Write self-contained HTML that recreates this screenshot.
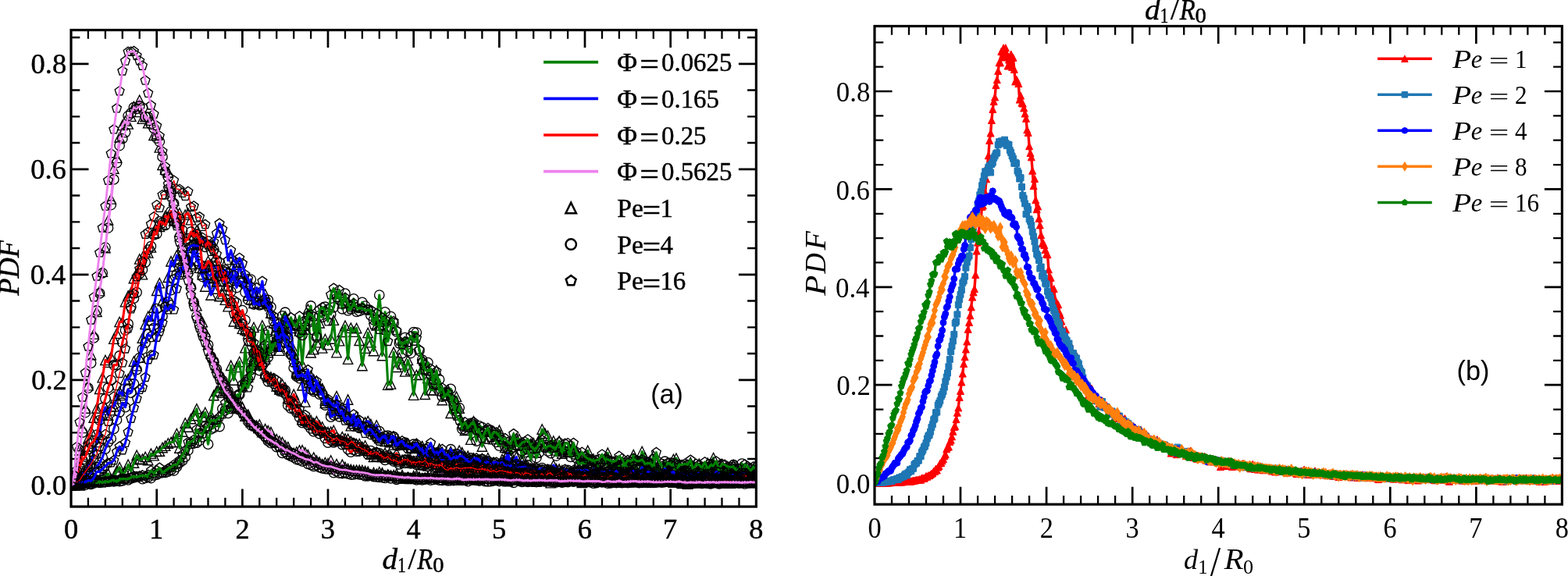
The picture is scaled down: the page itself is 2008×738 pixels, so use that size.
<!DOCTYPE html>
<html lang="en"><head><meta charset="utf-8"><title>PDF of d1/R0</title>
<style>html,body{margin:0;padding:0;background:#fff}body{width:2008px;height:738px;overflow:hidden}svg{display:block}text{fill:#000;font-kerning:none;white-space:pre}</style>
</head><body>
<svg width="2008" height="738" viewBox="0 0 2008 738">
<rect width="2008" height="738" fill="#fff"/>
<defs>
<marker id="lt" markerWidth="24" markerHeight="24" refX="12" refY="12" markerUnits="userSpaceOnUse" orient="0" overflow="visible"><path d="M12.00,5.80 L18.20,18.20 L5.80,18.20 Z" fill="none" stroke="#000" stroke-width="1.35" stroke-linejoin="miter"/></marker>
<marker id="lc" markerWidth="24" markerHeight="24" refX="12" refY="12" markerUnits="userSpaceOnUse" orient="0" overflow="visible"><circle cx="12" cy="12" r="6.2" fill="none" stroke="#000" stroke-width="1.35"/></marker>
<marker id="lp" markerWidth="24" markerHeight="24" refX="12" refY="12" markerUnits="userSpaceOnUse" orient="0" overflow="visible"><path d="M12.00,5.80 L17.90,10.08 L15.64,17.02 L8.36,17.02 L6.10,10.08 Z" fill="none" stroke="#000" stroke-width="1.35" stroke-linejoin="miter"/></marker>
<marker id="rt" markerWidth="24" markerHeight="24" refX="12" refY="12" markerUnits="userSpaceOnUse" orient="0" overflow="visible"><path d="M12.00,7.50 L16.50,16.50 L7.50,16.50 Z" fill="#ff0000" stroke="#ff0000" stroke-width="1" stroke-linejoin="miter"/></marker>
<marker id="rs" markerWidth="24" markerHeight="24" refX="12" refY="12" markerUnits="userSpaceOnUse" orient="0" overflow="visible"><path d="M8.03,8.03 L15.97,8.03 L15.97,15.97 L8.03,15.97 Z" fill="#1f77b4" stroke="#1f77b4" stroke-width="1" stroke-linejoin="miter"/></marker>
<marker id="rc" markerWidth="24" markerHeight="24" refX="12" refY="12" markerUnits="userSpaceOnUse" orient="0" overflow="visible"><circle cx="12" cy="12" r="3.975" fill="#0000ff" stroke="#0000ff" stroke-width="1"/></marker>
<marker id="rd" markerWidth="24" markerHeight="24" refX="12" refY="12" markerUnits="userSpaceOnUse" orient="0" overflow="visible"><path d="M12.00,5.90 L15.66,12.00 L12.00,18.09 L8.34,12.00 Z" fill="#ff7f0e" stroke="#ff7f0e" stroke-width="1" stroke-linejoin="miter"/></marker>
<marker id="rp" markerWidth="24" markerHeight="24" refX="12" refY="12" markerUnits="userSpaceOnUse" orient="0" overflow="visible"><path d="M12.00,7.76 L16.03,10.69 L14.49,15.43 L9.51,15.43 L7.97,10.69 Z" fill="#008000" stroke="#008000" stroke-width="1" stroke-linejoin="miter"/></marker>
<clipPath id="cl"><rect x="91" y="38.5" width="877.4" height="610.6"/></clipPath>
<clipPath id="cr"><rect x="1120" y="33.5" width="880.4" height="612.7"/></clipPath>
</defs>
<path d="M200.7,649.1v-22.5 M200.7,38.5v22.5 M310.4,649.1v-22.5 M310.4,38.5v22.5 M420,649.1v-22.5 M420,38.5v22.5 M529.7,649.1v-22.5 M529.7,38.5v22.5 M639.4,649.1v-22.5 M639.4,38.5v22.5 M749,649.1v-22.5 M749,38.5v22.5 M858.7,649.1v-22.5 M858.7,38.5v22.5 M91,621.8h22.5 M968.4,621.8h-22.5 M91,486.8h22.5 M968.4,486.8h-22.5 M91,351.8h22.5 M968.4,351.8h-22.5 M91,216.8h22.5 M968.4,216.8h-22.5 M91,81.8h22.5 M968.4,81.8h-22.5" stroke="#000" stroke-width="2.7" fill="none"/>
<path d="M112.9,649.1v-11.3 M112.9,38.5v11.3 M134.9,649.1v-11.3 M134.9,38.5v11.3 M156.8,649.1v-11.3 M156.8,38.5v11.3 M178.7,649.1v-11.3 M178.7,38.5v11.3 M222.6,649.1v-11.3 M222.6,38.5v11.3 M244.5,649.1v-11.3 M244.5,38.5v11.3 M266.5,649.1v-11.3 M266.5,38.5v11.3 M288.4,649.1v-11.3 M288.4,38.5v11.3 M332.3,649.1v-11.3 M332.3,38.5v11.3 M354.2,649.1v-11.3 M354.2,38.5v11.3 M376.2,649.1v-11.3 M376.2,38.5v11.3 M398.1,649.1v-11.3 M398.1,38.5v11.3 M442,649.1v-11.3 M442,38.5v11.3 M463.9,649.1v-11.3 M463.9,38.5v11.3 M485.8,649.1v-11.3 M485.8,38.5v11.3 M507.8,649.1v-11.3 M507.8,38.5v11.3 M551.6,649.1v-11.3 M551.6,38.5v11.3 M573.6,649.1v-11.3 M573.6,38.5v11.3 M595.5,649.1v-11.3 M595.5,38.5v11.3 M617.4,649.1v-11.3 M617.4,38.5v11.3 M661.3,649.1v-11.3 M661.3,38.5v11.3 M683.2,649.1v-11.3 M683.2,38.5v11.3 M705.2,649.1v-11.3 M705.2,38.5v11.3 M727.1,649.1v-11.3 M727.1,38.5v11.3 M771,649.1v-11.3 M771,38.5v11.3 M792.9,649.1v-11.3 M792.9,38.5v11.3 M814.9,649.1v-11.3 M814.9,38.5v11.3 M836.8,649.1v-11.3 M836.8,38.5v11.3 M880.7,649.1v-11.3 M880.7,38.5v11.3 M902.6,649.1v-11.3 M902.6,38.5v11.3 M924.5,649.1v-11.3 M924.5,38.5v11.3 M946.5,649.1v-11.3 M946.5,38.5v11.3 M91,588h11.3 M968.4,588h-11.3 M91,554.3h11.3 M968.4,554.3h-11.3 M91,520.5h11.3 M968.4,520.5h-11.3 M91,453h11.3 M968.4,453h-11.3 M91,419.3h11.3 M968.4,419.3h-11.3 M91,385.5h11.3 M968.4,385.5h-11.3 M91,318h11.3 M968.4,318h-11.3 M91,284.3h11.3 M968.4,284.3h-11.3 M91,250.5h11.3 M968.4,250.5h-11.3 M91,183h11.3 M968.4,183h-11.3 M91,149.3h11.3 M968.4,149.3h-11.3 M91,115.5h11.3 M968.4,115.5h-11.3 M91,48h11.3 M968.4,48h-11.3" stroke="#000" stroke-width="2.3" fill="none"/>
<g clip-path="url(#cl)" fill="none" stroke-linejoin="round" stroke-linecap="butt">
<polyline points="91,621.8 94.7,621.5 98.3,621.1 102,621.8 105.6,617.1 109.3,618.3 112.9,618.9 116.6,617.1 120.2,614.8 123.9,616.3 127.6,615.1 131.2,611.4 134.9,610.3 138.5,606.8 142.2,613.9 145.8,611.7 149.5,603.4 153.1,598.7 156.8,607.6 160.5,604.8 164.1,595.2 167.8,603.5 171.4,593.1 175.1,583.3 178.7,588.6 182.4,588.1 186.1,585.4 189.7,589.6 193.4,581.2 197,583.7 200.7,578.4 204.3,578.1 208,573.5 211.6,571.2 215.3,568 219,566.6 222.6,566.2 226.3,555.6 229.9,574 233.6,553.1 237.2,542 240.9,547.1 244.5,536.6 248.2,532.5 251.9,523.8 255.5,544.8 259.2,533.6 262.8,528.5 266.5,540.7 270.1,532 273.8,506.5 277.4,501.3 281.1,496.7 284.8,503.1 288.4,501.1 292.1,498.5 295.7,468.3 299.4,487 303,470.4 306.7,463.5 310.4,494.3 314,445.7 317.7,482.8 321.3,459.7 325,419.4 328.6,466.4 332.3,454.4 335.9,416.9 339.6,459.9 343.3,451.5 346.9,442.9 350.6,439.6 354.2,436.7 357.9,444.1 361.5,423.8 365.2,428.4 368.8,438.9 372.5,449.7 376.2,448.4 379.8,475.9 383.5,423.9 387.1,467 390.8,422 394.4,396.2 398.1,451.8 401.7,447.7 405.4,438.7 409.1,413.8 412.7,445.9 416.4,434.5 420,441.7 423.7,434 427.3,410.2 431,451.6 434.6,436.6 438.3,425.3 442,417.2 445.6,460.2 449.3,420.1 452.9,425.1 456.6,420.5 460.2,436.3 463.9,468.5 467.6,446.1 471.2,426.4 474.9,438.7 478.5,449.5 482.2,416.8 485.8,410.9 489.5,455.5 493.1,422 496.8,493.1 500.5,491.9 504.1,451.3 507.8,470.3 511.4,458.5 515.1,466.7 518.7,475.9 522.4,461.4 526,474.1 529.7,506.1 533.4,480.4 537,479.9 540.7,459.3 544.3,505.3 548,484.4 551.6,499.6 555.3,499.9 558.9,474.5 562.6,493.2 566.3,512.6 569.9,501.9 573.6,499.6 577.2,529.3 580.9,522.4 584.5,508.2 588.2,523.1 591.8,542.3 595.5,551.3 599.2,546.3 602.8,563.2 606.5,539.8 610.1,544.7 613.8,548.6 617.4,572 621.1,562.1 624.8,551.9 628.4,553 632.1,562.5 635.7,558.8 639.4,551.3 643,566.2 646.7,573.3 650.3,574 654,582.6 657.7,560.6 661.3,561.6 665,562.7 668.6,587 672.3,579.2 675.9,569.4 679.6,568.6 683.2,567.8 686.9,579.8 690.6,562.9 694.2,550 697.9,555.3 701.5,558.2 705.2,571.3 708.8,565 712.5,576.9 716.1,565.1 719.8,581 723.5,576.2 727.1,579.4 730.8,570.4 734.4,573.4 738.1,578.6 741.7,592.2 745.4,587.3 749,596.3 752.7,577.3 756.4,589.7 760,587.9 763.7,592.6 767.3,599 771,602.5 774.6,587.7 778.3,580.3 782,599.7 785.6,596.5 789.3,592.5 792.9,602.7 796.6,604.5 800.2,592.6 803.9,592.6 807.5,596.9 811.2,582.6 814.9,590.2 818.5,593.9 822.2,578.5 825.8,586.2 829.5,605.4 833.1,597.2 836.8,583.9 840.4,603.4 844.1,602 847.8,602.1 851.4,605.1 855.1,603 858.7,596.5 862.4,588.5 866,587.2 869.7,594.9 873.3,607.5 877,596.6 880.7,600.6 884.3,592.5 888,597.8 891.6,607.4 895.3,594.3 898.9,609.3 902.6,600.1 906.3,593.2 909.9,595.5 913.6,586.6 917.2,616.8 920.9,595.9 924.5,595.2 928.2,604.5 931.8,598.1 935.5,603.9 939.2,595.5 942.8,597 946.5,606.4 950.1,602.2 953.8,602.9 957.4,604.2 961.1,600.3 964.7,600.4 968.4,594.9" stroke="none" marker-start="url(#lt)" marker-mid="url(#lt)" marker-end="url(#lt)"/>
<polyline points="91,621.8 94.7,621.5 98.3,621.1 102,621.8 105.6,617.1 109.3,618.3 112.9,618.9 116.6,617.1 120.2,614.8 123.9,616.3 127.6,615.1 131.2,611.4 134.9,610.3 138.5,606.8 142.2,613.9 145.8,611.7 149.5,603.4 153.1,598.7 156.8,607.6 160.5,604.8 164.1,595.2 167.8,603.5 171.4,593.1 175.1,583.3 178.7,588.6 182.4,588.1 186.1,585.4 189.7,589.6 193.4,581.2 197,583.7 200.7,578.4 204.3,578.1 208,573.5 211.6,571.2 215.3,568 219,566.6 222.6,566.2 226.3,555.6 229.9,574 233.6,553.1 237.2,542 240.9,547.1 244.5,536.6 248.2,532.5 251.9,523.8 255.5,544.8 259.2,533.6 262.8,528.5 266.5,540.7 270.1,532 273.8,506.5 277.4,501.3 281.1,496.7 284.8,503.1 288.4,501.1 292.1,498.5 295.7,468.3 299.4,487 303,470.4 306.7,463.5 310.4,494.3 314,445.7 317.7,482.8 321.3,459.7 325,419.4 328.6,466.4 332.3,454.4 335.9,416.9 339.6,459.9 343.3,451.5 346.9,442.9 350.6,439.6 354.2,436.7 357.9,444.1 361.5,423.8 365.2,428.4 368.8,438.9 372.5,449.7 376.2,448.4 379.8,475.9 383.5,423.9 387.1,467 390.8,422 394.4,396.2 398.1,451.8 401.7,447.7 405.4,438.7 409.1,413.8 412.7,445.9 416.4,434.5 420,441.7 423.7,434 427.3,410.2 431,451.6 434.6,436.6 438.3,425.3 442,417.2 445.6,460.2 449.3,420.1 452.9,425.1 456.6,420.5 460.2,436.3 463.9,468.5 467.6,446.1 471.2,426.4 474.9,438.7 478.5,449.5 482.2,416.8 485.8,410.9 489.5,455.5 493.1,422 496.8,493.1 500.5,491.9 504.1,451.3 507.8,470.3 511.4,458.5 515.1,466.7 518.7,475.9 522.4,461.4 526,474.1 529.7,506.1 533.4,480.4 537,479.9 540.7,459.3 544.3,505.3 548,484.4 551.6,499.6 555.3,499.9 558.9,474.5 562.6,493.2 566.3,512.6 569.9,501.9 573.6,499.6 577.2,529.3 580.9,522.4 584.5,508.2 588.2,523.1 591.8,542.3 595.5,551.3 599.2,546.3 602.8,563.2 606.5,539.8 610.1,544.7 613.8,548.6 617.4,572 621.1,562.1 624.8,551.9 628.4,553 632.1,562.5 635.7,558.8 639.4,551.3 643,566.2 646.7,573.3 650.3,574 654,582.6 657.7,560.6 661.3,561.6 665,562.7 668.6,587 672.3,579.2 675.9,569.4 679.6,568.6 683.2,567.8 686.9,579.8 690.6,562.9 694.2,550 697.9,555.3 701.5,558.2 705.2,571.3 708.8,565 712.5,576.9 716.1,565.1 719.8,581 723.5,576.2 727.1,579.4 730.8,570.4 734.4,573.4 738.1,578.6 741.7,592.2 745.4,587.3 749,596.3 752.7,577.3 756.4,589.7 760,587.9 763.7,592.6 767.3,599 771,602.5 774.6,587.7 778.3,580.3 782,599.7 785.6,596.5 789.3,592.5 792.9,602.7 796.6,604.5 800.2,592.6 803.9,592.6 807.5,596.9 811.2,582.6 814.9,590.2 818.5,593.9 822.2,578.5 825.8,586.2 829.5,605.4 833.1,597.2 836.8,583.9 840.4,603.4 844.1,602 847.8,602.1 851.4,605.1 855.1,603 858.7,596.5 862.4,588.5 866,587.2 869.7,594.9 873.3,607.5 877,596.6 880.7,600.6 884.3,592.5 888,597.8 891.6,607.4 895.3,594.3 898.9,609.3 902.6,600.1 906.3,593.2 909.9,595.5 913.6,586.6 917.2,616.8 920.9,595.9 924.5,595.2 928.2,604.5 931.8,598.1 935.5,603.9 939.2,595.5 942.8,597 946.5,606.4 950.1,602.2 953.8,602.9 957.4,604.2 961.1,600.3 964.7,600.4 968.4,594.9" stroke="#008000" stroke-width="3.1"/>
<polyline points="91,621.8 94.7,621.6 98.3,621 102,621.4 105.6,620.3 109.3,621.2 112.9,618 116.6,620.4 120.2,619 123.9,617.4 127.6,618.4 131.2,617.7 134.9,617.5 138.5,617.2 142.2,616.3 145.8,616.8 149.5,615.7 153.1,616.7 156.8,615.9 160.5,613.8 164.1,614.9 167.8,612.9 171.4,611.9 175.1,610.6 178.7,610.7 182.4,613.7 186.1,612.4 189.7,611.3 193.4,612.5 197,609 200.7,608.1 204.3,606.1 208,605.5 211.6,605.4 215.3,604.1 219,602.1 222.6,603 226.3,598.2 229.9,592.8 233.6,590.1 237.2,585.3 240.9,577 244.5,568.3 248.2,568 251.9,567.1 255.5,564.5 259.2,559.9 262.8,546.5 266.5,569.2 270.1,549.8 273.8,547.9 277.4,540.3 281.1,546.6 284.8,523.8 288.4,525.7 292.1,529.4 295.7,523.7 299.4,523 303,511.8 306.7,505.7 310.4,493.3 314,490.2 317.7,485.8 321.3,473.9 325,468.4 328.6,465.1 332.3,474.6 335.9,447 339.6,463.1 343.3,457.6 346.9,445.9 350.6,435.3 354.2,419.9 357.9,443.8 361.5,404.8 365.2,400.2 368.8,418.1 372.5,417.2 376.2,416.9 379.8,415.9 383.5,426.5 387.1,429.3 390.8,411.4 394.4,411.1 398.1,391.9 401.7,423.2 405.4,432.2 409.1,404.5 412.7,406.3 416.4,393.2 420,396.4 423.7,402.7 427.3,393.8 431,376.6 434.6,383.1 438.3,395.8 442,376.1 445.6,397.9 449.3,392.9 452.9,382.9 456.6,399.4 460.2,398.4 463.9,387.4 467.6,392 471.2,397.1 474.9,404.2 478.5,409.8 482.2,409.2 485.8,378 489.5,415.8 493.1,399.8 496.8,419.1 500.5,405.5 504.1,413.9 507.8,424.9 511.4,439.8 515.1,452.7 518.7,432.5 522.4,449.9 526,452.5 529.7,425.6 533.4,426 537,449.4 540.7,461 544.3,468.4 548,464.6 551.6,480.1 555.3,492.1 558.9,492.1 562.6,486.2 566.3,508.1 569.9,506.1 573.6,502.8 577.2,498.3 580.9,514.1 584.5,527.1 588.2,522.5 591.8,549.7 595.5,550.4 599.2,544.9 602.8,542.3 606.5,547.5 610.1,565.1 613.8,545.8 617.4,547.5 621.1,552.9 624.8,551.1 628.4,551.3 632.1,557.5 635.7,566.4 639.4,571.2 643,564.4 646.7,572.3 650.3,573.5 654,575.4 657.7,572.8 661.3,570.9 665,570.6 668.6,577.9 672.3,569.7 675.9,575.8 679.6,589.2 683.2,571.2 686.9,586.5 690.6,579.7 694.2,571.4 697.9,573.4 701.5,578 705.2,580.6 708.8,573.3 712.5,584 716.1,575.2 719.8,579.5 723.5,572.9 727.1,578.5 730.8,585.3 734.4,581.8 738.1,586.9 741.7,595.5 745.4,593.1 749,593.8 752.7,590.5 756.4,589.3 760,591.5 763.7,594.5 767.3,593.2 771,591.6 774.6,589 778.3,597.4 782,592.1 785.6,596.8 789.3,600.3 792.9,596.8 796.6,596.7 800.2,595.8 803.9,597 807.5,597.5 811.2,593.2 814.9,600.6 818.5,601.1 822.2,592.6 825.8,594.6 829.5,592.2 833.1,601 836.8,588.3 840.4,601.4 844.1,599.2 847.8,594.6 851.4,591.2 855.1,600 858.7,593.2 862.4,593.5 866,595.6 869.7,600.1 873.3,608 877,602.8 880.7,603.4 884.3,598.7 888,598.4 891.6,601.4 895.3,599.6 898.9,602.1 902.6,598.4 906.3,602.6 909.9,594.5 913.6,598.5 917.2,600.3 920.9,600.6 924.5,602.7 928.2,602.3 931.8,603.4 935.5,602.7 939.2,595.7 942.8,601.9 946.5,601.1 950.1,594 953.8,601.4 957.4,600.2 961.1,605.2 964.7,606.7 968.4,603.8" stroke="none" marker-start="url(#lc)" marker-mid="url(#lc)" marker-end="url(#lc)"/>
<polyline points="91,621.8 94.7,621.6 98.3,621 102,621.4 105.6,620.3 109.3,621.2 112.9,618 116.6,620.4 120.2,619 123.9,617.4 127.6,618.4 131.2,617.7 134.9,617.5 138.5,617.2 142.2,616.3 145.8,616.8 149.5,615.7 153.1,616.7 156.8,615.9 160.5,613.8 164.1,614.9 167.8,612.9 171.4,611.9 175.1,610.6 178.7,610.7 182.4,613.7 186.1,612.4 189.7,611.3 193.4,612.5 197,609 200.7,608.1 204.3,606.1 208,605.5 211.6,605.4 215.3,604.1 219,602.1 222.6,603 226.3,598.2 229.9,592.8 233.6,590.1 237.2,585.3 240.9,577 244.5,568.3 248.2,568 251.9,567.1 255.5,564.5 259.2,559.9 262.8,546.5 266.5,569.2 270.1,549.8 273.8,547.9 277.4,540.3 281.1,546.6 284.8,523.8 288.4,525.7 292.1,529.4 295.7,523.7 299.4,523 303,511.8 306.7,505.7 310.4,493.3 314,490.2 317.7,485.8 321.3,473.9 325,468.4 328.6,465.1 332.3,474.6 335.9,447 339.6,463.1 343.3,457.6 346.9,445.9 350.6,435.3 354.2,419.9 357.9,443.8 361.5,404.8 365.2,400.2 368.8,418.1 372.5,417.2 376.2,416.9 379.8,415.9 383.5,426.5 387.1,429.3 390.8,411.4 394.4,411.1 398.1,391.9 401.7,423.2 405.4,432.2 409.1,404.5 412.7,406.3 416.4,393.2 420,396.4 423.7,402.7 427.3,393.8 431,376.6 434.6,383.1 438.3,395.8 442,376.1 445.6,397.9 449.3,392.9 452.9,382.9 456.6,399.4 460.2,398.4 463.9,387.4 467.6,392 471.2,397.1 474.9,404.2 478.5,409.8 482.2,409.2 485.8,378 489.5,415.8 493.1,399.8 496.8,419.1 500.5,405.5 504.1,413.9 507.8,424.9 511.4,439.8 515.1,452.7 518.7,432.5 522.4,449.9 526,452.5 529.7,425.6 533.4,426 537,449.4 540.7,461 544.3,468.4 548,464.6 551.6,480.1 555.3,492.1 558.9,492.1 562.6,486.2 566.3,508.1 569.9,506.1 573.6,502.8 577.2,498.3 580.9,514.1 584.5,527.1 588.2,522.5 591.8,549.7 595.5,550.4 599.2,544.9 602.8,542.3 606.5,547.5 610.1,565.1 613.8,545.8 617.4,547.5 621.1,552.9 624.8,551.1 628.4,551.3 632.1,557.5 635.7,566.4 639.4,571.2 643,564.4 646.7,572.3 650.3,573.5 654,575.4 657.7,572.8 661.3,570.9 665,570.6 668.6,577.9 672.3,569.7 675.9,575.8 679.6,589.2 683.2,571.2 686.9,586.5 690.6,579.7 694.2,571.4 697.9,573.4 701.5,578 705.2,580.6 708.8,573.3 712.5,584 716.1,575.2 719.8,579.5 723.5,572.9 727.1,578.5 730.8,585.3 734.4,581.8 738.1,586.9 741.7,595.5 745.4,593.1 749,593.8 752.7,590.5 756.4,589.3 760,591.5 763.7,594.5 767.3,593.2 771,591.6 774.6,589 778.3,597.4 782,592.1 785.6,596.8 789.3,600.3 792.9,596.8 796.6,596.7 800.2,595.8 803.9,597 807.5,597.5 811.2,593.2 814.9,600.6 818.5,601.1 822.2,592.6 825.8,594.6 829.5,592.2 833.1,601 836.8,588.3 840.4,601.4 844.1,599.2 847.8,594.6 851.4,591.2 855.1,600 858.7,593.2 862.4,593.5 866,595.6 869.7,600.1 873.3,608 877,602.8 880.7,603.4 884.3,598.7 888,598.4 891.6,601.4 895.3,599.6 898.9,602.1 902.6,598.4 906.3,602.6 909.9,594.5 913.6,598.5 917.2,600.3 920.9,600.6 924.5,602.7 928.2,602.3 931.8,603.4 935.5,602.7 939.2,595.7 942.8,601.9 946.5,601.1 950.1,594 953.8,601.4 957.4,600.2 961.1,605.2 964.7,606.7 968.4,603.8" stroke="#008000" stroke-width="3.1"/>
<polyline points="91,621.8 94.7,621.1 98.3,620.9 102,619.9 105.6,620.8 109.3,618.8 112.9,618.1 116.6,617.3 120.2,616.7 123.9,618.5 127.6,616.7 131.2,618.7 134.9,616.4 138.5,617.8 142.2,615.7 145.8,615 149.5,617.3 153.1,614.3 156.8,613.3 160.5,613.8 164.1,613.6 167.8,611.6 171.4,610 175.1,611.7 178.7,610 182.4,608.9 186.1,610 189.7,608.3 193.4,602.9 197,606.5 200.7,602.8 204.3,599.3 208,605.3 211.6,603.1 215.3,600.4 219,598.7 222.6,595.5 226.3,595.5 229.9,589.9 233.6,582.5 237.2,577.1 240.9,566.6 244.5,566.2 248.2,563.5 251.9,550.2 255.5,555.1 259.2,555.9 262.8,549.2 266.5,546.8 270.1,538.5 273.8,538.9 277.4,537.9 281.1,534.4 284.8,530.8 288.4,516.4 292.1,510.3 295.7,521.9 299.4,512.5 303,506.3 306.7,504.9 310.4,497.2 314,492.4 317.7,496.9 321.3,481.5 325,464.6 328.6,455 332.3,458.8 335.9,456.7 339.6,441.8 343.3,423.7 346.9,450.4 350.6,443.3 354.2,435.6 357.9,419.3 361.5,428 365.2,411.6 368.8,420.8 372.5,406.8 376.2,416.6 379.8,418.2 383.5,405.1 387.1,423.2 390.8,418.3 394.4,404 398.1,403.2 401.7,405.7 405.4,430.6 409.1,396.8 412.7,393.7 416.4,398.7 420,411.8 423.7,377.7 427.3,369.3 431,381.2 434.6,371.6 438.3,389.9 442,381.5 445.6,388.9 449.3,396.5 452.9,388.7 456.6,393.7 460.2,395.5 463.9,394.8 467.6,397.9 471.2,396.9 474.9,397.3 478.5,416.3 482.2,401.6 485.8,422.3 489.5,407.1 493.1,409.8 496.8,437.5 500.5,420.3 504.1,411.5 507.8,423.6 511.4,437.1 515.1,441.6 518.7,437.6 522.4,438.7 526,430.6 529.7,437.2 533.4,433.3 537,448.1 540.7,463.2 544.3,474 548,475.7 551.6,472.5 555.3,487.3 558.9,475.8 562.6,501.8 566.3,497 569.9,508.1 573.6,503.5 577.2,509.7 580.9,520.7 584.5,533 588.2,538.5 591.8,546 595.5,540.9 599.2,548.3 602.8,543.8 606.5,540.6 610.1,551.1 613.8,552.5 617.4,561.8 621.1,553.3 624.8,548.5 628.4,561.2 632.1,553.9 635.7,554.1 639.4,559 643,563.7 646.7,561.6 650.3,566.3 654,569 657.7,555.8 661.3,570.6 665,572 668.6,567 672.3,565.9 675.9,563 679.6,571.1 683.2,575.3 686.9,574.7 690.6,568 694.2,563.8 697.9,573.8 701.5,572 705.2,570.8 708.8,574.1 712.5,573.1 716.1,566.4 719.8,578.8 723.5,568.3 727.1,567.7 730.8,580.1 734.4,567.6 738.1,578.4 741.7,584.5 745.4,579.4 749,584.8 752.7,587.8 756.4,588.8 760,590.9 763.7,589.4 767.3,588.4 771,582.2 774.6,588.7 778.3,588.6 782,590.5 785.6,591.5 789.3,590 792.9,584.4 796.6,587.7 800.2,596.2 803.9,589.6 807.5,591.2 811.2,587.3 814.9,590.6 818.5,590.8 822.2,588.9 825.8,594.4 829.5,593.2 833.1,593.8 836.8,598.6 840.4,579.6 844.1,591.7 847.8,597.4 851.4,599.3 855.1,593 858.7,594.8 862.4,597.6 866,603.5 869.7,595 873.3,595.6 877,594.2 880.7,595.4 884.3,589.3 888,602.5 891.6,594.4 895.3,595.4 898.9,599.2 902.6,592 906.3,600.9 909.9,596.2 913.6,596.5 917.2,591 920.9,601.4 924.5,594.4 928.2,595.4 931.8,597.9 935.5,598.3 939.2,598.2 942.8,603.1 946.5,600.7 950.1,607 953.8,595.1 957.4,597.5 961.1,604 964.7,598 968.4,601.5" stroke="none" marker-start="url(#lp)" marker-mid="url(#lp)" marker-end="url(#lp)"/>
<polyline points="91,621.8 94.7,621.1 98.3,620.9 102,619.9 105.6,620.8 109.3,618.8 112.9,618.1 116.6,617.3 120.2,616.7 123.9,618.5 127.6,616.7 131.2,618.7 134.9,616.4 138.5,617.8 142.2,615.7 145.8,615 149.5,617.3 153.1,614.3 156.8,613.3 160.5,613.8 164.1,613.6 167.8,611.6 171.4,610 175.1,611.7 178.7,610 182.4,608.9 186.1,610 189.7,608.3 193.4,602.9 197,606.5 200.7,602.8 204.3,599.3 208,605.3 211.6,603.1 215.3,600.4 219,598.7 222.6,595.5 226.3,595.5 229.9,589.9 233.6,582.5 237.2,577.1 240.9,566.6 244.5,566.2 248.2,563.5 251.9,550.2 255.5,555.1 259.2,555.9 262.8,549.2 266.5,546.8 270.1,538.5 273.8,538.9 277.4,537.9 281.1,534.4 284.8,530.8 288.4,516.4 292.1,510.3 295.7,521.9 299.4,512.5 303,506.3 306.7,504.9 310.4,497.2 314,492.4 317.7,496.9 321.3,481.5 325,464.6 328.6,455 332.3,458.8 335.9,456.7 339.6,441.8 343.3,423.7 346.9,450.4 350.6,443.3 354.2,435.6 357.9,419.3 361.5,428 365.2,411.6 368.8,420.8 372.5,406.8 376.2,416.6 379.8,418.2 383.5,405.1 387.1,423.2 390.8,418.3 394.4,404 398.1,403.2 401.7,405.7 405.4,430.6 409.1,396.8 412.7,393.7 416.4,398.7 420,411.8 423.7,377.7 427.3,369.3 431,381.2 434.6,371.6 438.3,389.9 442,381.5 445.6,388.9 449.3,396.5 452.9,388.7 456.6,393.7 460.2,395.5 463.9,394.8 467.6,397.9 471.2,396.9 474.9,397.3 478.5,416.3 482.2,401.6 485.8,422.3 489.5,407.1 493.1,409.8 496.8,437.5 500.5,420.3 504.1,411.5 507.8,423.6 511.4,437.1 515.1,441.6 518.7,437.6 522.4,438.7 526,430.6 529.7,437.2 533.4,433.3 537,448.1 540.7,463.2 544.3,474 548,475.7 551.6,472.5 555.3,487.3 558.9,475.8 562.6,501.8 566.3,497 569.9,508.1 573.6,503.5 577.2,509.7 580.9,520.7 584.5,533 588.2,538.5 591.8,546 595.5,540.9 599.2,548.3 602.8,543.8 606.5,540.6 610.1,551.1 613.8,552.5 617.4,561.8 621.1,553.3 624.8,548.5 628.4,561.2 632.1,553.9 635.7,554.1 639.4,559 643,563.7 646.7,561.6 650.3,566.3 654,569 657.7,555.8 661.3,570.6 665,572 668.6,567 672.3,565.9 675.9,563 679.6,571.1 683.2,575.3 686.9,574.7 690.6,568 694.2,563.8 697.9,573.8 701.5,572 705.2,570.8 708.8,574.1 712.5,573.1 716.1,566.4 719.8,578.8 723.5,568.3 727.1,567.7 730.8,580.1 734.4,567.6 738.1,578.4 741.7,584.5 745.4,579.4 749,584.8 752.7,587.8 756.4,588.8 760,590.9 763.7,589.4 767.3,588.4 771,582.2 774.6,588.7 778.3,588.6 782,590.5 785.6,591.5 789.3,590 792.9,584.4 796.6,587.7 800.2,596.2 803.9,589.6 807.5,591.2 811.2,587.3 814.9,590.6 818.5,590.8 822.2,588.9 825.8,594.4 829.5,593.2 833.1,593.8 836.8,598.6 840.4,579.6 844.1,591.7 847.8,597.4 851.4,599.3 855.1,593 858.7,594.8 862.4,597.6 866,603.5 869.7,595 873.3,595.6 877,594.2 880.7,595.4 884.3,589.3 888,602.5 891.6,594.4 895.3,595.4 898.9,599.2 902.6,592 906.3,600.9 909.9,596.2 913.6,596.5 917.2,591 920.9,601.4 924.5,594.4 928.2,595.4 931.8,597.9 935.5,598.3 939.2,598.2 942.8,603.1 946.5,600.7 950.1,607 953.8,595.1 957.4,597.5 961.1,604 964.7,598 968.4,601.5" stroke="#008000" stroke-width="3.1"/>
<polyline points="91,621.8 94.7,617 98.3,614.9 102,614.7 105.6,605.5 109.3,607.4 112.9,597.8 116.6,593.7 120.2,578.2 123.9,566.4 127.6,557 131.2,531.6 134.9,521.9 138.5,532 142.2,520.6 145.8,520.9 149.5,510.9 153.1,501.6 156.8,506.4 160.5,486.6 164.1,485.8 167.8,480 171.4,463 175.1,468.7 178.7,458.1 182.4,433.2 186.1,415.4 189.7,405.4 193.4,410.4 197,394 200.7,372.3 204.3,362.7 208,385.7 211.6,387.2 215.3,355.3 219,334.8 222.6,341.3 226.3,327.1 229.9,331.7 233.6,333.4 237.2,330.7 240.9,330.7 244.5,338.3 248.2,312.4 251.9,318.6 255.5,343.2 259.2,351.5 262.8,367 266.5,355.5 270.1,378 273.8,370 277.4,353.6 281.1,348.8 284.8,347.8 288.4,366.4 292.1,348.4 295.7,355.9 299.4,338.8 303,359.3 306.7,338.4 310.4,355.2 314,360.7 317.7,378.5 321.3,383.7 325,388.3 328.6,374.9 332.3,389.2 335.9,389.6 339.6,377.1 343.3,387 346.9,401 350.6,413.9 354.2,431 357.9,449.1 361.5,425.8 365.2,405.5 368.8,413.6 372.5,420.3 376.2,454.1 379.8,477.8 383.5,469.4 387.1,493.8 390.8,514.9 394.4,490.5 398.1,481.3 401.7,486.2 405.4,488 409.1,495.7 412.7,497.6 416.4,516.3 420,512.9 423.7,525.3 427.3,524.4 431,507.6 434.6,523.3 438.3,522.1 442,530.4 445.6,512 449.3,545.7 452.9,542.6 456.6,533.4 460.2,542.8 463.9,547 467.6,541.1 471.2,539.6 474.9,543.5 478.5,552.4 482.2,544.9 485.8,561.7 489.5,559.7 493.1,565.3 496.8,559.8 500.5,564 504.1,569.9 507.8,560.9 511.4,566.4 515.1,568.4 518.7,568.1 522.4,568.5 526,574.3 529.7,578.7 533.4,568.5 537,584.4 540.7,571.6 544.3,576.8 548,581.1 551.6,583.4 555.3,579.3 558.9,580.1 562.6,574.9 566.3,579.2 569.9,586.9 573.6,584.7 577.2,578.5 580.9,582.4 584.5,586.3 588.2,577.2 591.8,579.8 595.5,584.7 599.2,584.3 602.8,589.3 606.5,586.9 610.1,593.6 613.8,590.8 617.4,587.5 621.1,590 624.8,586.7 628.4,594.4 632.1,593 635.7,595.4 639.4,598.4 643,588.5 646.7,590.9 650.3,580.5 654,593.3 657.7,591 661.3,585.3 665,600 668.6,591.4 672.3,602.8 675.9,602.5 679.6,600.1 683.2,604.8 686.9,599.5 690.6,601.8 694.2,605.2 697.9,605.1 701.5,601.5 705.2,602.3 708.8,595.9 712.5,600.9 716.1,600.9 719.8,602.6 723.5,609.8 727.1,609.8 730.8,605.2 734.4,608.1 738.1,609.3 741.7,604 745.4,606.4 749,604.8 752.7,604.7 756.4,607.8 760,600.9 763.7,608.8 767.3,605.5 771,604.7 774.6,604.6 778.3,607.7 782,605.1 785.6,606.6 789.3,605.3 792.9,612 796.6,611.2 800.2,607 803.9,607.3 807.5,606.6 811.2,606.2 814.9,602.2 818.5,607.4 822.2,598.9 825.8,607.3 829.5,609.5 833.1,608.4 836.8,605.2 840.4,604.8 844.1,610.2 847.8,607.3 851.4,600.7 855.1,604.1 858.7,605.2 862.4,611 866,609.4 869.7,606.2 873.3,605.6 877,608.8 880.7,604.7 884.3,616 888,609.6 891.6,611.7 895.3,606.8 898.9,610.7 902.6,610.3 906.3,609.2 909.9,613.7 913.6,609.3 917.2,612.3 920.9,613.2 924.5,609.9 928.2,616.6 931.8,611.3 935.5,609.8 939.2,613 942.8,616.2 946.5,606.4 950.1,609.3 953.8,611.2 957.4,609.5 961.1,614.1 964.7,610.9 968.4,605.8" stroke="none" marker-start="url(#lt)" marker-mid="url(#lt)" marker-end="url(#lt)"/>
<polyline points="91,621.8 94.7,617 98.3,614.9 102,614.7 105.6,605.5 109.3,607.4 112.9,597.8 116.6,593.7 120.2,578.2 123.9,566.4 127.6,557 131.2,531.6 134.9,521.9 138.5,532 142.2,520.6 145.8,520.9 149.5,510.9 153.1,501.6 156.8,506.4 160.5,486.6 164.1,485.8 167.8,480 171.4,463 175.1,468.7 178.7,458.1 182.4,433.2 186.1,415.4 189.7,405.4 193.4,410.4 197,394 200.7,372.3 204.3,362.7 208,385.7 211.6,387.2 215.3,355.3 219,334.8 222.6,341.3 226.3,327.1 229.9,331.7 233.6,333.4 237.2,330.7 240.9,330.7 244.5,338.3 248.2,312.4 251.9,318.6 255.5,343.2 259.2,351.5 262.8,367 266.5,355.5 270.1,378 273.8,370 277.4,353.6 281.1,348.8 284.8,347.8 288.4,366.4 292.1,348.4 295.7,355.9 299.4,338.8 303,359.3 306.7,338.4 310.4,355.2 314,360.7 317.7,378.5 321.3,383.7 325,388.3 328.6,374.9 332.3,389.2 335.9,389.6 339.6,377.1 343.3,387 346.9,401 350.6,413.9 354.2,431 357.9,449.1 361.5,425.8 365.2,405.5 368.8,413.6 372.5,420.3 376.2,454.1 379.8,477.8 383.5,469.4 387.1,493.8 390.8,514.9 394.4,490.5 398.1,481.3 401.7,486.2 405.4,488 409.1,495.7 412.7,497.6 416.4,516.3 420,512.9 423.7,525.3 427.3,524.4 431,507.6 434.6,523.3 438.3,522.1 442,530.4 445.6,512 449.3,545.7 452.9,542.6 456.6,533.4 460.2,542.8 463.9,547 467.6,541.1 471.2,539.6 474.9,543.5 478.5,552.4 482.2,544.9 485.8,561.7 489.5,559.7 493.1,565.3 496.8,559.8 500.5,564 504.1,569.9 507.8,560.9 511.4,566.4 515.1,568.4 518.7,568.1 522.4,568.5 526,574.3 529.7,578.7 533.4,568.5 537,584.4 540.7,571.6 544.3,576.8 548,581.1 551.6,583.4 555.3,579.3 558.9,580.1 562.6,574.9 566.3,579.2 569.9,586.9 573.6,584.7 577.2,578.5 580.9,582.4 584.5,586.3 588.2,577.2 591.8,579.8 595.5,584.7 599.2,584.3 602.8,589.3 606.5,586.9 610.1,593.6 613.8,590.8 617.4,587.5 621.1,590 624.8,586.7 628.4,594.4 632.1,593 635.7,595.4 639.4,598.4 643,588.5 646.7,590.9 650.3,580.5 654,593.3 657.7,591 661.3,585.3 665,600 668.6,591.4 672.3,602.8 675.9,602.5 679.6,600.1 683.2,604.8 686.9,599.5 690.6,601.8 694.2,605.2 697.9,605.1 701.5,601.5 705.2,602.3 708.8,595.9 712.5,600.9 716.1,600.9 719.8,602.6 723.5,609.8 727.1,609.8 730.8,605.2 734.4,608.1 738.1,609.3 741.7,604 745.4,606.4 749,604.8 752.7,604.7 756.4,607.8 760,600.9 763.7,608.8 767.3,605.5 771,604.7 774.6,604.6 778.3,607.7 782,605.1 785.6,606.6 789.3,605.3 792.9,612 796.6,611.2 800.2,607 803.9,607.3 807.5,606.6 811.2,606.2 814.9,602.2 818.5,607.4 822.2,598.9 825.8,607.3 829.5,609.5 833.1,608.4 836.8,605.2 840.4,604.8 844.1,610.2 847.8,607.3 851.4,600.7 855.1,604.1 858.7,605.2 862.4,611 866,609.4 869.7,606.2 873.3,605.6 877,608.8 880.7,604.7 884.3,616 888,609.6 891.6,611.7 895.3,606.8 898.9,610.7 902.6,610.3 906.3,609.2 909.9,613.7 913.6,609.3 917.2,612.3 920.9,613.2 924.5,609.9 928.2,616.6 931.8,611.3 935.5,609.8 939.2,613 942.8,616.2 946.5,606.4 950.1,609.3 953.8,611.2 957.4,609.5 961.1,614.1 964.7,610.9 968.4,605.8" stroke="#0000ff" stroke-width="3.1"/>
<polyline points="91,621.8 94.7,621.5 98.3,618.4 102,618.8 105.6,615.3 109.3,615.7 112.9,607.6 116.6,606.9 120.2,600.6 123.9,598.3 127.6,592.5 131.2,586.1 134.9,575.1 138.5,566.3 142.2,562 145.8,549.4 149.5,538 153.1,528.1 156.8,516.2 160.5,521.7 164.1,498.9 167.8,503.2 171.4,491.8 175.1,473.6 178.7,458.6 182.4,447.5 186.1,439.2 189.7,428.3 193.4,431.6 197,420.4 200.7,395.6 204.3,420 208,405 211.6,393.4 215.3,386.9 219,371.6 222.6,358.2 226.3,351.4 229.9,343.5 233.6,348.6 237.2,332.1 240.9,337.9 244.5,342 248.2,318.8 251.9,334.1 255.5,338.7 259.2,354.5 262.8,341.2 266.5,352.2 270.1,352.5 273.8,340.8 277.4,341.4 281.1,353.3 284.8,346.8 288.4,345.8 292.1,350.6 295.7,361.2 299.4,353 303,368.5 306.7,359.8 310.4,362.2 314,374.5 317.7,384 321.3,358 325,390 328.6,388.6 332.3,390.9 335.9,386.9 339.6,387.5 343.3,384.3 346.9,393.4 350.6,411.6 354.2,429.6 357.9,432.9 361.5,425.7 365.2,430.1 368.8,433.2 372.5,454.1 376.2,471.2 379.8,482.2 383.5,484.6 387.1,480.5 390.8,481.8 394.4,486.8 398.1,498.8 401.7,501.5 405.4,499.8 409.1,505.2 412.7,504.9 416.4,519.1 420,515.3 423.7,534.2 427.3,531.8 431,530.6 434.6,533.8 438.3,525.9 442,534.1 445.6,537.6 449.3,539 452.9,546 456.6,540.1 460.2,548.3 463.9,546.1 467.6,547.2 471.2,551.4 474.9,556.5 478.5,553.7 482.2,560.8 485.8,552.6 489.5,562.1 493.1,562.2 496.8,558 500.5,559.6 504.1,559.8 507.8,571 511.4,570.5 515.1,569.8 518.7,567.2 522.4,574.4 526,574.6 529.7,569.2 533.4,572.5 537,574.2 540.7,577.6 544.3,575.5 548,584.1 551.6,586.7 555.3,585.3 558.9,581.3 562.6,584.1 566.3,590.3 569.9,586.8 573.6,590 577.2,575.7 580.9,583 584.5,581.7 588.2,590.7 591.8,589.6 595.5,591.5 599.2,588.8 602.8,586.9 606.5,593.3 610.1,589.7 613.8,590.1 617.4,588.4 621.1,593.9 624.8,590.9 628.4,597.2 632.1,594.1 635.7,596.5 639.4,596.6 643,595.1 646.7,595.9 650.3,586.9 654,595.3 657.7,601.3 661.3,595.2 665,596.9 668.6,600.2 672.3,596.6 675.9,595.9 679.6,602.9 683.2,602.9 686.9,600.2 690.6,603.3 694.2,599.5 697.9,602 701.5,601.6 705.2,602.9 708.8,606.2 712.5,605.9 716.1,603.8 719.8,604.8 723.5,605.3 727.1,602.4 730.8,605.8 734.4,605.6 738.1,603.1 741.7,604.6 745.4,607.1 749,603.8 752.7,606.9 756.4,609.8 760,603.2 763.7,606.8 767.3,606.6 771,606.4 774.6,607.2 778.3,603.9 782,602.4 785.6,604.1 789.3,608.2 792.9,605.2 796.6,611.5 800.2,609.3 803.9,606 807.5,607.1 811.2,602.9 814.9,607.2 818.5,608.8 822.2,608.8 825.8,606.8 829.5,610.9 833.1,608.6 836.8,612 840.4,604 844.1,613.3 847.8,613.9 851.4,607.8 855.1,608.1 858.7,609 862.4,609.6 866,613.1 869.7,611.8 873.3,610.9 877,607.7 880.7,608.9 884.3,611.6 888,610.6 891.6,606.7 895.3,606.4 898.9,611 902.6,611 906.3,614 909.9,614 913.6,612.5 917.2,604.5 920.9,605.3 924.5,611.9 928.2,612 931.8,612.4 935.5,612.5 939.2,611.2 942.8,610.1 946.5,612.8 950.1,606.2 953.8,606.5 957.4,610.7 961.1,610.9 964.7,611.6 968.4,610.5" stroke="none" marker-start="url(#lc)" marker-mid="url(#lc)" marker-end="url(#lc)"/>
<polyline points="91,621.8 94.7,621.5 98.3,618.4 102,618.8 105.6,615.3 109.3,615.7 112.9,607.6 116.6,606.9 120.2,600.6 123.9,598.3 127.6,592.5 131.2,586.1 134.9,575.1 138.5,566.3 142.2,562 145.8,549.4 149.5,538 153.1,528.1 156.8,516.2 160.5,521.7 164.1,498.9 167.8,503.2 171.4,491.8 175.1,473.6 178.7,458.6 182.4,447.5 186.1,439.2 189.7,428.3 193.4,431.6 197,420.4 200.7,395.6 204.3,420 208,405 211.6,393.4 215.3,386.9 219,371.6 222.6,358.2 226.3,351.4 229.9,343.5 233.6,348.6 237.2,332.1 240.9,337.9 244.5,342 248.2,318.8 251.9,334.1 255.5,338.7 259.2,354.5 262.8,341.2 266.5,352.2 270.1,352.5 273.8,340.8 277.4,341.4 281.1,353.3 284.8,346.8 288.4,345.8 292.1,350.6 295.7,361.2 299.4,353 303,368.5 306.7,359.8 310.4,362.2 314,374.5 317.7,384 321.3,358 325,390 328.6,388.6 332.3,390.9 335.9,386.9 339.6,387.5 343.3,384.3 346.9,393.4 350.6,411.6 354.2,429.6 357.9,432.9 361.5,425.7 365.2,430.1 368.8,433.2 372.5,454.1 376.2,471.2 379.8,482.2 383.5,484.6 387.1,480.5 390.8,481.8 394.4,486.8 398.1,498.8 401.7,501.5 405.4,499.8 409.1,505.2 412.7,504.9 416.4,519.1 420,515.3 423.7,534.2 427.3,531.8 431,530.6 434.6,533.8 438.3,525.9 442,534.1 445.6,537.6 449.3,539 452.9,546 456.6,540.1 460.2,548.3 463.9,546.1 467.6,547.2 471.2,551.4 474.9,556.5 478.5,553.7 482.2,560.8 485.8,552.6 489.5,562.1 493.1,562.2 496.8,558 500.5,559.6 504.1,559.8 507.8,571 511.4,570.5 515.1,569.8 518.7,567.2 522.4,574.4 526,574.6 529.7,569.2 533.4,572.5 537,574.2 540.7,577.6 544.3,575.5 548,584.1 551.6,586.7 555.3,585.3 558.9,581.3 562.6,584.1 566.3,590.3 569.9,586.8 573.6,590 577.2,575.7 580.9,583 584.5,581.7 588.2,590.7 591.8,589.6 595.5,591.5 599.2,588.8 602.8,586.9 606.5,593.3 610.1,589.7 613.8,590.1 617.4,588.4 621.1,593.9 624.8,590.9 628.4,597.2 632.1,594.1 635.7,596.5 639.4,596.6 643,595.1 646.7,595.9 650.3,586.9 654,595.3 657.7,601.3 661.3,595.2 665,596.9 668.6,600.2 672.3,596.6 675.9,595.9 679.6,602.9 683.2,602.9 686.9,600.2 690.6,603.3 694.2,599.5 697.9,602 701.5,601.6 705.2,602.9 708.8,606.2 712.5,605.9 716.1,603.8 719.8,604.8 723.5,605.3 727.1,602.4 730.8,605.8 734.4,605.6 738.1,603.1 741.7,604.6 745.4,607.1 749,603.8 752.7,606.9 756.4,609.8 760,603.2 763.7,606.8 767.3,606.6 771,606.4 774.6,607.2 778.3,603.9 782,602.4 785.6,604.1 789.3,608.2 792.9,605.2 796.6,611.5 800.2,609.3 803.9,606 807.5,607.1 811.2,602.9 814.9,607.2 818.5,608.8 822.2,608.8 825.8,606.8 829.5,610.9 833.1,608.6 836.8,612 840.4,604 844.1,613.3 847.8,613.9 851.4,607.8 855.1,608.1 858.7,609 862.4,609.6 866,613.1 869.7,611.8 873.3,610.9 877,607.7 880.7,608.9 884.3,611.6 888,610.6 891.6,606.7 895.3,606.4 898.9,611 902.6,611 906.3,614 909.9,614 913.6,612.5 917.2,604.5 920.9,605.3 924.5,611.9 928.2,612 931.8,612.4 935.5,612.5 939.2,611.2 942.8,610.1 946.5,612.8 950.1,606.2 953.8,606.5 957.4,610.7 961.1,610.9 964.7,611.6 968.4,610.5" stroke="#0000ff" stroke-width="3.1"/>
<polyline points="91,621.8 94.7,621.2 98.3,620.4 102,618.7 105.6,617.5 109.3,617.8 112.9,615.6 116.6,616.3 120.2,612.4 123.9,604.4 127.6,604.4 131.2,600.7 134.9,597.5 138.5,593.4 142.2,592.8 145.8,589.9 149.5,579 153.1,572.1 156.8,576.7 160.5,567.4 164.1,553.6 167.8,536.2 171.4,522.6 175.1,510.7 178.7,499.3 182.4,496.5 186.1,483.5 189.7,460.7 193.4,455 197,454.8 200.7,432.2 204.3,424.8 208,413.6 211.6,392.8 215.3,396.8 219,390.5 222.6,396.9 226.3,369.8 229.9,352.5 233.6,343.9 237.2,336.8 240.9,318.6 244.5,315.1 248.2,313.9 251.9,314.9 255.5,314.7 259.2,304.4 262.8,311.3 266.5,313.4 270.1,314.8 273.8,309.9 277.4,299.1 281.1,286.3 284.8,293.7 288.4,307.6 292.1,333.8 295.7,320.7 299.4,333.9 303,337.3 306.7,330.5 310.4,337.5 314,351.9 317.7,357.2 321.3,366.9 325,375.8 328.6,368.6 332.3,374.9 335.9,360.3 339.6,389.2 343.3,393.4 346.9,402.9 350.6,405.3 354.2,419.8 357.9,413.4 361.5,421.2 365.2,439.2 368.8,448.6 372.5,453.9 376.2,464.7 379.8,480.5 383.5,482.2 387.1,479.3 390.8,483.8 394.4,473.8 398.1,491.8 401.7,500.5 405.4,488.4 409.1,497.5 412.7,504.4 416.4,514.6 420,511.4 423.7,516.7 427.3,520.4 431,518.3 434.6,527.6 438.3,528.9 442,539.1 445.6,534 449.3,539.6 452.9,531 456.6,545.7 460.2,538.3 463.9,547 467.6,555.4 471.2,550.6 474.9,550.1 478.5,556 482.2,559.7 485.8,565.2 489.5,559.9 493.1,558.2 496.8,567.7 500.5,562 504.1,558.9 507.8,570.5 511.4,566.8 515.1,564.9 518.7,571.2 522.4,571.2 526,574.5 529.7,572.9 533.4,568.5 537,574.3 540.7,576.6 544.3,584.6 548,572.9 551.6,567.5 555.3,579.2 558.9,579.9 562.6,579.9 566.3,575.6 569.9,582.4 573.6,582.7 577.2,588.9 580.9,585.7 584.5,587.1 588.2,584.3 591.8,584.5 595.5,587.3 599.2,591 602.8,592.8 606.5,587.8 610.1,587.1 613.8,589.4 617.4,593.8 621.1,593.3 624.8,592.3 628.4,595 632.1,592.2 635.7,592.3 639.4,594.2 643,592.4 646.7,597.1 650.3,596.8 654,597.6 657.7,597.6 661.3,599.8 665,600.1 668.6,598.2 672.3,598.8 675.9,599.5 679.6,601.1 683.2,600.8 686.9,605.9 690.6,601.3 694.2,601.5 697.9,604.8 701.5,602.9 705.2,604.4 708.8,604.8 712.5,608.6 716.1,608.6 719.8,604 723.5,601.3 727.1,604 730.8,610.8 734.4,602.5 738.1,604.7 741.7,602.1 745.4,603.7 749,602.1 752.7,603.1 756.4,608.8 760,606.9 763.7,607.3 767.3,606.9 771,604.6 774.6,606.8 778.3,605.2 782,606.3 785.6,607.1 789.3,603.5 792.9,610.9 796.6,609.6 800.2,608.5 803.9,607.8 807.5,604.3 811.2,606.1 814.9,610.1 818.5,608.9 822.2,607.3 825.8,611 829.5,604.5 833.1,605.4 836.8,608.5 840.4,611.3 844.1,611.1 847.8,612.3 851.4,608.4 855.1,611.2 858.7,606.1 862.4,604.4 866,609.4 869.7,612.4 873.3,606.9 877,608.4 880.7,609.9 884.3,608.1 888,609.9 891.6,611.4 895.3,612.9 898.9,610.9 902.6,609.2 906.3,607.3 909.9,610 913.6,613.5 917.2,613.3 920.9,610.1 924.5,611.7 928.2,610.4 931.8,610.8 935.5,607.6 939.2,608.6 942.8,612.4 946.5,611.1 950.1,607.9 953.8,608.8 957.4,614 961.1,611.4 964.7,610.1 968.4,611.9" stroke="none" marker-start="url(#lp)" marker-mid="url(#lp)" marker-end="url(#lp)"/>
<polyline points="91,621.8 94.7,621.2 98.3,620.4 102,618.7 105.6,617.5 109.3,617.8 112.9,615.6 116.6,616.3 120.2,612.4 123.9,604.4 127.6,604.4 131.2,600.7 134.9,597.5 138.5,593.4 142.2,592.8 145.8,589.9 149.5,579 153.1,572.1 156.8,576.7 160.5,567.4 164.1,553.6 167.8,536.2 171.4,522.6 175.1,510.7 178.7,499.3 182.4,496.5 186.1,483.5 189.7,460.7 193.4,455 197,454.8 200.7,432.2 204.3,424.8 208,413.6 211.6,392.8 215.3,396.8 219,390.5 222.6,396.9 226.3,369.8 229.9,352.5 233.6,343.9 237.2,336.8 240.9,318.6 244.5,315.1 248.2,313.9 251.9,314.9 255.5,314.7 259.2,304.4 262.8,311.3 266.5,313.4 270.1,314.8 273.8,309.9 277.4,299.1 281.1,286.3 284.8,293.7 288.4,307.6 292.1,333.8 295.7,320.7 299.4,333.9 303,337.3 306.7,330.5 310.4,337.5 314,351.9 317.7,357.2 321.3,366.9 325,375.8 328.6,368.6 332.3,374.9 335.9,360.3 339.6,389.2 343.3,393.4 346.9,402.9 350.6,405.3 354.2,419.8 357.9,413.4 361.5,421.2 365.2,439.2 368.8,448.6 372.5,453.9 376.2,464.7 379.8,480.5 383.5,482.2 387.1,479.3 390.8,483.8 394.4,473.8 398.1,491.8 401.7,500.5 405.4,488.4 409.1,497.5 412.7,504.4 416.4,514.6 420,511.4 423.7,516.7 427.3,520.4 431,518.3 434.6,527.6 438.3,528.9 442,539.1 445.6,534 449.3,539.6 452.9,531 456.6,545.7 460.2,538.3 463.9,547 467.6,555.4 471.2,550.6 474.9,550.1 478.5,556 482.2,559.7 485.8,565.2 489.5,559.9 493.1,558.2 496.8,567.7 500.5,562 504.1,558.9 507.8,570.5 511.4,566.8 515.1,564.9 518.7,571.2 522.4,571.2 526,574.5 529.7,572.9 533.4,568.5 537,574.3 540.7,576.6 544.3,584.6 548,572.9 551.6,567.5 555.3,579.2 558.9,579.9 562.6,579.9 566.3,575.6 569.9,582.4 573.6,582.7 577.2,588.9 580.9,585.7 584.5,587.1 588.2,584.3 591.8,584.5 595.5,587.3 599.2,591 602.8,592.8 606.5,587.8 610.1,587.1 613.8,589.4 617.4,593.8 621.1,593.3 624.8,592.3 628.4,595 632.1,592.2 635.7,592.3 639.4,594.2 643,592.4 646.7,597.1 650.3,596.8 654,597.6 657.7,597.6 661.3,599.8 665,600.1 668.6,598.2 672.3,598.8 675.9,599.5 679.6,601.1 683.2,600.8 686.9,605.9 690.6,601.3 694.2,601.5 697.9,604.8 701.5,602.9 705.2,604.4 708.8,604.8 712.5,608.6 716.1,608.6 719.8,604 723.5,601.3 727.1,604 730.8,610.8 734.4,602.5 738.1,604.7 741.7,602.1 745.4,603.7 749,602.1 752.7,603.1 756.4,608.8 760,606.9 763.7,607.3 767.3,606.9 771,604.6 774.6,606.8 778.3,605.2 782,606.3 785.6,607.1 789.3,603.5 792.9,610.9 796.6,609.6 800.2,608.5 803.9,607.8 807.5,604.3 811.2,606.1 814.9,610.1 818.5,608.9 822.2,607.3 825.8,611 829.5,604.5 833.1,605.4 836.8,608.5 840.4,611.3 844.1,611.1 847.8,612.3 851.4,608.4 855.1,611.2 858.7,606.1 862.4,604.4 866,609.4 869.7,612.4 873.3,606.9 877,608.4 880.7,609.9 884.3,608.1 888,609.9 891.6,611.4 895.3,612.9 898.9,610.9 902.6,609.2 906.3,607.3 909.9,610 913.6,613.5 917.2,613.3 920.9,610.1 924.5,611.7 928.2,610.4 931.8,610.8 935.5,607.6 939.2,608.6 942.8,612.4 946.5,611.1 950.1,607.9 953.8,608.8 957.4,614 961.1,611.4 964.7,610.1 968.4,611.9" stroke="#0000ff" stroke-width="3.1"/>
<polyline points="91,621.8 94.7,613.5 98.3,606 102,591.7 105.6,582.7 109.3,572 112.9,561.8 116.6,552.2 120.2,535 123.9,523.1 127.6,498.3 131.2,483.6 134.9,461.4 138.5,464.2 142.2,457.3 145.8,434.2 149.5,427.1 153.1,412.4 156.8,412.4 160.5,386.6 164.1,378.9 167.8,374.8 171.4,356.5 175.1,350.3 178.7,331.9 182.4,351.7 186.1,322.6 189.7,323.9 193.4,316.9 197,298.1 200.7,289.7 204.3,290.3 208,287.2 211.6,276.8 215.3,277.8 219,270.7 222.6,282.8 226.3,272.7 229.9,273 233.6,298.7 237.2,275.2 240.9,272.9 244.5,281.6 248.2,301.4 251.9,295.2 255.5,304 259.2,343.7 262.8,342.2 266.5,334.5 270.1,338.4 273.8,356.6 277.4,360.5 281.1,379.5 284.8,376.7 288.4,384.2 292.1,392.6 295.7,387.8 299.4,411.8 303,395.7 306.7,414.3 310.4,421.2 314,422.7 317.7,427.6 321.3,430.5 325,448.4 328.6,449.9 332.3,467.9 335.9,463 339.6,478.4 343.3,483 346.9,483 350.6,485.6 354.2,494.8 357.9,498.8 361.5,492.4 365.2,496.5 368.8,510.1 372.5,514.5 376.2,505.3 379.8,513.6 383.5,527.3 387.1,537.6 390.8,538.8 394.4,538.8 398.1,538.2 401.7,542.1 405.4,539.8 409.1,545 412.7,547 416.4,554.1 420,553.6 423.7,553.2 427.3,551.4 431,564.6 434.6,564.6 438.3,559.7 442,562 445.6,562.4 449.3,565.5 452.9,568.3 456.6,568.8 460.2,568.6 463.9,572.4 467.6,570.9 471.2,577 474.9,582.2 478.5,585.3 482.2,584.6 485.8,581.9 489.5,585.3 493.1,580.4 496.8,584.8 500.5,584.9 504.1,586.7 507.8,580.7 511.4,588.9 515.1,589.3 518.7,593 522.4,588.7 526,589.2 529.7,590.8 533.4,592.7 537,591.9 540.7,595.1 544.3,588.2 548,596.9 551.6,591.5 555.3,591.5 558.9,590.5 562.6,599 566.3,597.7 569.9,597.9 573.6,599.7 577.2,599.3 580.9,596.7 584.5,595.7 588.2,594.5 591.8,600.4 595.5,602.1 599.2,606.1 602.8,602.6 606.5,594.7 610.1,599.4 613.8,600.1 617.4,596.8 621.1,602.2 624.8,600.5 628.4,596.8 632.1,605.8 635.7,599.8 639.4,600.1 643,599.7 646.7,604.6 650.3,603.5 654,605.7 657.7,601.3 661.3,608.6 665,605.5 668.6,606.5 672.3,605.2 675.9,602.7 679.6,605.6 683.2,603.4 686.9,607.6 690.6,612.3 694.2,606.5 697.9,610 701.5,604.3 705.2,606.1 708.8,607.2 712.5,609 716.1,608.6 719.8,604.1 723.5,609.1 727.1,611 730.8,607.3 734.4,606.4 738.1,609.6 741.7,607.7 745.4,610.2 749,612.3 752.7,611.5 756.4,607.8 760,607.7 763.7,611 767.3,608.7 771,611.6 774.6,612.2 778.3,607.7 782,610.5 785.6,617.6 789.3,617.3 792.9,612.8 796.6,611.9 800.2,610.9 803.9,609.2 807.5,606.8 811.2,617.6 814.9,613.9 818.5,613.3 822.2,613.7 825.8,608.4 829.5,615.2 833.1,611.9 836.8,615.1 840.4,609.4 844.1,611.5 847.8,611.3 851.4,609.5 855.1,612 858.7,611.6 862.4,617.8 866,610.9 869.7,611.4 873.3,611.8 877,613.8 880.7,618.5 884.3,616 888,613 891.6,614.5 895.3,612.6 898.9,616.2 902.6,614.5 906.3,611 909.9,613.7 913.6,615.1 917.2,617.9 920.9,615.3 924.5,614.3 928.2,616.8 931.8,611.8 935.5,612.1 939.2,616.7 942.8,611.9 946.5,614.3 950.1,612.2 953.8,609.2 957.4,614 961.1,613.9 964.7,615.1 968.4,612.2" stroke="none" marker-start="url(#lt)" marker-mid="url(#lt)" marker-end="url(#lt)"/>
<polyline points="91,621.8 94.7,613.5 98.3,606 102,591.7 105.6,582.7 109.3,572 112.9,561.8 116.6,552.2 120.2,535 123.9,523.1 127.6,498.3 131.2,483.6 134.9,461.4 138.5,464.2 142.2,457.3 145.8,434.2 149.5,427.1 153.1,412.4 156.8,412.4 160.5,386.6 164.1,378.9 167.8,374.8 171.4,356.5 175.1,350.3 178.7,331.9 182.4,351.7 186.1,322.6 189.7,323.9 193.4,316.9 197,298.1 200.7,289.7 204.3,290.3 208,287.2 211.6,276.8 215.3,277.8 219,270.7 222.6,282.8 226.3,272.7 229.9,273 233.6,298.7 237.2,275.2 240.9,272.9 244.5,281.6 248.2,301.4 251.9,295.2 255.5,304 259.2,343.7 262.8,342.2 266.5,334.5 270.1,338.4 273.8,356.6 277.4,360.5 281.1,379.5 284.8,376.7 288.4,384.2 292.1,392.6 295.7,387.8 299.4,411.8 303,395.7 306.7,414.3 310.4,421.2 314,422.7 317.7,427.6 321.3,430.5 325,448.4 328.6,449.9 332.3,467.9 335.9,463 339.6,478.4 343.3,483 346.9,483 350.6,485.6 354.2,494.8 357.9,498.8 361.5,492.4 365.2,496.5 368.8,510.1 372.5,514.5 376.2,505.3 379.8,513.6 383.5,527.3 387.1,537.6 390.8,538.8 394.4,538.8 398.1,538.2 401.7,542.1 405.4,539.8 409.1,545 412.7,547 416.4,554.1 420,553.6 423.7,553.2 427.3,551.4 431,564.6 434.6,564.6 438.3,559.7 442,562 445.6,562.4 449.3,565.5 452.9,568.3 456.6,568.8 460.2,568.6 463.9,572.4 467.6,570.9 471.2,577 474.9,582.2 478.5,585.3 482.2,584.6 485.8,581.9 489.5,585.3 493.1,580.4 496.8,584.8 500.5,584.9 504.1,586.7 507.8,580.7 511.4,588.9 515.1,589.3 518.7,593 522.4,588.7 526,589.2 529.7,590.8 533.4,592.7 537,591.9 540.7,595.1 544.3,588.2 548,596.9 551.6,591.5 555.3,591.5 558.9,590.5 562.6,599 566.3,597.7 569.9,597.9 573.6,599.7 577.2,599.3 580.9,596.7 584.5,595.7 588.2,594.5 591.8,600.4 595.5,602.1 599.2,606.1 602.8,602.6 606.5,594.7 610.1,599.4 613.8,600.1 617.4,596.8 621.1,602.2 624.8,600.5 628.4,596.8 632.1,605.8 635.7,599.8 639.4,600.1 643,599.7 646.7,604.6 650.3,603.5 654,605.7 657.7,601.3 661.3,608.6 665,605.5 668.6,606.5 672.3,605.2 675.9,602.7 679.6,605.6 683.2,603.4 686.9,607.6 690.6,612.3 694.2,606.5 697.9,610 701.5,604.3 705.2,606.1 708.8,607.2 712.5,609 716.1,608.6 719.8,604.1 723.5,609.1 727.1,611 730.8,607.3 734.4,606.4 738.1,609.6 741.7,607.7 745.4,610.2 749,612.3 752.7,611.5 756.4,607.8 760,607.7 763.7,611 767.3,608.7 771,611.6 774.6,612.2 778.3,607.7 782,610.5 785.6,617.6 789.3,617.3 792.9,612.8 796.6,611.9 800.2,610.9 803.9,609.2 807.5,606.8 811.2,617.6 814.9,613.9 818.5,613.3 822.2,613.7 825.8,608.4 829.5,615.2 833.1,611.9 836.8,615.1 840.4,609.4 844.1,611.5 847.8,611.3 851.4,609.5 855.1,612 858.7,611.6 862.4,617.8 866,610.9 869.7,611.4 873.3,611.8 877,613.8 880.7,618.5 884.3,616 888,613 891.6,614.5 895.3,612.6 898.9,616.2 902.6,614.5 906.3,611 909.9,613.7 913.6,615.1 917.2,617.9 920.9,615.3 924.5,614.3 928.2,616.8 931.8,611.8 935.5,612.1 939.2,616.7 942.8,611.9 946.5,614.3 950.1,612.2 953.8,609.2 957.4,614 961.1,613.9 964.7,615.1 968.4,612.2" stroke="#ff0000" stroke-width="3.1"/>
<polyline points="91,621.8 94.7,617.6 98.3,609.3 102,598.8 105.6,589 109.3,585.1 112.9,575.9 116.6,568.3 120.2,565.1 123.9,557.1 127.6,538.5 131.2,522.4 134.9,510.9 138.5,496.9 142.2,487.1 145.8,467.6 149.5,467.7 153.1,455.9 156.8,438.9 160.5,423 164.1,414.9 167.8,393.1 171.4,382.2 175.1,374.6 178.7,350.6 182.4,345.7 186.1,336.2 189.7,320 193.4,315.6 197,300.9 200.7,299.7 204.3,283.8 208,285.3 211.6,288.6 215.3,278.6 219,270.8 222.6,283.2 226.3,285.1 229.9,280.6 233.6,295.1 237.2,309.7 240.9,305.6 244.5,297 248.2,302.9 251.9,300.1 255.5,307.1 259.2,309.1 262.8,316.3 266.5,309 270.1,314.4 273.8,319.5 277.4,333.9 281.1,352.8 284.8,360.3 288.4,348.5 292.1,371.8 295.7,373.7 299.4,385.6 303,388.1 306.7,405.3 310.4,397.5 314,410.1 317.7,425.2 321.3,428 325,452.2 328.6,453.3 332.3,463.8 335.9,468.5 339.6,481.1 343.3,488.8 346.9,485.6 350.6,491.5 354.2,496.4 357.9,501.2 361.5,501.8 365.2,499.9 368.8,519.4 372.5,523.2 376.2,523.7 379.8,528.5 383.5,534.7 387.1,541.7 390.8,540.7 394.4,544.4 398.1,548.9 401.7,552.9 405.4,551.5 409.1,555.6 412.7,554 416.4,561.3 420,567.1 423.7,564 427.3,566.8 431,565.2 434.6,564.5 438.3,569.6 442,569.1 445.6,575.6 449.3,579.2 452.9,576.3 456.6,578.2 460.2,578 463.9,577.1 467.6,577.7 471.2,582.1 474.9,577.6 478.5,582.6 482.2,580.9 485.8,580.8 489.5,586.4 493.1,589.3 496.8,583.5 500.5,587.4 504.1,591 507.8,588.4 511.4,594.9 515.1,591 518.7,589.1 522.4,592.9 526,593.8 529.7,593.2 533.4,595.4 537,595.8 540.7,596.1 544.3,595.5 548,597.7 551.6,595.5 555.3,599 558.9,598.2 562.6,597.3 566.3,592.9 569.9,596.1 573.6,596.2 577.2,601.4 580.9,602.7 584.5,603 588.2,603.5 591.8,602.4 595.5,603.8 599.2,607 602.8,602.9 606.5,604 610.1,604.2 613.8,605.8 617.4,599.1 621.1,603.7 624.8,600.8 628.4,605.3 632.1,609.4 635.7,611.3 639.4,607.7 643,606.8 646.7,607.5 650.3,604.8 654,607.7 657.7,604.6 661.3,607.8 665,611.2 668.6,605.8 672.3,608.4 675.9,610.4 679.6,609.4 683.2,607.3 686.9,608 690.6,609.5 694.2,609.6 697.9,608.7 701.5,607.1 705.2,610.5 708.8,611.6 712.5,611.8 716.1,606.9 719.8,611.7 723.5,609.4 727.1,606.7 730.8,610.5 734.4,611.2 738.1,611 741.7,609.9 745.4,611 749,613.7 752.7,610.2 756.4,612 760,613.1 763.7,612.9 767.3,614.6 771,611.4 774.6,614.6 778.3,610.5 782,612.4 785.6,612.4 789.3,614.2 792.9,613.7 796.6,614.1 800.2,610.5 803.9,611.5 807.5,610.7 811.2,614.3 814.9,612.7 818.5,610 822.2,611.4 825.8,613.7 829.5,612.6 833.1,612.4 836.8,610.7 840.4,611.4 844.1,614.5 847.8,616.2 851.4,614.3 855.1,611.8 858.7,614.3 862.4,615.3 866,614.9 869.7,616.1 873.3,615.2 877,612.5 880.7,613.7 884.3,616.8 888,616.6 891.6,613.1 895.3,616.5 898.9,613.7 902.6,617.8 906.3,612 909.9,613.4 913.6,613.8 917.2,614.6 920.9,613.4 924.5,616.8 928.2,614.8 931.8,615.8 935.5,615.4 939.2,612.1 942.8,613.6 946.5,612 950.1,618.5 953.8,613.4 957.4,617.3 961.1,615.3 964.7,615.7 968.4,614.1" stroke="none" marker-start="url(#lc)" marker-mid="url(#lc)" marker-end="url(#lc)"/>
<polyline points="91,621.8 94.7,617.6 98.3,609.3 102,598.8 105.6,589 109.3,585.1 112.9,575.9 116.6,568.3 120.2,565.1 123.9,557.1 127.6,538.5 131.2,522.4 134.9,510.9 138.5,496.9 142.2,487.1 145.8,467.6 149.5,467.7 153.1,455.9 156.8,438.9 160.5,423 164.1,414.9 167.8,393.1 171.4,382.2 175.1,374.6 178.7,350.6 182.4,345.7 186.1,336.2 189.7,320 193.4,315.6 197,300.9 200.7,299.7 204.3,283.8 208,285.3 211.6,288.6 215.3,278.6 219,270.8 222.6,283.2 226.3,285.1 229.9,280.6 233.6,295.1 237.2,309.7 240.9,305.6 244.5,297 248.2,302.9 251.9,300.1 255.5,307.1 259.2,309.1 262.8,316.3 266.5,309 270.1,314.4 273.8,319.5 277.4,333.9 281.1,352.8 284.8,360.3 288.4,348.5 292.1,371.8 295.7,373.7 299.4,385.6 303,388.1 306.7,405.3 310.4,397.5 314,410.1 317.7,425.2 321.3,428 325,452.2 328.6,453.3 332.3,463.8 335.9,468.5 339.6,481.1 343.3,488.8 346.9,485.6 350.6,491.5 354.2,496.4 357.9,501.2 361.5,501.8 365.2,499.9 368.8,519.4 372.5,523.2 376.2,523.7 379.8,528.5 383.5,534.7 387.1,541.7 390.8,540.7 394.4,544.4 398.1,548.9 401.7,552.9 405.4,551.5 409.1,555.6 412.7,554 416.4,561.3 420,567.1 423.7,564 427.3,566.8 431,565.2 434.6,564.5 438.3,569.6 442,569.1 445.6,575.6 449.3,579.2 452.9,576.3 456.6,578.2 460.2,578 463.9,577.1 467.6,577.7 471.2,582.1 474.9,577.6 478.5,582.6 482.2,580.9 485.8,580.8 489.5,586.4 493.1,589.3 496.8,583.5 500.5,587.4 504.1,591 507.8,588.4 511.4,594.9 515.1,591 518.7,589.1 522.4,592.9 526,593.8 529.7,593.2 533.4,595.4 537,595.8 540.7,596.1 544.3,595.5 548,597.7 551.6,595.5 555.3,599 558.9,598.2 562.6,597.3 566.3,592.9 569.9,596.1 573.6,596.2 577.2,601.4 580.9,602.7 584.5,603 588.2,603.5 591.8,602.4 595.5,603.8 599.2,607 602.8,602.9 606.5,604 610.1,604.2 613.8,605.8 617.4,599.1 621.1,603.7 624.8,600.8 628.4,605.3 632.1,609.4 635.7,611.3 639.4,607.7 643,606.8 646.7,607.5 650.3,604.8 654,607.7 657.7,604.6 661.3,607.8 665,611.2 668.6,605.8 672.3,608.4 675.9,610.4 679.6,609.4 683.2,607.3 686.9,608 690.6,609.5 694.2,609.6 697.9,608.7 701.5,607.1 705.2,610.5 708.8,611.6 712.5,611.8 716.1,606.9 719.8,611.7 723.5,609.4 727.1,606.7 730.8,610.5 734.4,611.2 738.1,611 741.7,609.9 745.4,611 749,613.7 752.7,610.2 756.4,612 760,613.1 763.7,612.9 767.3,614.6 771,611.4 774.6,614.6 778.3,610.5 782,612.4 785.6,612.4 789.3,614.2 792.9,613.7 796.6,614.1 800.2,610.5 803.9,611.5 807.5,610.7 811.2,614.3 814.9,612.7 818.5,610 822.2,611.4 825.8,613.7 829.5,612.6 833.1,612.4 836.8,610.7 840.4,611.4 844.1,614.5 847.8,616.2 851.4,614.3 855.1,611.8 858.7,614.3 862.4,615.3 866,614.9 869.7,616.1 873.3,615.2 877,612.5 880.7,613.7 884.3,616.8 888,616.6 891.6,613.1 895.3,616.5 898.9,613.7 902.6,617.8 906.3,612 909.9,613.4 913.6,613.8 917.2,614.6 920.9,613.4 924.5,616.8 928.2,614.8 931.8,615.8 935.5,615.4 939.2,612.1 942.8,613.6 946.5,612 950.1,618.5 953.8,613.4 957.4,617.3 961.1,615.3 964.7,615.7 968.4,614.1" stroke="#ff0000" stroke-width="3.1"/>
<polyline points="91,621.8 94.7,619.9 98.3,617.7 102,615.5 105.6,609.6 109.3,604.5 112.9,599.6 116.6,594.6 120.2,588.3 123.9,581.9 127.6,572.2 131.2,562.9 134.9,556.5 138.5,540.2 142.2,526.9 145.8,508.1 149.5,494.6 153.1,478.5 156.8,464.8 160.5,447 164.1,420.8 167.8,395.9 171.4,376.5 175.1,354.7 178.7,344.6 182.4,335.3 186.1,300.2 189.7,297.5 193.4,287.3 197,277.9 200.7,262.7 204.3,266.4 208,249.7 211.6,249.7 215.3,241.2 219,240.4 222.6,231.2 226.3,242.4 229.9,242.5 233.6,247.3 237.2,251.4 240.9,245.4 244.5,265.2 248.2,264 251.9,279.1 255.5,277.8 259.2,290.3 262.8,287.6 266.5,314 270.1,322.4 273.8,321.8 277.4,325.7 281.1,335.3 284.8,350.3 288.4,358.6 292.1,367.8 295.7,386.4 299.4,402.2 303,408.6 306.7,415.9 310.4,414.5 314,425 317.7,437.5 321.3,438.3 325,439.3 328.6,448.1 332.3,451 335.9,468.3 339.6,482.4 343.3,483.5 346.9,489.4 350.6,484.6 354.2,487 357.9,499.7 361.5,498.5 365.2,504.6 368.8,512.9 372.5,513.4 376.2,517.6 379.8,526.6 383.5,524.2 387.1,533.2 390.8,531.8 394.4,539 398.1,544.2 401.7,545.8 405.4,551.9 409.1,552.1 412.7,553 416.4,553 420,558.5 423.7,560.8 427.3,563.7 431,560.7 434.6,564.7 438.3,565.2 442,566.3 445.6,570 449.3,566.3 452.9,567.5 456.6,572.7 460.2,572.9 463.9,575.2 467.6,576.1 471.2,579.1 474.9,582 478.5,580.4 482.2,579.1 485.8,583.2 489.5,584.2 493.1,587.1 496.8,584.9 500.5,589.4 504.1,589.7 507.8,590.8 511.4,592.9 515.1,589.9 518.7,589.1 522.4,588.6 526,592.4 529.7,592 533.4,592.9 537,590.9 540.7,592.6 544.3,589.9 548,594.3 551.6,593.3 555.3,595.3 558.9,596.4 562.6,595.4 566.3,597.1 569.9,601.1 573.6,602.5 577.2,599.3 580.9,600.9 584.5,598.7 588.2,600.4 591.8,599.9 595.5,599.3 599.2,599.5 602.8,599 606.5,599.8 610.1,601.4 613.8,601.2 617.4,600.6 621.1,602.1 624.8,602.1 628.4,604.4 632.1,602.5 635.7,605 639.4,603.1 643,603.2 646.7,603.8 650.3,605 654,605.7 657.7,606.5 661.3,605.4 665,606.5 668.6,610.4 672.3,606 675.9,606.4 679.6,607.5 683.2,610.3 686.9,610.6 690.6,608.9 694.2,607.2 697.9,610.8 701.5,606.8 705.2,606 708.8,610.2 712.5,607.7 716.1,610 719.8,611.2 723.5,610.7 727.1,609.7 730.8,606.6 734.4,611.6 738.1,608.6 741.7,610.4 745.4,611.3 749,608.2 752.7,611.2 756.4,610.4 760,612.2 763.7,612.8 767.3,611.1 771,610.8 774.6,612.7 778.3,611.7 782,609.7 785.6,610.7 789.3,611.9 792.9,611.7 796.6,611.9 800.2,610.1 803.9,612.5 807.5,614.8 811.2,612.2 814.9,613.8 818.5,613.8 822.2,615.5 825.8,612.1 829.5,612.9 833.1,614.4 836.8,613.7 840.4,614.3 844.1,611.1 847.8,614.2 851.4,614 855.1,612.7 858.7,616.8 862.4,615 866,613.5 869.7,612.9 873.3,614.4 877,614.6 880.7,613.3 884.3,613.9 888,613.5 891.6,615.7 895.3,613.4 898.9,614.4 902.6,614.4 906.3,611 909.9,613.5 913.6,616.4 917.2,612.4 920.9,614.4 924.5,614 928.2,614.4 931.8,614.5 935.5,617.4 939.2,616 942.8,617.1 946.5,615.7 950.1,616.3 953.8,612.7 957.4,612.9 961.1,616.9 964.7,617.5 968.4,616.5" stroke="none" marker-start="url(#lp)" marker-mid="url(#lp)" marker-end="url(#lp)"/>
<polyline points="91,621.8 94.7,619.9 98.3,617.7 102,615.5 105.6,609.6 109.3,604.5 112.9,599.6 116.6,594.6 120.2,588.3 123.9,581.9 127.6,572.2 131.2,562.9 134.9,556.5 138.5,540.2 142.2,526.9 145.8,508.1 149.5,494.6 153.1,478.5 156.8,464.8 160.5,447 164.1,420.8 167.8,395.9 171.4,376.5 175.1,354.7 178.7,344.6 182.4,335.3 186.1,300.2 189.7,297.5 193.4,287.3 197,277.9 200.7,262.7 204.3,266.4 208,249.7 211.6,249.7 215.3,241.2 219,240.4 222.6,231.2 226.3,242.4 229.9,242.5 233.6,247.3 237.2,251.4 240.9,245.4 244.5,265.2 248.2,264 251.9,279.1 255.5,277.8 259.2,290.3 262.8,287.6 266.5,314 270.1,322.4 273.8,321.8 277.4,325.7 281.1,335.3 284.8,350.3 288.4,358.6 292.1,367.8 295.7,386.4 299.4,402.2 303,408.6 306.7,415.9 310.4,414.5 314,425 317.7,437.5 321.3,438.3 325,439.3 328.6,448.1 332.3,451 335.9,468.3 339.6,482.4 343.3,483.5 346.9,489.4 350.6,484.6 354.2,487 357.9,499.7 361.5,498.5 365.2,504.6 368.8,512.9 372.5,513.4 376.2,517.6 379.8,526.6 383.5,524.2 387.1,533.2 390.8,531.8 394.4,539 398.1,544.2 401.7,545.8 405.4,551.9 409.1,552.1 412.7,553 416.4,553 420,558.5 423.7,560.8 427.3,563.7 431,560.7 434.6,564.7 438.3,565.2 442,566.3 445.6,570 449.3,566.3 452.9,567.5 456.6,572.7 460.2,572.9 463.9,575.2 467.6,576.1 471.2,579.1 474.9,582 478.5,580.4 482.2,579.1 485.8,583.2 489.5,584.2 493.1,587.1 496.8,584.9 500.5,589.4 504.1,589.7 507.8,590.8 511.4,592.9 515.1,589.9 518.7,589.1 522.4,588.6 526,592.4 529.7,592 533.4,592.9 537,590.9 540.7,592.6 544.3,589.9 548,594.3 551.6,593.3 555.3,595.3 558.9,596.4 562.6,595.4 566.3,597.1 569.9,601.1 573.6,602.5 577.2,599.3 580.9,600.9 584.5,598.7 588.2,600.4 591.8,599.9 595.5,599.3 599.2,599.5 602.8,599 606.5,599.8 610.1,601.4 613.8,601.2 617.4,600.6 621.1,602.1 624.8,602.1 628.4,604.4 632.1,602.5 635.7,605 639.4,603.1 643,603.2 646.7,603.8 650.3,605 654,605.7 657.7,606.5 661.3,605.4 665,606.5 668.6,610.4 672.3,606 675.9,606.4 679.6,607.5 683.2,610.3 686.9,610.6 690.6,608.9 694.2,607.2 697.9,610.8 701.5,606.8 705.2,606 708.8,610.2 712.5,607.7 716.1,610 719.8,611.2 723.5,610.7 727.1,609.7 730.8,606.6 734.4,611.6 738.1,608.6 741.7,610.4 745.4,611.3 749,608.2 752.7,611.2 756.4,610.4 760,612.2 763.7,612.8 767.3,611.1 771,610.8 774.6,612.7 778.3,611.7 782,609.7 785.6,610.7 789.3,611.9 792.9,611.7 796.6,611.9 800.2,610.1 803.9,612.5 807.5,614.8 811.2,612.2 814.9,613.8 818.5,613.8 822.2,615.5 825.8,612.1 829.5,612.9 833.1,614.4 836.8,613.7 840.4,614.3 844.1,611.1 847.8,614.2 851.4,614 855.1,612.7 858.7,616.8 862.4,615 866,613.5 869.7,612.9 873.3,614.4 877,614.6 880.7,613.3 884.3,613.9 888,613.5 891.6,615.7 895.3,613.4 898.9,614.4 902.6,614.4 906.3,611 909.9,613.5 913.6,616.4 917.2,612.4 920.9,614.4 924.5,614 928.2,614.4 931.8,614.5 935.5,617.4 939.2,616 942.8,617.1 946.5,615.7 950.1,616.3 953.8,612.7 957.4,612.9 961.1,616.9 964.7,617.5 968.4,616.5" stroke="#ff0000" stroke-width="1.3"/>
<polyline points="91,621.8 94.7,619.2 98.3,602.5 102,576.8 105.6,548.4 109.3,523 112.9,493.7 116.6,454.5 120.2,427.9 123.9,399.3 127.6,372.6 131.2,348.2 134.9,317.5 138.5,281.9 142.2,254.9 145.8,216 149.5,202.1 153.1,175.9 156.8,160.3 160.5,154.9 164.1,158.9 167.8,149.2 171.4,136.4 175.1,143.4 178.7,128.2 182.4,152.2 186.1,149.7 189.7,157.7 193.4,154.1 197,173.3 200.7,171.4 204.3,188.9 208,211.3 211.6,217.2 215.3,220.8 219,241.6 222.6,256.9 226.3,282 229.9,296.8 233.6,315.1 237.2,328.2 240.9,344.3 244.5,363.6 248.2,382.5 251.9,391.7 255.5,407.5 259.2,412.6 262.8,425.1 266.5,441.4 270.1,452.8 273.8,458.3 277.4,470.6 281.1,477.3 284.8,484.9 288.4,490.8 292.1,498 295.7,507.6 299.4,516.3 303,523 306.7,523.3 310.4,521.5 314,533.2 317.7,531.1 321.3,540.6 325,544.4 328.6,545.2 332.3,544 335.9,553.7 339.6,549.6 343.3,551.8 346.9,553.6 350.6,562.1 354.2,562.7 357.9,565 361.5,566.6 365.2,570.7 368.8,572.6 372.5,581.5 376.2,580.4 379.8,579 383.5,577 387.1,576.8 390.8,579.7 394.4,582.8 398.1,589.6 401.7,586.1 405.4,589.9 409.1,592 412.7,594.6 416.4,592.7 420,593.8 423.7,590 427.3,598.1 431,594.6 434.6,599.7 438.3,595.3 442,598.5 445.6,600.4 449.3,601.4 452.9,602.3 456.6,602.3 460.2,602.3 463.9,602.5 467.6,603.4 471.2,604.2 474.9,608.3 478.5,605.5 482.2,607.3 485.8,604.7 489.5,605.8 493.1,609.1 496.8,607.9 500.5,609.1 504.1,608.6 507.8,607.2 511.4,612.5 515.1,608.7 518.7,612.9 522.4,611.8 526,613.4 529.7,609.7 533.4,608.6 537,610.9 540.7,613.3 544.3,613.2 548,610.5 551.6,611.4 555.3,611.5 558.9,610.5 562.6,608.7 566.3,607 569.9,610.4 573.6,613.5 577.2,608.7 580.9,610.9 584.5,610.5 588.2,610.7 591.8,615 595.5,610.8 599.2,610.7 602.8,613.3 606.5,612.5 610.1,614.6 613.8,613.5 617.4,611.6 621.1,610.5 624.8,612.1 628.4,612.7 632.1,611.6 635.7,613.5 639.4,613.6 643,613.9 646.7,611.8 650.3,616.5 654,615 657.7,610.5 661.3,613.4 665,614.2 668.6,615 672.3,615.6 675.9,614.3 679.6,616.4 683.2,612 686.9,617 690.6,613.1 694.2,615.5 697.9,613.8 701.5,616.4 705.2,618.7 708.8,616.3 712.5,611.8 716.1,612.5 719.8,617.1 723.5,613.8 727.1,615.4 730.8,615.9 734.4,614.8 738.1,613.6 741.7,615.6 745.4,618.3 749,617.3 752.7,613.2 756.4,615.5 760,613.9 763.7,613.6 767.3,617 771,612.9 774.6,613.2 778.3,615 782,617.1 785.6,617.4 789.3,616.5 792.9,618 796.6,618.2 800.2,617.6 803.9,613.7 807.5,614.1 811.2,616.6 814.9,615.9 818.5,616.2 822.2,615.9 825.8,617.1 829.5,615.9 833.1,617.7 836.8,615.4 840.4,615.5 844.1,615.8 847.8,614.2 851.4,616.8 855.1,616.8 858.7,613.8 862.4,617.8 866,617.2 869.7,617 873.3,619.3 877,615.9 880.7,620 884.3,618.8 888,618.6 891.6,615.7 895.3,618.3 898.9,618.6 902.6,617.3 906.3,614.8 909.9,618.5 913.6,616.8 917.2,617.5 920.9,617 924.5,618.8 928.2,617.2 931.8,618.3 935.5,619 939.2,616.8 942.8,615.1 946.5,616.9 950.1,617.5 953.8,616.7 957.4,617.6 961.1,618.1 964.7,618.5 968.4,615.3" stroke="none" marker-start="url(#lt)" marker-mid="url(#lt)" marker-end="url(#lt)"/>
<polyline points="91,621.8 94.7,619.2 98.3,602.5 102,576.8 105.6,548.4 109.3,523 112.9,493.7 116.6,454.5 120.2,427.9 123.9,399.3 127.6,372.6 131.2,348.2 134.9,317.5 138.5,281.9 142.2,254.9 145.8,216 149.5,202.1 153.1,175.9 156.8,160.3 160.5,154.9 164.1,158.9 167.8,149.2 171.4,136.4 175.1,143.4 178.7,128.2 182.4,152.2 186.1,149.7 189.7,157.7 193.4,154.1 197,173.3 200.7,171.4 204.3,188.9 208,211.3 211.6,217.2 215.3,220.8 219,241.6 222.6,256.9 226.3,282 229.9,296.8 233.6,315.1 237.2,328.2 240.9,344.3 244.5,363.6 248.2,382.5 251.9,391.7 255.5,407.5 259.2,412.6 262.8,425.1 266.5,441.4 270.1,452.8 273.8,458.3 277.4,470.6 281.1,477.3 284.8,484.9 288.4,490.8 292.1,498 295.7,507.6 299.4,516.3 303,523 306.7,523.3 310.4,521.5 314,533.2 317.7,531.1 321.3,540.6 325,544.4 328.6,545.2 332.3,544 335.9,553.7 339.6,549.6 343.3,551.8 346.9,553.6 350.6,562.1 354.2,562.7 357.9,565 361.5,566.6 365.2,570.7 368.8,572.6 372.5,581.5 376.2,580.4 379.8,579 383.5,577 387.1,576.8 390.8,579.7 394.4,582.8 398.1,589.6 401.7,586.1 405.4,589.9 409.1,592 412.7,594.6 416.4,592.7 420,593.8 423.7,590 427.3,598.1 431,594.6 434.6,599.7 438.3,595.3 442,598.5 445.6,600.4 449.3,601.4 452.9,602.3 456.6,602.3 460.2,602.3 463.9,602.5 467.6,603.4 471.2,604.2 474.9,608.3 478.5,605.5 482.2,607.3 485.8,604.7 489.5,605.8 493.1,609.1 496.8,607.9 500.5,609.1 504.1,608.6 507.8,607.2 511.4,612.5 515.1,608.7 518.7,612.9 522.4,611.8 526,613.4 529.7,609.7 533.4,608.6 537,610.9 540.7,613.3 544.3,613.2 548,610.5 551.6,611.4 555.3,611.5 558.9,610.5 562.6,608.7 566.3,607 569.9,610.4 573.6,613.5 577.2,608.7 580.9,610.9 584.5,610.5 588.2,610.7 591.8,615 595.5,610.8 599.2,610.7 602.8,613.3 606.5,612.5 610.1,614.6 613.8,613.5 617.4,611.6 621.1,610.5 624.8,612.1 628.4,612.7 632.1,611.6 635.7,613.5 639.4,613.6 643,613.9 646.7,611.8 650.3,616.5 654,615 657.7,610.5 661.3,613.4 665,614.2 668.6,615 672.3,615.6 675.9,614.3 679.6,616.4 683.2,612 686.9,617 690.6,613.1 694.2,615.5 697.9,613.8 701.5,616.4 705.2,618.7 708.8,616.3 712.5,611.8 716.1,612.5 719.8,617.1 723.5,613.8 727.1,615.4 730.8,615.9 734.4,614.8 738.1,613.6 741.7,615.6 745.4,618.3 749,617.3 752.7,613.2 756.4,615.5 760,613.9 763.7,613.6 767.3,617 771,612.9 774.6,613.2 778.3,615 782,617.1 785.6,617.4 789.3,616.5 792.9,618 796.6,618.2 800.2,617.6 803.9,613.7 807.5,614.1 811.2,616.6 814.9,615.9 818.5,616.2 822.2,615.9 825.8,617.1 829.5,615.9 833.1,617.7 836.8,615.4 840.4,615.5 844.1,615.8 847.8,614.2 851.4,616.8 855.1,616.8 858.7,613.8 862.4,617.8 866,617.2 869.7,617 873.3,619.3 877,615.9 880.7,620 884.3,618.8 888,618.6 891.6,615.7 895.3,618.3 898.9,618.6 902.6,617.3 906.3,614.8 909.9,618.5 913.6,616.8 917.2,617.5 920.9,617 924.5,618.8 928.2,617.2 931.8,618.3 935.5,619 939.2,616.8 942.8,615.1 946.5,616.9 950.1,617.5 953.8,616.7 957.4,617.6 961.1,618.1 964.7,618.5 968.4,615.3" stroke="#ee82ee" stroke-width="2.9"/>
<polyline points="91,621.8 94.7,619.5 98.3,603.6 102,577.1 105.6,554.1 109.3,528.5 112.9,497.2 116.6,465.1 120.2,432.9 123.9,397.9 127.6,375.8 131.2,349.8 134.9,317 138.5,292 142.2,262.5 145.8,229.9 149.5,208.6 153.1,186.5 156.8,177.7 160.5,169.6 164.1,148.5 167.8,144.9 171.4,137.7 175.1,139.4 178.7,135.9 182.4,138 186.1,149.7 189.7,150.2 193.4,159.1 197,164.3 200.7,177 204.3,181.5 208,200.9 211.6,220 215.3,226.6 219,246.7 222.6,260.6 226.3,286.2 229.9,304.1 233.6,317.7 237.2,333.1 240.9,350.1 244.5,368.2 248.2,387 251.9,405 255.5,416.1 259.2,426.1 262.8,431.7 266.5,441.9 270.1,456.9 273.8,463.1 277.4,472.9 281.1,482.1 284.8,487.4 288.4,493.8 292.1,500.9 295.7,509.6 299.4,514.7 303,518.3 306.7,521.8 310.4,528.3 314,532.8 317.7,540.2 321.3,544.5 325,545.4 328.6,547.8 332.3,552.1 335.9,555.6 339.6,559.7 343.3,564.9 346.9,567.7 350.6,567.2 354.2,572.6 357.9,572.5 361.5,580.3 365.2,578.9 368.8,582.4 372.5,584.3 376.2,586 379.8,588.5 383.5,589.3 387.1,591 390.8,589.4 394.4,594.3 398.1,595.7 401.7,597.3 405.4,596 409.1,598.7 412.7,599.9 416.4,600.7 420,600.9 423.7,601.1 427.3,605.7 431,603.9 434.6,606.2 438.3,606.5 442,605.9 445.6,606.9 449.3,608 452.9,607.9 456.6,607.1 460.2,607.9 463.9,608.2 467.6,609.9 471.2,609.9 474.9,609.2 478.5,610.6 482.2,610.9 485.8,611.3 489.5,611.6 493.1,612.3 496.8,611 500.5,612.8 504.1,610.6 507.8,614.3 511.4,612.6 515.1,613.1 518.7,613.3 522.4,613.3 526,613.3 529.7,613.4 533.4,614.9 537,614.2 540.7,614.9 544.3,614.2 548,613.4 551.6,615.2 555.3,614.4 558.9,613.8 562.6,615.2 566.3,615.3 569.9,614.4 573.6,615.8 577.2,615.5 580.9,615.5 584.5,615.2 588.2,614.9 591.8,615.4 595.5,615.2 599.2,616.7 602.8,615 606.5,614.7 610.1,615.4 613.8,616 617.4,614.9 621.1,616.6 624.8,616.9 628.4,616.6 632.1,615.8 635.7,615.4 639.4,616.5 643,615.6 646.7,616.3 650.3,616 654,615.9 657.7,618.3 661.3,614 665,616.4 668.6,617.4 672.3,616.3 675.9,617.4 679.6,616.7 683.2,616.1 686.9,617.5 690.6,616.7 694.2,616.1 697.9,616.9 701.5,616.2 705.2,616.8 708.8,617.7 712.5,617.8 716.1,616.8 719.8,618.1 723.5,617.4 727.1,617.6 730.8,616.4 734.4,617.2 738.1,616 741.7,617.6 745.4,617.1 749,617.8 752.7,617 756.4,617.6 760,619.2 763.7,618.6 767.3,617 771,617.9 774.6,617.6 778.3,619.2 782,618.9 785.6,616.6 789.3,618.5 792.9,617.5 796.6,618.6 800.2,618.2 803.9,618.5 807.5,618.2 811.2,617.8 814.9,617.5 818.5,618.6 822.2,618.3 825.8,618 829.5,618.3 833.1,618.3 836.8,618.3 840.4,618.2 844.1,617.7 847.8,618.2 851.4,617.5 855.1,616.7 858.7,617.7 862.4,617.1 866,618.2 869.7,618 873.3,618 877,620.1 880.7,618.7 884.3,618.5 888,619 891.6,618.4 895.3,618.4 898.9,619.4 902.6,617.2 906.3,619.1 909.9,619.8 913.6,617.8 917.2,618.2 920.9,619.9 924.5,618.8 928.2,619.2 931.8,619 935.5,618.8 939.2,619 942.8,618.6 946.5,619.2 950.1,618.4 953.8,619.9 957.4,619 961.1,618.6 964.7,618.7 968.4,618.3" stroke="none" marker-start="url(#lc)" marker-mid="url(#lc)" marker-end="url(#lc)"/>
<polyline points="91,621.8 94.7,619.5 98.3,603.6 102,577.1 105.6,554.1 109.3,528.5 112.9,497.2 116.6,465.1 120.2,432.9 123.9,397.9 127.6,375.8 131.2,349.8 134.9,317 138.5,292 142.2,262.5 145.8,229.9 149.5,208.6 153.1,186.5 156.8,177.7 160.5,169.6 164.1,148.5 167.8,144.9 171.4,137.7 175.1,139.4 178.7,135.9 182.4,138 186.1,149.7 189.7,150.2 193.4,159.1 197,164.3 200.7,177 204.3,181.5 208,200.9 211.6,220 215.3,226.6 219,246.7 222.6,260.6 226.3,286.2 229.9,304.1 233.6,317.7 237.2,333.1 240.9,350.1 244.5,368.2 248.2,387 251.9,405 255.5,416.1 259.2,426.1 262.8,431.7 266.5,441.9 270.1,456.9 273.8,463.1 277.4,472.9 281.1,482.1 284.8,487.4 288.4,493.8 292.1,500.9 295.7,509.6 299.4,514.7 303,518.3 306.7,521.8 310.4,528.3 314,532.8 317.7,540.2 321.3,544.5 325,545.4 328.6,547.8 332.3,552.1 335.9,555.6 339.6,559.7 343.3,564.9 346.9,567.7 350.6,567.2 354.2,572.6 357.9,572.5 361.5,580.3 365.2,578.9 368.8,582.4 372.5,584.3 376.2,586 379.8,588.5 383.5,589.3 387.1,591 390.8,589.4 394.4,594.3 398.1,595.7 401.7,597.3 405.4,596 409.1,598.7 412.7,599.9 416.4,600.7 420,600.9 423.7,601.1 427.3,605.7 431,603.9 434.6,606.2 438.3,606.5 442,605.9 445.6,606.9 449.3,608 452.9,607.9 456.6,607.1 460.2,607.9 463.9,608.2 467.6,609.9 471.2,609.9 474.9,609.2 478.5,610.6 482.2,610.9 485.8,611.3 489.5,611.6 493.1,612.3 496.8,611 500.5,612.8 504.1,610.6 507.8,614.3 511.4,612.6 515.1,613.1 518.7,613.3 522.4,613.3 526,613.3 529.7,613.4 533.4,614.9 537,614.2 540.7,614.9 544.3,614.2 548,613.4 551.6,615.2 555.3,614.4 558.9,613.8 562.6,615.2 566.3,615.3 569.9,614.4 573.6,615.8 577.2,615.5 580.9,615.5 584.5,615.2 588.2,614.9 591.8,615.4 595.5,615.2 599.2,616.7 602.8,615 606.5,614.7 610.1,615.4 613.8,616 617.4,614.9 621.1,616.6 624.8,616.9 628.4,616.6 632.1,615.8 635.7,615.4 639.4,616.5 643,615.6 646.7,616.3 650.3,616 654,615.9 657.7,618.3 661.3,614 665,616.4 668.6,617.4 672.3,616.3 675.9,617.4 679.6,616.7 683.2,616.1 686.9,617.5 690.6,616.7 694.2,616.1 697.9,616.9 701.5,616.2 705.2,616.8 708.8,617.7 712.5,617.8 716.1,616.8 719.8,618.1 723.5,617.4 727.1,617.6 730.8,616.4 734.4,617.2 738.1,616 741.7,617.6 745.4,617.1 749,617.8 752.7,617 756.4,617.6 760,619.2 763.7,618.6 767.3,617 771,617.9 774.6,617.6 778.3,619.2 782,618.9 785.6,616.6 789.3,618.5 792.9,617.5 796.6,618.6 800.2,618.2 803.9,618.5 807.5,618.2 811.2,617.8 814.9,617.5 818.5,618.6 822.2,618.3 825.8,618 829.5,618.3 833.1,618.3 836.8,618.3 840.4,618.2 844.1,617.7 847.8,618.2 851.4,617.5 855.1,616.7 858.7,617.7 862.4,617.1 866,618.2 869.7,618 873.3,618 877,620.1 880.7,618.7 884.3,618.5 888,619 891.6,618.4 895.3,618.4 898.9,619.4 902.6,617.2 906.3,619.1 909.9,619.8 913.6,617.8 917.2,618.2 920.9,619.9 924.5,618.8 928.2,619.2 931.8,619 935.5,618.8 939.2,619 942.8,618.6 946.5,619.2 950.1,618.4 953.8,619.9 957.4,619 961.1,618.6 964.7,618.7 968.4,618.3" stroke="#ee82ee" stroke-width="2.2"/>
<polyline points="91,621.8 94.7,608.8 98.3,572.6 102,540.9 105.6,509 109.3,477.5 112.9,444 116.6,410 120.2,380.7 123.9,354 127.6,323.9 131.2,292 134.9,264.1 138.5,231.2 142.2,196.7 145.8,165.8 149.5,138.8 153.1,116.7 156.8,91 160.5,78.1 164.1,66.4 167.8,66.2 171.4,65.6 175.1,71.2 178.7,77.9 182.4,84.2 186.1,103.1 189.7,119.3 193.4,135 197,146.2 200.7,161.3 204.3,174.2 208,193.9 211.6,213.5 215.3,235.9 219,252.4 222.6,275.6 226.3,289.5 229.9,310.2 233.6,326.3 237.2,343 240.9,359.5 244.5,377.9 248.2,393.1 251.9,408.4 255.5,420.1 259.2,430.7 262.8,439 266.5,450.4 270.1,458.7 273.8,468.7 277.4,478.6 281.1,486.8 284.8,494.1 288.4,501.8 292.1,505.8 295.7,511.3 299.4,515.8 303,521.9 306.7,525.6 310.4,530 314,533.4 317.7,537.8 321.3,541.8 325,546.7 328.6,549.8 332.3,552.9 335.9,556 339.6,559.6 343.3,562.7 346.9,564.2 350.6,567 354.2,568.2 357.9,572.2 361.5,573.4 365.2,576.8 368.8,577.1 372.5,579.5 376.2,580.9 379.8,582.7 383.5,585.2 387.1,586.1 390.8,588.2 394.4,588.9 398.1,589.9 401.7,592.6 405.4,591.9 409.1,594.3 412.7,596 416.4,597 420,597.8 423.7,597.6 427.3,599.2 431,600.1 434.6,601.4 438.3,602.1 442,601.9 445.6,602.8 449.3,603.7 452.9,604.5 456.6,604.1 460.2,605 463.9,605.4 467.6,605.9 471.2,606.6 474.9,607.9 478.5,608.4 482.2,608.7 485.8,608.8 489.5,608.4 493.1,609.5 496.8,608.9 500.5,609.9 504.1,610.1 507.8,610.8 511.4,611.3 515.1,611.3 518.7,612.1 522.4,611.2 526,612.3 529.7,612.2 533.4,612.1 537,612.5 540.7,612.6 544.3,612.1 548,612.9 551.6,612.2 555.3,612.9 558.9,613.1 562.6,613.3 566.3,612.9 569.9,613.4 573.6,613.3 577.2,613.9 580.9,613.8 584.5,613.2 588.2,613.2 591.8,614.7 595.5,614.7 599.2,614.2 602.8,614.2 606.5,614.7 610.1,614.1 613.8,614.1 617.4,614.5 621.1,614 624.8,614 628.4,614.6 632.1,614.3 635.7,614.5 639.4,614.3 643,614.4 646.7,614.9 650.3,615 654,615.6 657.7,614.9 661.3,615.1 665,614.7 668.6,615.7 672.3,615.7 675.9,615.3 679.6,616.2 683.2,615.3 686.9,615.5 690.6,615.3 694.2,615.4 697.9,615.8 701.5,615.9 705.2,615.3 708.8,615.8 712.5,615.1 716.1,616.8 719.8,616.5 723.5,616.4 727.1,616.1 730.8,615.6 734.4,616.3 738.1,616.3 741.7,616 745.4,616.5 749,616.9 752.7,616.2 756.4,616.5 760,616.5 763.7,616.5 767.3,616.5 771,617.6 774.6,617.4 778.3,616.2 782,617.1 785.6,617.2 789.3,617.2 792.9,615.8 796.6,617.1 800.2,617.6 803.9,617.2 807.5,616.8 811.2,616.6 814.9,616.5 818.5,617.6 822.2,616.9 825.8,617.1 829.5,616.7 833.1,617.1 836.8,617.9 840.4,617.7 844.1,617.9 847.8,617.9 851.4,617.4 855.1,617.4 858.7,617.3 862.4,617.4 866,617.7 869.7,616.7 873.3,617.6 877,618 880.7,618.4 884.3,617.8 888,618.1 891.6,618.5 895.3,617.5 898.9,618.1 902.6,618.5 906.3,617.5 909.9,618.1 913.6,617.5 917.2,618.6 920.9,618 924.5,617.6 928.2,617.9 931.8,617.8 935.5,618 939.2,618 942.8,618.1 946.5,618 950.1,618.8 953.8,617.6 957.4,618.3 961.1,617.4 964.7,618.1 968.4,617.9" stroke="none" marker-start="url(#lp)" marker-mid="url(#lp)" marker-end="url(#lp)"/>
<polyline points="91,621.8 94.7,608.8 98.3,572.6 102,540.9 105.6,509 109.3,477.5 112.9,444 116.6,410 120.2,380.7 123.9,354 127.6,323.9 131.2,292 134.9,264.1 138.5,231.2 142.2,196.7 145.8,165.8 149.5,138.8 153.1,116.7 156.8,91 160.5,78.1 164.1,66.4 167.8,66.2 171.4,65.6 175.1,71.2 178.7,77.9 182.4,84.2 186.1,103.1 189.7,119.3 193.4,135 197,146.2 200.7,161.3 204.3,174.2 208,193.9 211.6,213.5 215.3,235.9 219,252.4 222.6,275.6 226.3,289.5 229.9,310.2 233.6,326.3 237.2,343 240.9,359.5 244.5,377.9 248.2,393.1 251.9,408.4 255.5,420.1 259.2,430.7 262.8,439 266.5,450.4 270.1,458.7 273.8,468.7 277.4,478.6 281.1,486.8 284.8,494.1 288.4,501.8 292.1,505.8 295.7,511.3 299.4,515.8 303,521.9 306.7,525.6 310.4,530 314,533.4 317.7,537.8 321.3,541.8 325,546.7 328.6,549.8 332.3,552.9 335.9,556 339.6,559.6 343.3,562.7 346.9,564.2 350.6,567 354.2,568.2 357.9,572.2 361.5,573.4 365.2,576.8 368.8,577.1 372.5,579.5 376.2,580.9 379.8,582.7 383.5,585.2 387.1,586.1 390.8,588.2 394.4,588.9 398.1,589.9 401.7,592.6 405.4,591.9 409.1,594.3 412.7,596 416.4,597 420,597.8 423.7,597.6 427.3,599.2 431,600.1 434.6,601.4 438.3,602.1 442,601.9 445.6,602.8 449.3,603.7 452.9,604.5 456.6,604.1 460.2,605 463.9,605.4 467.6,605.9 471.2,606.6 474.9,607.9 478.5,608.4 482.2,608.7 485.8,608.8 489.5,608.4 493.1,609.5 496.8,608.9 500.5,609.9 504.1,610.1 507.8,610.8 511.4,611.3 515.1,611.3 518.7,612.1 522.4,611.2 526,612.3 529.7,612.2 533.4,612.1 537,612.5 540.7,612.6 544.3,612.1 548,612.9 551.6,612.2 555.3,612.9 558.9,613.1 562.6,613.3 566.3,612.9 569.9,613.4 573.6,613.3 577.2,613.9 580.9,613.8 584.5,613.2 588.2,613.2 591.8,614.7 595.5,614.7 599.2,614.2 602.8,614.2 606.5,614.7 610.1,614.1 613.8,614.1 617.4,614.5 621.1,614 624.8,614 628.4,614.6 632.1,614.3 635.7,614.5 639.4,614.3 643,614.4 646.7,614.9 650.3,615 654,615.6 657.7,614.9 661.3,615.1 665,614.7 668.6,615.7 672.3,615.7 675.9,615.3 679.6,616.2 683.2,615.3 686.9,615.5 690.6,615.3 694.2,615.4 697.9,615.8 701.5,615.9 705.2,615.3 708.8,615.8 712.5,615.1 716.1,616.8 719.8,616.5 723.5,616.4 727.1,616.1 730.8,615.6 734.4,616.3 738.1,616.3 741.7,616 745.4,616.5 749,616.9 752.7,616.2 756.4,616.5 760,616.5 763.7,616.5 767.3,616.5 771,617.6 774.6,617.4 778.3,616.2 782,617.1 785.6,617.2 789.3,617.2 792.9,615.8 796.6,617.1 800.2,617.6 803.9,617.2 807.5,616.8 811.2,616.6 814.9,616.5 818.5,617.6 822.2,616.9 825.8,617.1 829.5,616.7 833.1,617.1 836.8,617.9 840.4,617.7 844.1,617.9 847.8,617.9 851.4,617.4 855.1,617.4 858.7,617.3 862.4,617.4 866,617.7 869.7,616.7 873.3,617.6 877,618 880.7,618.4 884.3,617.8 888,618.1 891.6,618.5 895.3,617.5 898.9,618.1 902.6,618.5 906.3,617.5 909.9,618.1 913.6,617.5 917.2,618.6 920.9,618 924.5,617.6 928.2,617.9 931.8,617.8 935.5,618 939.2,618 942.8,618.1 946.5,618 950.1,618.8 953.8,617.6 957.4,618.3 961.1,617.4 964.7,618.1 968.4,617.9" stroke="#ee82ee" stroke-width="2.9"/>
</g>
<rect x="91" y="38.5" width="877.4" height="610.6" fill="none" stroke="#000" stroke-width="3.2"/>
<text transform="translate(81.90,690.30) scale(1.0000,1.0000)" font-family='"Liberation Serif", serif' font-size="36.4" stroke="#000" stroke-width="0.45" stroke-linejoin="round">0</text>
<text transform="translate(191.07,690.30) scale(1.0000,1.0000)" font-family='"Liberation Serif", serif' font-size="36.4" stroke="#000" stroke-width="0.45" stroke-linejoin="round">1</text>
<text transform="translate(301.45,690.30) scale(1.0000,1.0000)" font-family='"Liberation Serif", serif' font-size="36.4" stroke="#000" stroke-width="0.45" stroke-linejoin="round">2</text>
<text transform="translate(410.77,690.30) scale(1.0000,1.0000)" font-family='"Liberation Serif", serif' font-size="36.4" stroke="#000" stroke-width="0.45" stroke-linejoin="round">3</text>
<text transform="translate(520.53,690.30) scale(1.0000,1.0000)" font-family='"Liberation Serif", serif' font-size="36.4" stroke="#000" stroke-width="0.45" stroke-linejoin="round">4</text>
<text transform="translate(629.93,690.30) scale(1.0000,1.0000)" font-family='"Liberation Serif", serif' font-size="36.4" stroke="#000" stroke-width="0.45" stroke-linejoin="round">5</text>
<text transform="translate(739.71,690.30) scale(1.0000,1.0000)" font-family='"Liberation Serif", serif' font-size="36.4" stroke="#000" stroke-width="0.45" stroke-linejoin="round">6</text>
<text transform="translate(848.95,690.30) scale(1.0000,1.0000)" font-family='"Liberation Serif", serif' font-size="36.4" stroke="#000" stroke-width="0.45" stroke-linejoin="round">7</text>
<text transform="translate(959.30,690.30) scale(1.0000,1.0000)" font-family='"Liberation Serif", serif' font-size="36.4" stroke="#000" stroke-width="0.45" stroke-linejoin="round">8</text>
<text transform="translate(39.59,634.30) scale(1.0000,1.0000)" font-family='"Liberation Serif", serif' font-size="36.4" stroke="#000" stroke-width="0.45" stroke-linejoin="round">0.0</text>
<text transform="translate(40.21,499.30) scale(1.0000,1.0000)" font-family='"Liberation Serif", serif' font-size="36.4" stroke="#000" stroke-width="0.45" stroke-linejoin="round">0.2</text>
<text transform="translate(38.77,364.30) scale(1.0000,1.0000)" font-family='"Liberation Serif", serif' font-size="36.4" stroke="#000" stroke-width="0.45" stroke-linejoin="round">0.4</text>
<text transform="translate(39.28,229.30) scale(1.0000,1.0000)" font-family='"Liberation Serif", serif' font-size="36.4" stroke="#000" stroke-width="0.45" stroke-linejoin="round">0.6</text>
<text transform="translate(39.59,94.30) scale(1.0000,1.0000)" font-family='"Liberation Serif", serif' font-size="36.4" stroke="#000" stroke-width="0.45" stroke-linejoin="round">0.8</text>
<text transform="translate(489.61,728.70) scale(1.0764,1.0300)" font-family='"Liberation Serif", serif' font-size="36.4" font-style="italic" stroke="#000" stroke-width="0.45" stroke-linejoin="round">d</text>
<text transform="translate(509.35,732.70) scale(0.8243,1.0300)" font-family='"Liberation Serif", serif' font-size="25.5" stroke="#000" stroke-width="0.45" stroke-linejoin="round">1</text>
<text transform="translate(522.50,728.70) scale(1.0481,1.0300)" font-family='"Liberation Serif", serif' font-size="36.4" stroke="#000" stroke-width="0.45" stroke-linejoin="round">/</text>
<text transform="translate(534.28,728.70) scale(0.8980,1.0300)" font-family='"Liberation Serif", serif' font-size="36.4" font-style="italic" stroke="#000" stroke-width="0.45" stroke-linejoin="round">R</text>
<text transform="translate(554.21,732.70) scale(1.1196,1.0300)" font-family='"Liberation Serif", serif' font-size="25.5" stroke="#000" stroke-width="0.45" stroke-linejoin="round">0</text>
<text transform="translate(23.90,378.80) rotate(-90) scale(1.0035,1.0300)" font-family='"Liberation Serif", serif' font-size="36.4" font-style="italic" stroke="#000" stroke-width="0.45" stroke-linejoin="round">PDF</text>
<text transform="translate(833.29,516.70) scale(0.9759,1.0000)" font-family='"Liberation Sans", sans-serif' font-size="34.9">(a)</text>
<path d="M696.1,79.6H766.1" stroke="#008000" stroke-width="3.7"/>
<text transform="translate(790.33,91.10) scale(1.0553,1.0000)" font-family='"Liberation Serif", serif' font-size="33.5" stroke="#000" stroke-width="0.45" stroke-linejoin="round">Φ</text>
<text transform="translate(819.31,95.40) scale(1.3151,1.1400)" font-family='"Liberation Serif", serif' font-size="33.5" stroke="#000" stroke-width="0.45" stroke-linejoin="round">=</text>
<text transform="translate(846.95,91.10) scale(0.9828,1.0000)" font-family='"Liberation Serif", serif' font-size="33.5" stroke="#000" stroke-width="0.45" stroke-linejoin="round">0.0625</text>
<path d="M696.1,126.3H766.1" stroke="#0000ff" stroke-width="3.7"/>
<text transform="translate(790.33,137.80) scale(1.0553,1.0000)" font-family='"Liberation Serif", serif' font-size="33.5" stroke="#000" stroke-width="0.45" stroke-linejoin="round">Φ</text>
<text transform="translate(819.31,142.10) scale(1.3151,1.1400)" font-family='"Liberation Serif", serif' font-size="33.5" stroke="#000" stroke-width="0.45" stroke-linejoin="round">=</text>
<text transform="translate(846.95,137.80) scale(0.9828,1.0000)" font-family='"Liberation Serif", serif' font-size="33.5" stroke="#000" stroke-width="0.45" stroke-linejoin="round">0.165</text>
<path d="M696.1,173H766.1" stroke="#ff0000" stroke-width="3.7"/>
<text transform="translate(790.33,184.50) scale(1.0553,1.0000)" font-family='"Liberation Serif", serif' font-size="33.5" stroke="#000" stroke-width="0.45" stroke-linejoin="round">Φ</text>
<text transform="translate(819.31,188.80) scale(1.3151,1.1400)" font-family='"Liberation Serif", serif' font-size="33.5" stroke="#000" stroke-width="0.45" stroke-linejoin="round">=</text>
<text transform="translate(846.95,184.50) scale(0.9828,1.0000)" font-family='"Liberation Serif", serif' font-size="33.5" stroke="#000" stroke-width="0.45" stroke-linejoin="round">0.25</text>
<path d="M696.1,219.7H766.1" stroke="#ee82ee" stroke-width="3.7"/>
<text transform="translate(790.33,231.20) scale(1.0553,1.0000)" font-family='"Liberation Serif", serif' font-size="33.5" stroke="#000" stroke-width="0.45" stroke-linejoin="round">Φ</text>
<text transform="translate(819.31,235.50) scale(1.3151,1.1400)" font-family='"Liberation Serif", serif' font-size="33.5" stroke="#000" stroke-width="0.45" stroke-linejoin="round">=</text>
<text transform="translate(846.95,231.20) scale(0.9828,1.0000)" font-family='"Liberation Serif", serif' font-size="33.5" stroke="#000" stroke-width="0.45" stroke-linejoin="round">0.5625</text>
<path d="M731.20,259.65 L737.95,273.15 L724.45,273.15 Z" fill="none" stroke="#000" stroke-width="2.5" stroke-linejoin="miter"/>
<text transform="translate(790.33,277.90) scale(1.0008,0.9800)" font-family='"Liberation Serif", serif' font-size="33.5" stroke="#000" stroke-width="0.45" stroke-linejoin="round">Pe</text>
<text transform="translate(822.83,282.20) scale(1.2381,1.1400)" font-family='"Liberation Serif", serif' font-size="33.5" stroke="#000" stroke-width="0.45" stroke-linejoin="round">=</text>
<text transform="translate(845.40,277.90) scale(0.9828,1.0000)" font-family='"Liberation Serif", serif' font-size="33.5" stroke="#000" stroke-width="0.45" stroke-linejoin="round">1</text>
<circle cx="731.2" cy="313.1" r="6.75" fill="none" stroke="#000" stroke-width="2.5"/>
<text transform="translate(790.33,324.60) scale(1.0008,0.9800)" font-family='"Liberation Serif", serif' font-size="33.5" stroke="#000" stroke-width="0.45" stroke-linejoin="round">Pe</text>
<text transform="translate(822.83,328.90) scale(1.2381,1.1400)" font-family='"Liberation Serif", serif' font-size="33.5" stroke="#000" stroke-width="0.45" stroke-linejoin="round">=</text>
<text transform="translate(845.40,324.60) scale(0.9828,1.0000)" font-family='"Liberation Serif", serif' font-size="33.5" stroke="#000" stroke-width="0.45" stroke-linejoin="round">4</text>
<path d="M731.20,353.05 L737.62,357.71 L735.17,365.26 L727.23,365.26 L724.78,357.71 Z" fill="none" stroke="#000" stroke-width="2.5" stroke-linejoin="miter"/>
<text transform="translate(790.33,371.30) scale(1.0008,0.9800)" font-family='"Liberation Serif", serif' font-size="33.5" stroke="#000" stroke-width="0.45" stroke-linejoin="round">Pe</text>
<text transform="translate(822.83,375.60) scale(1.2381,1.1400)" font-family='"Liberation Serif", serif' font-size="33.5" stroke="#000" stroke-width="0.45" stroke-linejoin="round">=</text>
<text transform="translate(845.40,371.30) scale(0.9828,1.0000)" font-family='"Liberation Serif", serif' font-size="33.5" stroke="#000" stroke-width="0.45" stroke-linejoin="round">16</text>
<path d="M1230,646.2v-22.5 M1230,33.5v22.5 M1340.1,646.2v-22.5 M1340.1,33.5v22.5 M1450.2,646.2v-22.5 M1450.2,33.5v22.5 M1560.2,646.2v-22.5 M1560.2,33.5v22.5 M1670.2,646.2v-22.5 M1670.2,33.5v22.5 M1780.3,646.2v-22.5 M1780.3,33.5v22.5 M1890.4,646.2v-22.5 M1890.4,33.5v22.5 M1120,618.6h22.5 M2000.4,618.6h-22.5 M1120,493.2h22.5 M2000.4,493.2h-22.5 M1120,367.8h22.5 M2000.4,367.8h-22.5 M1120,242.4h22.5 M2000.4,242.4h-22.5 M1120,117h22.5 M2000.4,117h-22.5" stroke="#000" stroke-width="2.7" fill="none"/>
<path d="M1142,646.2v-11.3 M1142,33.5v11.3 M1164,646.2v-11.3 M1164,33.5v11.3 M1186,646.2v-11.3 M1186,33.5v11.3 M1208,646.2v-11.3 M1208,33.5v11.3 M1252.1,646.2v-11.3 M1252.1,33.5v11.3 M1274.1,646.2v-11.3 M1274.1,33.5v11.3 M1296.1,646.2v-11.3 M1296.1,33.5v11.3 M1318.1,646.2v-11.3 M1318.1,33.5v11.3 M1362.1,646.2v-11.3 M1362.1,33.5v11.3 M1384.1,646.2v-11.3 M1384.1,33.5v11.3 M1406.1,646.2v-11.3 M1406.1,33.5v11.3 M1428.1,646.2v-11.3 M1428.1,33.5v11.3 M1472.2,646.2v-11.3 M1472.2,33.5v11.3 M1494.2,646.2v-11.3 M1494.2,33.5v11.3 M1516.2,646.2v-11.3 M1516.2,33.5v11.3 M1538.2,646.2v-11.3 M1538.2,33.5v11.3 M1582.2,646.2v-11.3 M1582.2,33.5v11.3 M1604.2,646.2v-11.3 M1604.2,33.5v11.3 M1626.2,646.2v-11.3 M1626.2,33.5v11.3 M1648.2,646.2v-11.3 M1648.2,33.5v11.3 M1692.3,646.2v-11.3 M1692.3,33.5v11.3 M1714.3,646.2v-11.3 M1714.3,33.5v11.3 M1736.3,646.2v-11.3 M1736.3,33.5v11.3 M1758.3,646.2v-11.3 M1758.3,33.5v11.3 M1802.3,646.2v-11.3 M1802.3,33.5v11.3 M1824.3,646.2v-11.3 M1824.3,33.5v11.3 M1846.3,646.2v-11.3 M1846.3,33.5v11.3 M1868.3,646.2v-11.3 M1868.3,33.5v11.3 M1912.4,646.2v-11.3 M1912.4,33.5v11.3 M1934.4,646.2v-11.3 M1934.4,33.5v11.3 M1956.4,646.2v-11.3 M1956.4,33.5v11.3 M1978.4,646.2v-11.3 M1978.4,33.5v11.3 M1120,587.2h11.3 M2000.4,587.2h-11.3 M1120,555.9h11.3 M2000.4,555.9h-11.3 M1120,524.6h11.3 M2000.4,524.6h-11.3 M1120,461.9h11.3 M2000.4,461.9h-11.3 M1120,430.5h11.3 M2000.4,430.5h-11.3 M1120,399.2h11.3 M2000.4,399.2h-11.3 M1120,336.4h11.3 M2000.4,336.4h-11.3 M1120,305.1h11.3 M2000.4,305.1h-11.3 M1120,273.8h11.3 M2000.4,273.8h-11.3 M1120,211.1h11.3 M2000.4,211.1h-11.3 M1120,179.7h11.3 M2000.4,179.7h-11.3 M1120,148.4h11.3 M2000.4,148.4h-11.3 M1120,85.7h11.3 M2000.4,85.7h-11.3 M1120,54.3h11.3 M2000.4,54.3h-11.3" stroke="#000" stroke-width="2.3" fill="none"/>
<g clip-path="url(#cr)" fill="none" stroke-linejoin="round" stroke-linecap="butt">
<polyline points="1120,618.6 1121.4,618.6 1122.8,618.6 1124.1,618.6 1125.5,618.6 1126.9,618.6 1128.3,618.6 1129.6,618.5 1131,618.6 1132.4,618.4 1133.8,618.4 1135.1,618.4 1136.5,618.3 1137.9,618.3 1139.3,618.3 1140.6,618.1 1142,618.1 1143.4,617.9 1144.8,617.7 1146.1,617.8 1147.5,617.8 1148.9,617.6 1150.3,617.9 1151.6,617.7 1153,617.5 1154.4,617.4 1155.8,617.3 1157.1,617.2 1158.5,617 1159.9,617 1161.3,616.8 1162.6,616.8 1164,616.8 1165.4,616.7 1166.8,616.6 1168.1,616.1 1169.5,615.8 1170.9,615.7 1172.3,615.3 1173.6,614.9 1175,614.8 1176.4,614.9 1177.8,613.9 1179.2,614.7 1180.5,612.4 1181.9,612.4 1183.3,612.9 1184.7,611.6 1186,610 1187.4,610.7 1188.8,609.1 1190.2,609.2 1191.5,608.1 1192.9,606.9 1194.3,606.1 1195.7,603.8 1197,604.1 1198.4,600.6 1199.8,602.5 1201.2,598.6 1202.5,597.2 1203.9,593.4 1205.3,593 1206.7,590.3 1208,588 1209.4,584.3 1210.8,582.3 1212.2,575.3 1213.5,572.9 1214.9,572.4 1216.3,566.1 1217.7,563.8 1219,559.3 1220.4,552.8 1221.8,547.1 1223.2,546.2 1224.5,537.2 1225.9,528.7 1227.3,522.4 1228.7,508.9 1230,500.9 1231.4,489.5 1232.8,478.6 1234.2,466 1235.6,457.2 1236.9,447.5 1238.3,437.5 1239.7,421.8 1241.1,412.9 1242.4,404.2 1243.8,393.4 1245.2,380.6 1246.6,374.4 1247.9,370.1 1249.3,352 1250.7,321.5 1252.1,310.6 1253.4,297.7 1254.8,283.7 1256.2,279.8 1257.6,264.9 1258.9,263.4 1260.3,255.5 1261.7,246.9 1263.1,229.3 1264.4,212.5 1265.8,199.3 1267.2,179.9 1268.6,170.5 1269.9,154 1271.3,139.9 1272.7,129.9 1274.1,124.4 1275.4,109.1 1276.8,102.2 1278.2,90.9 1279.6,80.2 1280.9,80.3 1282.3,65.9 1283.7,71.5 1285.1,61.2 1286.5,73.5 1287.8,61.2 1289.2,68.5 1290.6,84.5 1292,76.4 1293.3,83.8 1294.7,69.4 1296.1,85.9 1297.5,73.8 1298.8,88.8 1300.2,104.4 1301.6,101.5 1303,104.1 1304.3,107.1 1305.7,127.6 1307.1,122.6 1308.5,131.7 1309.8,132.6 1311.2,138.4 1312.6,145.5 1314,151.8 1315.3,166.3 1316.7,169.9 1318.1,187.2 1319.5,196 1320.8,201.3 1322.2,218.7 1323.6,238.2 1325,228.9 1326.3,256.2 1327.7,268.2 1329.1,264.4 1330.5,279.8 1331.8,288.4 1333.2,301.2 1334.6,312.2 1336,311.4 1337.3,314.1 1338.7,319.9 1340.1,325.5 1341.5,326.2 1342.9,345.3 1344.2,356 1345.6,355.7 1347,370.1 1348.4,381.2 1349.7,370 1351.1,383.2 1352.5,392.6 1353.9,395.7 1355.2,390.2 1356.6,400.1 1358,403.7 1359.4,411.5 1360.7,421.9 1362.1,423.8 1363.5,431.6 1364.9,422.4 1366.2,438.8 1367.6,443.8 1369,448 1370.4,440.7 1371.7,455.4 1373.1,449.8 1374.5,455.3 1375.9,460.3 1377.2,452.9 1378.6,468.3 1380,467.8 1381.4,477.9 1382.7,477.5 1384.1,478.1 1385.5,486.8 1386.9,486.2 1388.2,486.1 1389.6,491.4 1391,496.1 1392.4,496.7 1393.7,506.6 1395.1,501.6 1396.5,499.4 1397.9,497.6 1399.3,505.1 1400.6,506.5 1402,508.3 1403.4,512.9 1404.8,508.7 1406.1,511.3 1407.5,517.1 1408.9,520.6 1410.3,517 1411.6,513.3 1413,520.5 1414.4,519.9 1415.8,520.2 1417.1,519.2 1418.5,521.7 1419.9,528.5 1421.3,524 1422.6,528.3 1424,529.5 1425.4,527.3 1426.8,536 1428.1,529.3 1429.5,534.9 1430.9,534.7 1432.3,530.8 1433.6,532.9 1435,538.7 1436.4,539.7 1437.8,544.2 1439.1,542 1440.5,536.1 1441.9,540.9 1443.3,545.1 1444.6,544.4 1446,548.6 1447.4,545.9 1448.8,546.6 1450.2,551.9 1451.5,546 1452.9,548.1 1454.3,550.1 1455.7,554.5 1457,552.4 1458.4,557 1459.8,558.6 1461.2,550.7 1462.5,560.5 1463.9,560.7 1465.3,559.2 1466.7,559.5 1468,556.2 1469.4,560.3 1470.8,559.1 1472.2,561.9 1473.5,563 1474.9,567 1476.3,566.3 1477.7,566.5 1479,569.1 1480.4,567.1 1481.8,563.1 1483.2,566.2 1484.5,567.4 1485.9,571.1 1487.3,570.4 1488.7,569.8 1490,569.9 1491.4,570.4 1492.8,571.6 1494.2,572.7 1495.5,571.4 1496.9,572.8 1498.3,572.8 1499.7,580.6 1501,577 1502.4,576.6 1503.8,579 1505.2,578.8 1506.6,582.2 1507.9,576.1 1509.3,578.5 1510.7,580.1 1512.1,575.3 1513.4,579.7 1514.8,577.2 1516.2,580.6 1517.6,580.2 1518.9,584.2 1520.3,581.9 1521.7,582.2 1523.1,582.2 1524.4,577.6 1525.8,581.1 1527.2,580.5 1528.6,586 1529.9,584.1 1531.3,585.9 1532.7,587.7 1534.1,583.9 1535.4,584.2 1536.8,585.1 1538.2,586.3 1539.6,584.7 1540.9,586.9 1542.3,584.7 1543.7,589.3 1545.1,589.7 1546.4,589.7 1547.8,590 1549.2,591.4 1550.6,588.3 1551.9,587.6 1553.3,589 1554.7,591.3 1556.1,590.8 1557.4,589.3 1558.8,590.3 1560.2,593 1561.6,592.9 1563,598 1564.3,592 1565.7,591.4 1567.1,593.5 1568.5,595.4 1569.8,594.4 1571.2,596.7 1572.6,597.1 1574,590.8 1575.3,595.2 1576.7,594.2 1578.1,597.9 1579.5,593.8 1580.8,595.3 1582.2,594.2 1583.6,597.2 1585,596.6 1586.3,594.5 1587.7,594.9 1589.1,597.7 1590.5,595.2 1591.8,593.8 1593.2,596.6 1594.6,595.3 1596,596.9 1597.3,595.7 1598.7,597.6 1600.1,598.9 1601.5,600.3 1602.8,599.7 1604.2,594.8 1605.6,599 1607,601 1608.3,597.8 1609.7,596.9 1611.1,601.6 1612.5,599.7 1613.8,601.1 1615.2,600.4 1616.6,601.4 1618,602.3 1619.4,600.1 1620.7,600 1622.1,601.2 1623.5,601.9 1624.9,599.2 1626.2,600.8 1627.6,601.7 1629,603.6 1630.4,602.9 1631.7,601.5 1633.1,604.5 1634.5,603.5 1635.9,600.4 1637.2,603 1638.6,601.2 1640,604.1 1641.4,600.6 1642.7,601 1644.1,603 1645.5,602.8 1646.9,604.6 1648.2,605.6 1649.6,604 1651,603 1652.4,603.3 1653.7,602.2 1655.1,603.4 1656.5,604.4 1657.9,604.5 1659.2,604.7 1660.6,607.1 1662,605.6 1663.4,604.6 1664.7,605.6 1666.1,603.4 1667.5,603.7 1668.9,603.3 1670.2,601.5 1671.6,607.5 1673,605.7 1674.4,605.3 1675.8,608.1 1677.1,606.7 1678.5,606.6 1679.9,607.6 1681.3,606.3 1682.6,607.1 1684,603.3 1685.4,605.5 1686.8,605.6 1688.1,606.4 1689.5,607.2 1690.9,607.1 1692.3,607.5 1693.6,608.4 1695,605.5 1696.4,606.9 1697.8,606.7 1699.1,607.7 1700.5,609.2 1701.9,607.7 1703.3,607 1704.6,608.2 1706,608 1707.4,610 1708.8,608.3 1710.1,608.1 1711.5,609.2 1712.9,607.8 1714.3,611 1715.6,608.4 1717,607.3 1718.4,609.2 1719.8,609.2 1721.1,607.2 1722.5,608.8 1723.9,609.4 1725.3,607.8 1726.7,609.8 1728,608.4 1729.4,609.8 1730.8,611.5 1732.2,609.5 1733.5,608.5 1734.9,609.4 1736.3,609.6 1737.7,609 1739,612 1740.4,610.8 1741.8,610.7 1743.2,609.8 1744.5,608.2 1745.9,610.4 1747.3,610.5 1748.7,609.8 1750,608.7 1751.4,612.1 1752.8,610.2 1754.2,611.9 1755.5,611.7 1756.9,611 1758.3,610.4 1759.7,610.5 1761,611.7 1762.4,612.4 1763.8,612.3 1765.2,614.1 1766.5,611.5 1767.9,611 1769.3,610.6 1770.7,611.8 1772,612.4 1773.4,611 1774.8,612.9 1776.2,609.8 1777.5,611.2 1778.9,611.9 1780.3,611.8 1781.7,612.1 1783.1,611.5 1784.4,613.6 1785.8,613.4 1787.2,612.2 1788.6,611.5 1789.9,611.7 1791.3,612.2 1792.7,610.7 1794.1,611.4 1795.4,614.3 1796.8,613.3 1798.2,612 1799.6,612.2 1800.9,612.3 1802.3,611.5 1803.7,615.1 1805.1,611 1806.4,612.2 1807.8,613 1809.2,613 1810.6,613.5 1811.9,612.7 1813.3,612 1814.7,613.2 1816.1,615.5 1817.4,615 1818.8,611.6 1820.2,612.2 1821.6,613.3 1822.9,612.4 1824.3,613.3 1825.7,613.1 1827.1,613.6 1828.4,614.2 1829.8,612.6 1831.2,613.4 1832.6,611.9 1833.9,612 1835.3,611.7 1836.7,615 1838.1,615.3 1839.5,612.6 1840.8,613.3 1842.2,613.9 1843.6,612.5 1845,613.5 1846.3,614.5 1847.7,614.5 1849.1,613.1 1850.5,613.3 1851.8,610.7 1853.2,613.6 1854.6,612.6 1856,616.8 1857.3,613.6 1858.7,612.2 1860.1,614.4 1861.5,615 1862.8,614.5 1864.2,613.3 1865.6,613.2 1867,613.9 1868.3,615.2 1869.7,613.5 1871.1,614.5 1872.5,615.6 1873.8,614.2 1875.2,613.4 1876.6,615.8 1878,614.8 1879.3,614.5 1880.7,615 1882.1,614.4 1883.5,613.6 1884.8,613.6 1886.2,614.4 1887.6,614.3 1889,615.6 1890.4,615.5 1891.7,614.9 1893.1,614 1894.5,614.2 1895.9,615.1 1897.2,613.5 1898.6,615.2 1900,615 1901.4,614.5 1902.7,612.6 1904.1,613.2 1905.5,613.8 1906.9,614.1 1908.2,615.6 1909.6,613.5 1911,615.3 1912.4,615.2 1913.7,614.9 1915.1,615.3 1916.5,615 1917.9,612.2 1919.2,616 1920.6,614.7 1922,616.5 1923.4,613.4 1924.7,616.8 1926.1,612.9 1927.5,614.2 1928.9,613.8 1930.2,615.8 1931.6,614.8 1933,613.9 1934.4,614 1935.7,614.3 1937.1,614 1938.5,614.7 1939.9,615.1 1941.2,613.9 1942.6,614.6 1944,615.2 1945.4,615.3 1946.8,614.9 1948.1,614.3 1949.5,613.2 1950.9,614.6 1952.3,614.3 1953.6,615.2 1955,612.3 1956.4,613.6 1957.8,614 1959.1,614.3 1960.5,615.7 1961.9,614.2 1963.3,614.8 1964.6,615.5 1966,615.2 1967.4,615.8 1968.8,613.5 1970.1,614.7 1971.5,616.8 1972.9,614.6 1974.3,616.4 1975.6,614.9 1977,616.9 1978.4,613.7 1979.8,616.4 1981.1,614.4 1982.5,614.3 1983.9,613.5 1985.3,614.1 1986.6,613.7 1988,613.6 1989.4,613.5 1990.8,616.1 1992.1,615.3 1993.5,614 1994.9,615.8 1996.3,615.2 1997.6,615.2 1999,614 2000.4,615.4" stroke="#ff0000" stroke-width="3.4" marker-start="url(#rt)" marker-mid="url(#rt)" marker-end="url(#rt)"/>
<polyline points="1120,618.6 1121.4,618.6 1122.8,618.5 1124.1,618.5 1125.5,618.3 1126.9,618.3 1128.3,618.2 1129.6,618.1 1131,617.9 1132.4,618 1133.8,617.3 1135.1,617.3 1136.5,617.1 1137.9,617 1139.3,616.7 1140.6,616.1 1142,616.5 1143.4,615 1144.8,614.8 1146.1,614.7 1147.5,614 1148.9,613.5 1150.3,614.5 1151.6,612 1153,612.2 1154.4,611.6 1155.8,610.5 1157.1,610.7 1158.5,608.7 1159.9,607.1 1161.3,609 1162.6,606 1164,604.7 1165.4,601.7 1166.8,603.8 1168.1,600.6 1169.5,600.3 1170.9,595.2 1172.3,594 1173.6,593.5 1175,590.5 1176.4,590.1 1177.8,584.7 1179.2,584.7 1180.5,579.1 1181.9,576.9 1183.3,573 1184.7,571.4 1186,567.6 1187.4,562 1188.8,558.6 1190.2,557.3 1191.5,553.3 1192.9,547.5 1194.3,543.7 1195.7,537.8 1197,536.3 1198.4,528.8 1199.8,528 1201.2,519 1202.5,516.5 1203.9,513.3 1205.3,507.9 1206.7,505.3 1208,501.7 1209.4,496 1210.8,488.8 1212.2,483.1 1213.5,478 1214.9,469.7 1216.3,460.5 1217.7,450.6 1219,443.5 1220.4,437 1221.8,428.4 1223.2,414 1224.5,412.1 1225.9,402.9 1227.3,390.5 1228.7,383.6 1230,377.4 1231.4,371.5 1232.8,362.4 1234.2,359.9 1235.6,354.2 1236.9,343.1 1238.3,335.9 1239.7,330.1 1241.1,327.9 1242.4,317.3 1243.8,306.6 1245.2,301.7 1246.6,291.6 1247.9,278.8 1249.3,278.4 1250.7,272.1 1252.1,261.9 1253.4,257.7 1254.8,249.8 1256.2,245.8 1257.6,237.7 1258.9,232.3 1260.3,225.5 1261.7,219.7 1263.1,221.2 1264.4,218.8 1265.8,214.4 1267.2,212.2 1268.6,221 1269.9,210.4 1271.3,208.3 1272.7,202.4 1274.1,199.9 1275.4,196.9 1276.8,195.8 1278.2,185.7 1279.6,181.7 1280.9,184.1 1282.3,180.8 1283.7,182.2 1285.1,183.6 1286.5,179.1 1287.8,183.3 1289.2,186.7 1290.6,184.9 1292,185.5 1293.3,192.7 1294.7,195.6 1296.1,200 1297.5,203.2 1298.8,209.3 1300.2,208.1 1301.6,209.4 1303,219 1304.3,221.8 1305.7,229.1 1307.1,227.7 1308.5,239.4 1309.8,250.4 1311.2,254.4 1312.6,260.9 1314,274.3 1315.3,264.6 1316.7,268.7 1318.1,280.8 1319.5,283.5 1320.8,288.7 1322.2,297 1323.6,303 1325,309.8 1326.3,318.6 1327.7,325.5 1329.1,327.4 1330.5,333.5 1331.8,344.1 1333.2,342 1334.6,353.8 1336,350.5 1337.3,356.4 1338.7,363.1 1340.1,364.1 1341.5,373.3 1342.9,378.3 1344.2,378.8 1345.6,382 1347,387.8 1348.4,394.5 1349.7,398 1351.1,401.5 1352.5,405 1353.9,412.4 1355.2,412.9 1356.6,416.3 1358,424.3 1359.4,426.9 1360.7,424.9 1362.1,430.7 1363.5,430.8 1364.9,434.9 1366.2,436.4 1367.6,440.8 1369,440 1370.4,446.4 1371.7,452 1373.1,453.1 1374.5,452.6 1375.9,456.7 1377.2,460.9 1378.6,458.9 1380,464.3 1381.4,466.1 1382.7,472.3 1384.1,475.5 1385.5,477.3 1386.9,483.8 1388.2,489.1 1389.6,491.6 1391,493.8 1392.4,494.2 1393.7,498.7 1395.1,499.5 1396.5,504.8 1397.9,505.6 1399.3,505.3 1400.6,507.6 1402,509.6 1403.4,510.4 1404.8,514 1406.1,513.2 1407.5,513.9 1408.9,521 1410.3,514.6 1411.6,514.5 1413,520.2 1414.4,522.2 1415.8,522 1417.1,521.3 1418.5,523.7 1419.9,528.1 1421.3,526.2 1422.6,528.9 1424,526.9 1425.4,531 1426.8,530.5 1428.1,533.2 1429.5,533.8 1430.9,532.3 1432.3,533.3 1433.6,533.1 1435,538.3 1436.4,539.4 1437.8,539.7 1439.1,538.8 1440.5,541 1441.9,540.5 1443.3,546.9 1444.6,542.4 1446,544.3 1447.4,547 1448.8,546.9 1450.2,547.5 1451.5,549.8 1452.9,550.6 1454.3,554.4 1455.7,553.9 1457,550.4 1458.4,552.8 1459.8,556.8 1461.2,557.2 1462.5,555.7 1463.9,559.5 1465.3,558.8 1466.7,558.8 1468,562 1469.4,563.3 1470.8,564.3 1472.2,564.8 1473.5,564.6 1474.9,564.1 1476.3,566.8 1477.7,564.2 1479,565.6 1480.4,568.2 1481.8,566.2 1483.2,568.2 1484.5,568.1 1485.9,571.3 1487.3,572.2 1488.7,569.4 1490,572.4 1491.4,570 1492.8,572.6 1494.2,572.2 1495.5,573.1 1496.9,573.9 1498.3,574.8 1499.7,575 1501,576.9 1502.4,575.7 1503.8,576.2 1505.2,575.9 1506.6,575.7 1507.9,573.1 1509.3,579.2 1510.7,578.1 1512.1,579.4 1513.4,579.7 1514.8,579.9 1516.2,581.8 1517.6,580 1518.9,578.3 1520.3,582.2 1521.7,583.2 1523.1,581.5 1524.4,583.1 1525.8,582.4 1527.2,582.3 1528.6,584 1529.9,583.5 1531.3,586.2 1532.7,585.5 1534.1,584.9 1535.4,585.9 1536.8,586.4 1538.2,586.4 1539.6,586 1540.9,587.4 1542.3,587 1543.7,589.8 1545.1,588.3 1546.4,587.5 1547.8,589.2 1549.2,589.7 1550.6,590.9 1551.9,589.7 1553.3,591 1554.7,590.1 1556.1,591.5 1557.4,591.6 1558.8,592.4 1560.2,592.1 1561.6,591.1 1563,591.5 1564.3,590.2 1565.7,593.3 1567.1,593.2 1568.5,594.1 1569.8,593.5 1571.2,594.5 1572.6,593.2 1574,595.1 1575.3,593.7 1576.7,593.2 1578.1,594.1 1579.5,595.8 1580.8,596.1 1582.2,596.1 1583.6,595.9 1585,595.8 1586.3,596.1 1587.7,595.4 1589.1,597.9 1590.5,597.4 1591.8,597.8 1593.2,598.7 1594.6,598.3 1596,598.7 1597.3,597.9 1598.7,597.5 1600.1,597.8 1601.5,599.3 1602.8,597.7 1604.2,597.7 1605.6,600.2 1607,597.5 1608.3,598.8 1609.7,599.6 1611.1,599.3 1612.5,598.4 1613.8,599.2 1615.2,600.3 1616.6,600.3 1618,600.8 1619.4,599.8 1620.7,600.7 1622.1,600.1 1623.5,601.1 1624.9,601.9 1626.2,601.6 1627.6,602.1 1629,602.7 1630.4,601.5 1631.7,602.1 1633.1,600.1 1634.5,602 1635.9,601.8 1637.2,603.4 1638.6,601.8 1640,601 1641.4,602.3 1642.7,604.1 1644.1,602.2 1645.5,603.2 1646.9,604.6 1648.2,603.5 1649.6,602.8 1651,602.8 1652.4,604.4 1653.7,603.4 1655.1,604.4 1656.5,604.5 1657.9,605 1659.2,604.2 1660.6,605.5 1662,605.5 1663.4,604 1664.7,605 1666.1,604.7 1667.5,605.6 1668.9,607.5 1670.2,606.8 1671.6,605.9 1673,605.1 1674.4,605.5 1675.8,605.9 1677.1,605 1678.5,606.7 1679.9,607.1 1681.3,607.3 1682.6,607.7 1684,606.8 1685.4,606.1 1686.8,606 1688.1,607.8 1689.5,606.7 1690.9,606.5 1692.3,607.3 1693.6,607.9 1695,607.2 1696.4,608.2 1697.8,607.3 1699.1,608.3 1700.5,608 1701.9,608.7 1703.3,607.4 1704.6,606.6 1706,608.3 1707.4,609.8 1708.8,608.8 1710.1,606.9 1711.5,608.9 1712.9,607.7 1714.3,608.7 1715.6,608.9 1717,609.3 1718.4,607.8 1719.8,607.4 1721.1,609.3 1722.5,609.3 1723.9,609.6 1725.3,608.3 1726.7,608.4 1728,610.5 1729.4,609.3 1730.8,611 1732.2,609.2 1733.5,609.5 1734.9,608.1 1736.3,609.1 1737.7,611.2 1739,610.4 1740.4,609.5 1741.8,610.1 1743.2,609.7 1744.5,611 1745.9,612.5 1747.3,611.1 1748.7,609.9 1750,611.1 1751.4,611 1752.8,609.9 1754.2,610.5 1755.5,610.8 1756.9,611.4 1758.3,609.5 1759.7,610.3 1761,610.9 1762.4,610.9 1763.8,612.6 1765.2,610.9 1766.5,611.4 1767.9,611.5 1769.3,611.2 1770.7,611.7 1772,611.8 1773.4,612.9 1774.8,611.6 1776.2,613.1 1777.5,612.9 1778.9,612.8 1780.3,612.2 1781.7,611.9 1783.1,612.3 1784.4,612.8 1785.8,611.3 1787.2,610.4 1788.6,611.2 1789.9,612.3 1791.3,610.9 1792.7,612.5 1794.1,611.7 1795.4,613.6 1796.8,613.8 1798.2,612.3 1799.6,611.7 1800.9,612 1802.3,612.4 1803.7,613.1 1805.1,612.6 1806.4,613.9 1807.8,613 1809.2,611.7 1810.6,613.6 1811.9,612.5 1813.3,612.8 1814.7,613.6 1816.1,613.4 1817.4,614.5 1818.8,612.8 1820.2,612.3 1821.6,612.3 1822.9,612.6 1824.3,612.7 1825.7,613.1 1827.1,612.9 1828.4,614.2 1829.8,613.2 1831.2,613.4 1832.6,613.1 1833.9,612.1 1835.3,613.8 1836.7,613.4 1838.1,613.3 1839.5,614.1 1840.8,614.8 1842.2,614.1 1843.6,614.3 1845,613.9 1846.3,613.4 1847.7,614.2 1849.1,613.8 1850.5,613 1851.8,613.3 1853.2,614 1854.6,613.9 1856,612.6 1857.3,613.1 1858.7,613.5 1860.1,614.6 1861.5,613.2 1862.8,614.3 1864.2,613.9 1865.6,615.3 1867,613.3 1868.3,613.3 1869.7,614.3 1871.1,614.1 1872.5,615 1873.8,613.7 1875.2,614.8 1876.6,615.3 1878,615.4 1879.3,614.7 1880.7,615 1882.1,615.7 1883.5,613 1884.8,615.3 1886.2,613.9 1887.6,613.7 1889,613.4 1890.4,615.2 1891.7,614 1893.1,615.3 1894.5,613.9 1895.9,614.6 1897.2,615.5 1898.6,614.5 1900,614.7 1901.4,613.2 1902.7,614.3 1904.1,615 1905.5,613.5 1906.9,614.5 1908.2,616.3 1909.6,613.2 1911,615.1 1912.4,615.4 1913.7,613.3 1915.1,614.8 1916.5,614.5 1917.9,615.4 1919.2,615.1 1920.6,614 1922,615.6 1923.4,614.6 1924.7,615.9 1926.1,614.2 1927.5,616.6 1928.9,615.2 1930.2,614.4 1931.6,614.4 1933,615.4 1934.4,614.7 1935.7,613.3 1937.1,614.6 1938.5,615.3 1939.9,614.2 1941.2,614.6 1942.6,614.1 1944,612.7 1945.4,613.7 1946.8,615 1948.1,614.3 1949.5,615.6 1950.9,615.7 1952.3,615.1 1953.6,613.6 1955,613.8 1956.4,615.8 1957.8,615.2 1959.1,616 1960.5,614.1 1961.9,615.4 1963.3,615.3 1964.6,615.1 1966,616.2 1967.4,614 1968.8,614.3 1970.1,615.2 1971.5,613.7 1972.9,613.9 1974.3,614.9 1975.6,615.8 1977,614.5 1978.4,616.1 1979.8,614.8 1981.1,615 1982.5,615.6 1983.9,616.4 1985.3,616.2 1986.6,615.4 1988,614.9 1989.4,615.3 1990.8,613.3 1992.1,613.8 1993.5,614.3 1994.9,615.3 1996.3,614.3 1997.6,615.6 1999,615.2 2000.4,614.6" stroke="#1f77b4" stroke-width="3.4" marker-start="url(#rs)" marker-mid="url(#rs)" marker-end="url(#rs)"/>
<polyline points="1120,618.6 1121.4,617.8 1122.8,616.7 1124.1,617 1125.5,613.6 1126.9,613.2 1128.3,612.5 1129.6,611.7 1131,611 1132.4,610.2 1133.8,607.1 1135.1,606.5 1136.5,604.9 1137.9,603.4 1139.3,603.8 1140.6,603.2 1142,599.6 1143.4,597.4 1144.8,595.6 1146.1,593.2 1147.5,593 1148.9,593.2 1150.3,587.8 1151.6,585.9 1153,584.5 1154.4,582.3 1155.8,581.6 1157.1,578.4 1158.5,575.5 1159.9,573.6 1161.3,572.6 1162.6,566.9 1164,566.4 1165.4,564.5 1166.8,558.1 1168.1,556.6 1169.5,551.8 1170.9,549.3 1172.3,545.3 1173.6,540.1 1175,536.6 1176.4,530.1 1177.8,527.5 1179.2,522.8 1180.5,521.6 1181.9,514.4 1183.3,508.7 1184.7,502.7 1186,501.1 1187.4,500.6 1188.8,494.3 1190.2,488.8 1191.5,487.7 1192.9,480.9 1194.3,475.1 1195.7,469.1 1197,463.9 1198.4,456.6 1199.8,453.8 1201.2,443.4 1202.5,436.5 1203.9,434.9 1205.3,429.8 1206.7,423.3 1208,413.3 1209.4,406.2 1210.8,402 1212.2,394.2 1213.5,392.4 1214.9,385.8 1216.3,380.3 1217.7,372 1219,367.6 1220.4,364.2 1221.8,357.2 1223.2,345.2 1224.5,344.4 1225.9,344.8 1227.3,338 1228.7,333.3 1230,332.8 1231.4,328.2 1232.8,328 1234.2,319.3 1235.6,314.3 1236.9,302.8 1238.3,301.4 1239.7,288.8 1241.1,290.1 1242.4,278.5 1243.8,277.6 1245.2,277.9 1246.6,273.7 1247.9,279.6 1249.3,269.2 1250.7,269.1 1252.1,259.4 1253.4,262.5 1254.8,253.5 1256.2,253.1 1257.6,261.6 1258.9,260.2 1260.3,260 1261.7,254.1 1263.1,252.7 1264.4,256.3 1265.8,256.7 1267.2,258.3 1268.6,250.5 1269.9,251.5 1271.3,244.8 1272.7,255.2 1274.1,254 1275.4,255.7 1276.8,255.8 1278.2,258.1 1279.6,257.4 1280.9,260.3 1282.3,264.3 1283.7,268 1285.1,269.5 1286.5,273.9 1287.8,273.8 1289.2,276 1290.6,272.9 1292,272.2 1293.3,278.4 1294.7,277.9 1296.1,279.4 1297.5,287.7 1298.8,288.2 1300.2,286.7 1301.6,290.9 1303,302.8 1304.3,304.9 1305.7,306.5 1307.1,311.6 1308.5,319.3 1309.8,319.2 1311.2,326.8 1312.6,326.2 1314,331.2 1315.3,342.1 1316.7,342.3 1318.1,349.5 1319.5,355.4 1320.8,356.7 1322.2,356.6 1323.6,362.9 1325,363.3 1326.3,367.1 1327.7,371 1329.1,370.6 1330.5,379.7 1331.8,381.2 1333.2,382.5 1334.6,387.6 1336,390.1 1337.3,395.7 1338.7,396.3 1340.1,396.9 1341.5,405.9 1342.9,407.1 1344.2,409.4 1345.6,412.5 1347,417.9 1348.4,419.9 1349.7,422.1 1351.1,426.6 1352.5,427.7 1353.9,434.4 1355.2,435.2 1356.6,439.9 1358,441.9 1359.4,444.2 1360.7,444.3 1362.1,447.3 1363.5,447.6 1364.9,451.7 1366.2,454.8 1367.6,461.4 1369,460.3 1370.4,464.7 1371.7,458.7 1373.1,464.6 1374.5,465.8 1375.9,474.2 1377.2,475 1378.6,474.9 1380,476.9 1381.4,483.5 1382.7,480.8 1384.1,484.6 1385.5,486.3 1386.9,485 1388.2,487.8 1389.6,490.6 1391,491.9 1392.4,495.2 1393.7,496 1395.1,499.1 1396.5,498.8 1397.9,505.3 1399.3,502.9 1400.6,505.2 1402,508.3 1403.4,507.1 1404.8,510.3 1406.1,511.6 1407.5,513.2 1408.9,512.6 1410.3,518.2 1411.6,519 1413,519.1 1414.4,521.1 1415.8,520.8 1417.1,521.6 1418.5,522.4 1419.9,524.9 1421.3,527.9 1422.6,527 1424,526.9 1425.4,529.9 1426.8,529.8 1428.1,530.3 1429.5,532.6 1430.9,532 1432.3,533.6 1433.6,537 1435,535.4 1436.4,538.7 1437.8,538.6 1439.1,539.6 1440.5,540.9 1441.9,543.2 1443.3,541.7 1444.6,545 1446,546.5 1447.4,547.2 1448.8,547.4 1450.2,550.2 1451.5,547.3 1452.9,550.4 1454.3,549.8 1455.7,554.2 1457,554.9 1458.4,556.3 1459.8,555.7 1461.2,554.5 1462.5,561.3 1463.9,557.7 1465.3,558 1466.7,562.8 1468,560.2 1469.4,561.5 1470.8,562.3 1472.2,564 1473.5,562.5 1474.9,565.4 1476.3,566.5 1477.7,564.5 1479,565.9 1480.4,567.2 1481.8,568.1 1483.2,568.6 1484.5,569 1485.9,570.3 1487.3,571 1488.7,572.6 1490,569.8 1491.4,570.9 1492.8,571.7 1494.2,572.4 1495.5,574.5 1496.9,574.1 1498.3,574.1 1499.7,574.7 1501,574.8 1502.4,577.7 1503.8,575.4 1505.2,580.7 1506.6,577.8 1507.9,575.4 1509.3,578 1510.7,577.8 1512.1,578.9 1513.4,577.9 1514.8,580.4 1516.2,580.8 1517.6,581 1518.9,580.1 1520.3,580.9 1521.7,583.2 1523.1,580.9 1524.4,583.7 1525.8,583 1527.2,584.2 1528.6,584.6 1529.9,585.7 1531.3,584.1 1532.7,586.5 1534.1,585.1 1535.4,585.5 1536.8,585.9 1538.2,586.1 1539.6,586.5 1540.9,586.4 1542.3,587.8 1543.7,588.9 1545.1,591.4 1546.4,588.2 1547.8,588.6 1549.2,589.5 1550.6,588.7 1551.9,589.6 1553.3,589.5 1554.7,588.3 1556.1,591.9 1557.4,591.5 1558.8,589.2 1560.2,591.5 1561.6,593.7 1563,592.7 1564.3,592.3 1565.7,593.4 1567.1,592.1 1568.5,593.3 1569.8,594.6 1571.2,592.2 1572.6,593.8 1574,594.2 1575.3,594.6 1576.7,595.7 1578.1,595 1579.5,594.8 1580.8,593 1582.2,594.5 1583.6,594.2 1585,596 1586.3,595.6 1587.7,595.2 1589.1,597.2 1590.5,597.6 1591.8,596.7 1593.2,597.1 1594.6,598.4 1596,597.7 1597.3,596.6 1598.7,599.1 1600.1,597.5 1601.5,599.5 1602.8,598 1604.2,599.8 1605.6,598.7 1607,599.6 1608.3,599.4 1609.7,599.4 1611.1,599 1612.5,599.7 1613.8,597.5 1615.2,601.2 1616.6,600.7 1618,599.8 1619.4,600.6 1620.7,599.8 1622.1,600.9 1623.5,601.1 1624.9,600.4 1626.2,600.5 1627.6,601.3 1629,602.2 1630.4,601.6 1631.7,601.3 1633.1,602.6 1634.5,602 1635.9,600.7 1637.2,602.4 1638.6,603.8 1640,603 1641.4,602.6 1642.7,601.7 1644.1,601.5 1645.5,602.3 1646.9,602.8 1648.2,601.6 1649.6,602.2 1651,603.2 1652.4,603.8 1653.7,603.1 1655.1,604.8 1656.5,604.7 1657.9,603.6 1659.2,604.7 1660.6,604.7 1662,604.5 1663.4,605.4 1664.7,606.2 1666.1,604 1667.5,604.6 1668.9,604.7 1670.2,606 1671.6,604.3 1673,605.7 1674.4,606.6 1675.8,604.9 1677.1,606.2 1678.5,606.4 1679.9,605.1 1681.3,607.4 1682.6,605.3 1684,604.8 1685.4,606.1 1686.8,605.2 1688.1,606.3 1689.5,607.4 1690.9,605.9 1692.3,605.4 1693.6,607.4 1695,607.4 1696.4,606.3 1697.8,606.3 1699.1,608.5 1700.5,607.8 1701.9,607.2 1703.3,608.9 1704.6,609.1 1706,606.7 1707.4,608.7 1708.8,608.3 1710.1,607.5 1711.5,608.5 1712.9,609.7 1714.3,608.3 1715.6,608.5 1717,609.8 1718.4,609.3 1719.8,610.4 1721.1,608.1 1722.5,608.2 1723.9,610.5 1725.3,610 1726.7,609.6 1728,610.6 1729.4,607.9 1730.8,608.9 1732.2,608.3 1733.5,610.9 1734.9,611.7 1736.3,608.3 1737.7,611.1 1739,611.1 1740.4,610 1741.8,608.4 1743.2,610.7 1744.5,608.9 1745.9,609.3 1747.3,608.5 1748.7,610.6 1750,610 1751.4,610.9 1752.8,611.2 1754.2,610.8 1755.5,610 1756.9,610.9 1758.3,610 1759.7,611.1 1761,610.2 1762.4,612.6 1763.8,611 1765.2,610.4 1766.5,611.7 1767.9,611.7 1769.3,610.4 1770.7,612 1772,611.6 1773.4,612.3 1774.8,611.1 1776.2,612.6 1777.5,611.2 1778.9,612.4 1780.3,613.1 1781.7,611 1783.1,612.7 1784.4,611.3 1785.8,611.3 1787.2,611.6 1788.6,612.2 1789.9,612.4 1791.3,612.2 1792.7,612.6 1794.1,612.1 1795.4,612.3 1796.8,611.6 1798.2,611.7 1799.6,611.4 1800.9,612.9 1802.3,613.2 1803.7,612.2 1805.1,611.7 1806.4,612.8 1807.8,612.3 1809.2,612.8 1810.6,614 1811.9,613 1813.3,612.3 1814.7,612.9 1816.1,612.9 1817.4,612.2 1818.8,610.9 1820.2,613 1821.6,613.2 1822.9,613 1824.3,612.3 1825.7,611.7 1827.1,612 1828.4,612.5 1829.8,614.3 1831.2,613.4 1832.6,614.5 1833.9,612.5 1835.3,611.9 1836.7,613.6 1838.1,612.3 1839.5,612.2 1840.8,614.5 1842.2,612.9 1843.6,613.9 1845,612.9 1846.3,613.9 1847.7,612.1 1849.1,613.4 1850.5,612.4 1851.8,613.1 1853.2,612.2 1854.6,614.3 1856,614.1 1857.3,615.3 1858.7,613.6 1860.1,612.3 1861.5,613.6 1862.8,613.4 1864.2,614.8 1865.6,614.4 1867,614.5 1868.3,613.7 1869.7,613.9 1871.1,613.9 1872.5,613.6 1873.8,614.7 1875.2,614.7 1876.6,615 1878,613.6 1879.3,614.1 1880.7,614.8 1882.1,615.2 1883.5,614.8 1884.8,613.9 1886.2,613.6 1887.6,613.8 1889,615.3 1890.4,613.4 1891.7,615 1893.1,614.6 1894.5,614.4 1895.9,613.6 1897.2,615.1 1898.6,615.5 1900,614.1 1901.4,614.7 1902.7,613.7 1904.1,615.1 1905.5,614.4 1906.9,613.5 1908.2,614.2 1909.6,613.2 1911,614.4 1912.4,615 1913.7,615.8 1915.1,614.7 1916.5,615.2 1917.9,614.4 1919.2,613.9 1920.6,613.2 1922,614.4 1923.4,614.2 1924.7,615.4 1926.1,614.6 1927.5,614.7 1928.9,615.3 1930.2,615.9 1931.6,614.8 1933,612.9 1934.4,614.5 1935.7,613.7 1937.1,612.8 1938.5,613.1 1939.9,616.5 1941.2,612.5 1942.6,615.1 1944,614.3 1945.4,614.2 1946.8,614.6 1948.1,614.5 1949.5,614.7 1950.9,614.2 1952.3,615.7 1953.6,614.5 1955,615.5 1956.4,614.2 1957.8,614.5 1959.1,613.6 1960.5,614.5 1961.9,615.3 1963.3,614.2 1964.6,612.5 1966,613 1967.4,614 1968.8,615 1970.1,614.7 1971.5,615.1 1972.9,615.6 1974.3,614.9 1975.6,616.3 1977,614.6 1978.4,615.1 1979.8,614.3 1981.1,615.5 1982.5,615.8 1983.9,614.2 1985.3,614.2 1986.6,615.2 1988,614.7 1989.4,615.6 1990.8,614.1 1992.1,616.2 1993.5,614.5 1994.9,615.4 1996.3,615.5 1997.6,614.5 1999,614 2000.4,614.4" stroke="#0000ff" stroke-width="3.4" marker-start="url(#rc)" marker-mid="url(#rc)" marker-end="url(#rc)"/>
<polyline points="1120,618.6 1121.4,615.5 1122.8,612.4 1124.1,606.9 1125.5,603.9 1126.9,602.2 1128.3,595.6 1129.6,595.3 1131,591.7 1132.4,588.4 1133.8,586.2 1135.1,585 1136.5,583.5 1137.9,578.3 1139.3,576 1140.6,573.5 1142,569.2 1143.4,567.6 1144.8,562.7 1146.1,559.3 1147.5,555.4 1148.9,549.2 1150.3,550.6 1151.6,545.7 1153,540.7 1154.4,537.5 1155.8,534.1 1157.1,528.5 1158.5,522.5 1159.9,517.8 1161.3,515.6 1162.6,512 1164,504.7 1165.4,499.5 1166.8,498.8 1168.1,496 1169.5,488.3 1170.9,484.2 1172.3,483.6 1173.6,476.7 1175,470.2 1176.4,471.8 1177.8,465.9 1179.2,459.7 1180.5,455.9 1181.9,451.8 1183.3,446.5 1184.7,442.2 1186,437.7 1187.4,430.8 1188.8,431.8 1190.2,421.5 1191.5,415.3 1192.9,412 1194.3,413.8 1195.7,405.5 1197,397.6 1198.4,390.5 1199.8,387.9 1201.2,384.9 1202.5,380.7 1203.9,374.8 1205.3,369.1 1206.7,371.3 1208,363.1 1209.4,354.1 1210.8,355.4 1212.2,347 1213.5,341.5 1214.9,339.3 1216.3,338.2 1217.7,331.8 1219,328.7 1220.4,326.2 1221.8,321.3 1223.2,317 1224.5,309.4 1225.9,305.3 1227.3,300.5 1228.7,301.1 1230,294.6 1231.4,296.4 1232.8,288.9 1234.2,293.5 1235.6,288.7 1236.9,288.9 1238.3,289.4 1239.7,287.1 1241.1,284 1242.4,286.1 1243.8,286.4 1245.2,277.6 1246.6,281.5 1247.9,281.4 1249.3,287.5 1250.7,285.2 1252.1,281.7 1253.4,284.6 1254.8,279.1 1256.2,282.9 1257.6,289 1258.9,282.1 1260.3,284.7 1261.7,293.4 1263.1,283.5 1264.4,284.3 1265.8,285.5 1267.2,286.9 1268.6,293 1269.9,290.2 1271.3,290.3 1272.7,288.5 1274.1,293.1 1275.4,294.4 1276.8,296.8 1278.2,302.7 1279.6,301 1280.9,291.1 1282.3,304.5 1283.7,316.5 1285.1,316.3 1286.5,310.3 1287.8,316.7 1289.2,321 1290.6,325.6 1292,330.9 1293.3,334.3 1294.7,327.3 1296.1,332.2 1297.5,337.6 1298.8,335.1 1300.2,333.7 1301.6,347.8 1303,351.9 1304.3,349.5 1305.7,350.9 1307.1,348.8 1308.5,354.8 1309.8,359.6 1311.2,361.9 1312.6,364.2 1314,373.3 1315.3,378 1316.7,377.6 1318.1,385 1319.5,389.2 1320.8,388.9 1322.2,389.2 1323.6,396.4 1325,403.1 1326.3,401.1 1327.7,405.8 1329.1,414.2 1330.5,414.9 1331.8,410.7 1333.2,422.4 1334.6,424.7 1336,432.1 1337.3,431.1 1338.7,425.8 1340.1,435.3 1341.5,440.3 1342.9,441 1344.2,446.9 1345.6,442.5 1347,446.2 1348.4,450.4 1349.7,454 1351.1,452.8 1352.5,453.3 1353.9,451.4 1355.2,455 1356.6,456.6 1358,458.1 1359.4,459.7 1360.7,463.3 1362.1,464.4 1363.5,468.6 1364.9,465.5 1366.2,468.3 1367.6,470.6 1369,478.6 1370.4,477.6 1371.7,476.6 1373.1,481.8 1374.5,481.1 1375.9,480.9 1377.2,484.7 1378.6,488.6 1380,483.8 1381.4,489.5 1382.7,490.7 1384.1,494.5 1385.5,491.4 1386.9,494.3 1388.2,498.8 1389.6,495.7 1391,502.4 1392.4,500.5 1393.7,503.7 1395.1,509.8 1396.5,506.5 1397.9,507.6 1399.3,511.2 1400.6,510.3 1402,509.8 1403.4,512.4 1404.8,514.3 1406.1,515.7 1407.5,513.1 1408.9,517.7 1410.3,517.7 1411.6,515.8 1413,518.3 1414.4,521 1415.8,520.6 1417.1,524.8 1418.5,527.3 1419.9,523.8 1421.3,524.2 1422.6,526.2 1424,529.5 1425.4,528.2 1426.8,532.6 1428.1,534 1429.5,530.5 1430.9,528.2 1432.3,536.2 1433.6,535.9 1435,537.3 1436.4,537.5 1437.8,541 1439.1,541.2 1440.5,541.7 1441.9,546.1 1443.3,545.8 1444.6,542.9 1446,546.9 1447.4,545 1448.8,546.7 1450.2,549.8 1451.5,551.2 1452.9,553 1454.3,551 1455.7,552.7 1457,554.7 1458.4,551.5 1459.8,558.1 1461.2,558.8 1462.5,557.2 1463.9,557.9 1465.3,554.3 1466.7,559.5 1468,559.8 1469.4,561.8 1470.8,562 1472.2,563.6 1473.5,565.3 1474.9,564.4 1476.3,565.4 1477.7,563.1 1479,564.8 1480.4,566.6 1481.8,568 1483.2,567.5 1484.5,566.3 1485.9,571.3 1487.3,569.9 1488.7,571.9 1490,570.4 1491.4,571.3 1492.8,571.2 1494.2,573.3 1495.5,572.9 1496.9,574.8 1498.3,574 1499.7,575.3 1501,574.1 1502.4,578.6 1503.8,577.2 1505.2,576.5 1506.6,577.2 1507.9,578.7 1509.3,578.6 1510.7,580.9 1512.1,578.6 1513.4,575.6 1514.8,579.8 1516.2,582.9 1517.6,581.1 1518.9,581.3 1520.3,582.1 1521.7,579.7 1523.1,582.8 1524.4,583.7 1525.8,579.3 1527.2,583.6 1528.6,582.7 1529.9,583.3 1531.3,584 1532.7,587.3 1534.1,588.3 1535.4,585.4 1536.8,587.1 1538.2,585.6 1539.6,587.9 1540.9,588.1 1542.3,589 1543.7,587.7 1545.1,587.6 1546.4,588.5 1547.8,589.7 1549.2,590.1 1550.6,589.3 1551.9,590.3 1553.3,590.4 1554.7,590.1 1556.1,591.9 1557.4,592.8 1558.8,592.1 1560.2,591.6 1561.6,593.5 1563,591.9 1564.3,590.6 1565.7,593.3 1567.1,591.9 1568.5,593.2 1569.8,592.8 1571.2,593.5 1572.6,593.3 1574,594.3 1575.3,592.4 1576.7,593.6 1578.1,593.1 1579.5,594.2 1580.8,593.8 1582.2,595.2 1583.6,595 1585,595.9 1586.3,594.6 1587.7,599.2 1589.1,596.3 1590.5,596.1 1591.8,597.7 1593.2,595.4 1594.6,596.9 1596,597.7 1597.3,597.3 1598.7,598 1600.1,596.3 1601.5,596.9 1602.8,598 1604.2,598.6 1605.6,599.1 1607,597.4 1608.3,599.5 1609.7,598.5 1611.1,597.8 1612.5,600.4 1613.8,598.6 1615.2,600.4 1616.6,599.1 1618,600.7 1619.4,600.4 1620.7,600.2 1622.1,600.2 1623.5,601.5 1624.9,600.1 1626.2,601.7 1627.6,600.6 1629,601.4 1630.4,601.8 1631.7,602.9 1633.1,600.9 1634.5,604.1 1635.9,601.9 1637.2,602.5 1638.6,600.4 1640,602.2 1641.4,602.3 1642.7,601.2 1644.1,605.3 1645.5,601.8 1646.9,604.2 1648.2,605.3 1649.6,602.3 1651,604.5 1652.4,603 1653.7,600.7 1655.1,604.9 1656.5,603.7 1657.9,603.9 1659.2,604.8 1660.6,605.5 1662,605.1 1663.4,606.6 1664.7,605.7 1666.1,606.3 1667.5,607.8 1668.9,604.6 1670.2,604.6 1671.6,605.2 1673,604.1 1674.4,606.1 1675.8,604.1 1677.1,605.7 1678.5,605.4 1679.9,605.6 1681.3,608.2 1682.6,607.4 1684,606.8 1685.4,607.2 1686.8,606.8 1688.1,606 1689.5,606.4 1690.9,608 1692.3,606.6 1693.6,606.3 1695,605.2 1696.4,608.3 1697.8,606 1699.1,608.1 1700.5,608.4 1701.9,607.8 1703.3,607.6 1704.6,607.9 1706,606.5 1707.4,606.5 1708.8,609 1710.1,608.7 1711.5,608 1712.9,608.8 1714.3,611 1715.6,608.2 1717,608.9 1718.4,609.4 1719.8,609.4 1721.1,608.1 1722.5,610.2 1723.9,608.2 1725.3,609.9 1726.7,609.1 1728,610.5 1729.4,608.9 1730.8,608.9 1732.2,608.1 1733.5,609.7 1734.9,609.2 1736.3,610.3 1737.7,608.7 1739,609.7 1740.4,611.4 1741.8,609.5 1743.2,610.3 1744.5,610.8 1745.9,610.9 1747.3,610.4 1748.7,611.3 1750,610.1 1751.4,610.3 1752.8,610.8 1754.2,609.5 1755.5,611.5 1756.9,609.7 1758.3,610.7 1759.7,610.9 1761,611 1762.4,610.7 1763.8,611.9 1765.2,610.6 1766.5,612 1767.9,610.3 1769.3,611.9 1770.7,611.3 1772,611.5 1773.4,612.4 1774.8,611 1776.2,609.9 1777.5,612 1778.9,610.8 1780.3,611.3 1781.7,612 1783.1,611.9 1784.4,611.4 1785.8,612.5 1787.2,610.7 1788.6,611.9 1789.9,611.2 1791.3,611.9 1792.7,613 1794.1,611.5 1795.4,612.4 1796.8,613 1798.2,612.6 1799.6,610.6 1800.9,612.4 1802.3,612.8 1803.7,613.6 1805.1,611.5 1806.4,613.3 1807.8,613.1 1809.2,615.9 1810.6,611.9 1811.9,612.8 1813.3,612.3 1814.7,612.8 1816.1,612.7 1817.4,613.4 1818.8,611.5 1820.2,613.9 1821.6,613.6 1822.9,612.5 1824.3,613.4 1825.7,614.3 1827.1,613 1828.4,612.8 1829.8,613.1 1831.2,611.6 1832.6,611.7 1833.9,613.2 1835.3,613.6 1836.7,611.9 1838.1,613.8 1839.5,614.2 1840.8,615.3 1842.2,613.4 1843.6,613.9 1845,612.5 1846.3,612.4 1847.7,613.2 1849.1,612.4 1850.5,614.3 1851.8,613.9 1853.2,611.4 1854.6,613 1856,613.5 1857.3,612.5 1858.7,613.7 1860.1,614.2 1861.5,613.7 1862.8,613.5 1864.2,615.3 1865.6,613.5 1867,613.9 1868.3,612.4 1869.7,613.7 1871.1,612.9 1872.5,614.5 1873.8,613.9 1875.2,615.6 1876.6,615.2 1878,613.4 1879.3,615.1 1880.7,615.8 1882.1,613 1883.5,614.7 1884.8,615.6 1886.2,613.5 1887.6,614.6 1889,614.1 1890.4,613.6 1891.7,614.5 1893.1,614.7 1894.5,613.7 1895.9,613 1897.2,614.5 1898.6,614.2 1900,613.6 1901.4,615.1 1902.7,612.2 1904.1,616.4 1905.5,613.3 1906.9,615 1908.2,614.5 1909.6,614.7 1911,614.2 1912.4,614.8 1913.7,615.1 1915.1,614.7 1916.5,615.1 1917.9,614.9 1919.2,614.6 1920.6,614 1922,614.6 1923.4,615.3 1924.7,614.6 1926.1,613.9 1927.5,614.5 1928.9,614.2 1930.2,613.3 1931.6,616.1 1933,614.4 1934.4,615.4 1935.7,614.3 1937.1,613.5 1938.5,614 1939.9,614.1 1941.2,616.1 1942.6,616 1944,614.5 1945.4,613.3 1946.8,614 1948.1,614.2 1949.5,615.2 1950.9,613.9 1952.3,614.3 1953.6,614.3 1955,615.2 1956.4,615.1 1957.8,613.9 1959.1,616 1960.5,613.5 1961.9,614.8 1963.3,615.2 1964.6,614.5 1966,614.3 1967.4,614.7 1968.8,615.6 1970.1,614.4 1971.5,614.3 1972.9,616 1974.3,614.9 1975.6,613 1977,614.8 1978.4,615.5 1979.8,614.4 1981.1,615.4 1982.5,615.4 1983.9,615 1985.3,614.1 1986.6,615.1 1988,613 1989.4,613.9 1990.8,614.8 1992.1,614.2 1993.5,613.7 1994.9,614.3 1996.3,613.9 1997.6,613.3 1999,614.7 2000.4,615.3" stroke="#ff7f0e" stroke-width="3.4" marker-start="url(#rd)" marker-mid="url(#rd)" marker-end="url(#rd)"/>
<polyline points="1120,618.6 1121.4,616.6 1122.8,609.7 1124.1,606.5 1125.5,599.4 1126.9,595.6 1128.3,593.4 1129.6,586.3 1131,583.6 1132.4,578.4 1133.8,571.7 1135.1,565 1136.5,561.5 1137.9,555.8 1139.3,552.9 1140.6,546 1142,544.5 1143.4,535.5 1144.8,530.4 1146.1,527.4 1147.5,525.5 1148.9,517.3 1150.3,510.6 1151.6,511.7 1153,503.5 1154.4,494.7 1155.8,490.1 1157.1,485.6 1158.5,483.2 1159.9,478.9 1161.3,474.4 1162.6,465.3 1164,467.3 1165.4,460.7 1166.8,454 1168.1,449.9 1169.5,446.2 1170.9,441.5 1172.3,435.8 1173.6,433 1175,427.4 1176.4,421 1177.8,419.6 1179.2,411.9 1180.5,405.2 1181.9,406.4 1183.3,399.9 1184.7,390.5 1186,392.9 1187.4,387.5 1188.8,378.2 1190.2,374 1191.5,364.3 1192.9,359.6 1194.3,351.5 1195.7,352.3 1197,350.7 1198.4,336.2 1199.8,336.5 1201.2,336 1202.5,329.3 1203.9,329.9 1205.3,332.6 1206.7,328.8 1208,323.5 1209.4,326.2 1210.8,323.1 1212.2,309.1 1213.5,316.3 1214.9,312.7 1216.3,309.9 1217.7,316.3 1219,316.8 1220.4,309.5 1221.8,313.8 1223.2,300.2 1224.5,299.1 1225.9,306.7 1227.3,308.1 1228.7,304.5 1230,298.2 1231.4,297.5 1232.8,298.2 1234.2,297.9 1235.6,302.1 1236.9,300.3 1238.3,302.7 1239.7,298.9 1241.1,303.8 1242.4,301.3 1243.8,301.8 1245.2,295.5 1246.6,299.4 1247.9,299.5 1249.3,305.1 1250.7,305 1252.1,307.1 1253.4,309.8 1254.8,310.2 1256.2,303.4 1257.6,309.7 1258.9,309.1 1260.3,318.3 1261.7,313.6 1263.1,318.4 1264.4,320.7 1265.8,319.1 1267.2,322.2 1268.6,323.3 1269.9,321.8 1271.3,328.7 1272.7,325.3 1274.1,330 1275.4,334.3 1276.8,329.7 1278.2,335.4 1279.6,335.6 1280.9,341.4 1282.3,341 1283.7,338.2 1285.1,346 1286.5,347.2 1287.8,353.6 1289.2,347.8 1290.6,346.1 1292,353.2 1293.3,358.6 1294.7,359.9 1296.1,361.8 1297.5,357.6 1298.8,365.9 1300.2,368.8 1301.6,379.6 1303,376.7 1304.3,380.8 1305.7,383.6 1307.1,388.3 1308.5,388.2 1309.8,395.7 1311.2,400.7 1312.6,398.4 1314,405.9 1315.3,405.4 1316.7,408.4 1318.1,415 1319.5,414.6 1320.8,422.6 1322.2,421.3 1323.6,425.4 1325,423.1 1326.3,425.7 1327.7,432.3 1329.1,438.1 1330.5,440.2 1331.8,438.8 1333.2,437.8 1334.6,439.5 1336,442.7 1337.3,445.3 1338.7,450.3 1340.1,448.2 1341.5,452.9 1342.9,452.1 1344.2,457.9 1345.6,461.5 1347,462.5 1348.4,461.7 1349.7,463 1351.1,465.7 1352.5,467.3 1353.9,469.7 1355.2,476.5 1356.6,477 1358,478.1 1359.4,479.4 1360.7,484.8 1362.1,483.7 1363.5,483 1364.9,486.6 1366.2,485.9 1367.6,486.7 1369,496.1 1370.4,493.4 1371.7,492.2 1373.1,496.4 1374.5,496.5 1375.9,498.8 1377.2,500.2 1378.6,504.2 1380,503.8 1381.4,505.2 1382.7,507.9 1384.1,510.6 1385.5,511.3 1386.9,516.8 1388.2,517.9 1389.6,515 1391,516.9 1392.4,521.1 1393.7,524.8 1395.1,518.8 1396.5,521.6 1397.9,523.5 1399.3,525.1 1400.6,529.9 1402,527.7 1403.4,528.9 1404.8,532.3 1406.1,534.9 1407.5,531.7 1408.9,536.6 1410.3,535.3 1411.6,534.3 1413,537.5 1414.4,536.7 1415.8,539.6 1417.1,534.7 1418.5,542.2 1419.9,542.2 1421.3,543.4 1422.6,542.6 1424,542.1 1425.4,543.7 1426.8,545 1428.1,546.2 1429.5,546.5 1430.9,546.5 1432.3,549.7 1433.6,550.2 1435,549.7 1436.4,551.7 1437.8,552 1439.1,553 1440.5,553.6 1441.9,555.2 1443.3,556.2 1444.6,552.6 1446,555.4 1447.4,559.3 1448.8,559.5 1450.2,557.6 1451.5,559 1452.9,560.7 1454.3,560.7 1455.7,559.4 1457,561.9 1458.4,561.1 1459.8,560.6 1461.2,562.2 1462.5,562.3 1463.9,563 1465.3,567.4 1466.7,565.5 1468,564.8 1469.4,565.6 1470.8,566.3 1472.2,568.3 1473.5,565.3 1474.9,570.3 1476.3,570.9 1477.7,569.1 1479,568 1480.4,568.4 1481.8,573.9 1483.2,571.3 1484.5,572.6 1485.9,573.6 1487.3,572.8 1488.7,569.8 1490,576 1491.4,575.3 1492.8,575.5 1494.2,575.9 1495.5,576 1496.9,575.9 1498.3,578.8 1499.7,576.6 1501,580.1 1502.4,577.8 1503.8,576.5 1505.2,578.4 1506.6,580.6 1507.9,579 1509.3,581.3 1510.7,582.5 1512.1,580.3 1513.4,579.4 1514.8,580.6 1516.2,579.9 1517.6,583.6 1518.9,581.4 1520.3,582.3 1521.7,586.7 1523.1,583.6 1524.4,585.3 1525.8,582.7 1527.2,584.3 1528.6,584.6 1529.9,588.1 1531.3,583.9 1532.7,583.8 1534.1,586.9 1535.4,586.2 1536.8,585.5 1538.2,586.6 1539.6,584.6 1540.9,585.9 1542.3,585.8 1543.7,585.4 1545.1,589.6 1546.4,586.9 1547.8,587.5 1549.2,586.9 1550.6,587.3 1551.9,588.5 1553.3,587.6 1554.7,589.8 1556.1,588.4 1557.4,592.5 1558.8,589.5 1560.2,590.6 1561.6,591.3 1563,590.2 1564.3,592.5 1565.7,592.8 1567.1,591.9 1568.5,592.8 1569.8,591 1571.2,592.1 1572.6,590.7 1574,592.7 1575.3,594 1576.7,590.8 1578.1,592.5 1579.5,596.8 1580.8,595.7 1582.2,597 1583.6,594.9 1585,595.2 1586.3,595.6 1587.7,596.4 1589.1,595.9 1590.5,596.5 1591.8,596.3 1593.2,596.3 1594.6,596 1596,597.3 1597.3,598.3 1598.7,599.9 1600.1,598 1601.5,597 1602.8,599.9 1604.2,600.3 1605.6,599.8 1607,600.4 1608.3,599.5 1609.7,599.5 1611.1,598.5 1612.5,600.5 1613.8,598.7 1615.2,599.6 1616.6,599.3 1618,599.8 1619.4,600.2 1620.7,600.9 1622.1,600.4 1623.5,601.5 1624.9,600.9 1626.2,600.8 1627.6,602.9 1629,601.2 1630.4,601.2 1631.7,601.1 1633.1,601.9 1634.5,601.5 1635.9,603.7 1637.2,602.6 1638.6,600.8 1640,602.7 1641.4,604.7 1642.7,602.4 1644.1,602.9 1645.5,603.9 1646.9,602.2 1648.2,603.2 1649.6,603.6 1651,602 1652.4,605 1653.7,604.9 1655.1,603.5 1656.5,603.9 1657.9,603.9 1659.2,602.1 1660.6,604.7 1662,604.3 1663.4,604.3 1664.7,605.9 1666.1,604.8 1667.5,605.3 1668.9,605.2 1670.2,605.1 1671.6,604.6 1673,605.7 1674.4,606.1 1675.8,605.6 1677.1,605 1678.5,605.7 1679.9,607.3 1681.3,605.2 1682.6,604.9 1684,606.7 1685.4,605.6 1686.8,607.1 1688.1,607.3 1689.5,605.5 1690.9,606.2 1692.3,606.8 1693.6,605.9 1695,607.6 1696.4,607.4 1697.8,608.1 1699.1,608.4 1700.5,607.1 1701.9,608.3 1703.3,609.4 1704.6,608.9 1706,607.5 1707.4,606.8 1708.8,607.8 1710.1,606.9 1711.5,608.4 1712.9,608.3 1714.3,609.1 1715.6,608.9 1717,608.6 1718.4,610.1 1719.8,608.7 1721.1,607.9 1722.5,611 1723.9,609.1 1725.3,608.7 1726.7,609 1728,609 1729.4,609.1 1730.8,608.9 1732.2,609.3 1733.5,609.4 1734.9,610.2 1736.3,608.9 1737.7,609.6 1739,609 1740.4,610.3 1741.8,609.8 1743.2,609 1744.5,611 1745.9,610.1 1747.3,610.8 1748.7,610.2 1750,609.6 1751.4,610.8 1752.8,610.3 1754.2,609.7 1755.5,609.2 1756.9,610.8 1758.3,611.4 1759.7,611.3 1761,611.1 1762.4,610.2 1763.8,611.5 1765.2,611.7 1766.5,612.1 1767.9,610.2 1769.3,609.9 1770.7,610.1 1772,612 1773.4,611.7 1774.8,611.3 1776.2,611.7 1777.5,611.4 1778.9,613.2 1780.3,610.8 1781.7,611.6 1783.1,612.4 1784.4,613.6 1785.8,611.1 1787.2,611 1788.6,612.3 1789.9,612.6 1791.3,610.8 1792.7,613.6 1794.1,611.3 1795.4,612.5 1796.8,612.1 1798.2,613.3 1799.6,612.3 1800.9,612.3 1802.3,611.5 1803.7,611.4 1805.1,612.3 1806.4,611.6 1807.8,614.3 1809.2,611.9 1810.6,611.2 1811.9,612.2 1813.3,612.9 1814.7,612.6 1816.1,613.5 1817.4,612.4 1818.8,611.8 1820.2,614 1821.6,612.4 1822.9,613.8 1824.3,614.1 1825.7,614.3 1827.1,612.9 1828.4,613.9 1829.8,611 1831.2,612.9 1832.6,614.6 1833.9,612.8 1835.3,614.2 1836.7,615.3 1838.1,613.7 1839.5,615.1 1840.8,612.7 1842.2,614.5 1843.6,613.9 1845,613 1846.3,615.1 1847.7,615 1849.1,614.4 1850.5,613.5 1851.8,614.5 1853.2,614.1 1854.6,612.9 1856,614 1857.3,612.7 1858.7,613 1860.1,612.9 1861.5,612.9 1862.8,612.4 1864.2,613.3 1865.6,614 1867,614.5 1868.3,613.3 1869.7,614.2 1871.1,615.5 1872.5,614 1873.8,614.2 1875.2,612.7 1876.6,613.2 1878,615.2 1879.3,614.2 1880.7,613.6 1882.1,615.1 1883.5,614.1 1884.8,614.3 1886.2,613.1 1887.6,614.3 1889,614.1 1890.4,613.9 1891.7,614.1 1893.1,613.7 1894.5,614 1895.9,615.4 1897.2,613.5 1898.6,614 1900,613.5 1901.4,614.4 1902.7,614 1904.1,614.9 1905.5,616.9 1906.9,615.5 1908.2,614.4 1909.6,614.8 1911,615.8 1912.4,614.9 1913.7,614.7 1915.1,614.2 1916.5,614.7 1917.9,614.9 1919.2,613.8 1920.6,613.2 1922,614.7 1923.4,614.8 1924.7,614.8 1926.1,614.6 1927.5,615.1 1928.9,615.5 1930.2,614.9 1931.6,615.2 1933,613.7 1934.4,614.3 1935.7,615 1937.1,615 1938.5,614.8 1939.9,616.6 1941.2,615 1942.6,615.8 1944,615.1 1945.4,615.2 1946.8,613.5 1948.1,614.4 1949.5,615.5 1950.9,613.5 1952.3,615.5 1953.6,613.5 1955,615.6 1956.4,615.2 1957.8,614.9 1959.1,614.9 1960.5,614.7 1961.9,614.8 1963.3,613.4 1964.6,615 1966,615.8 1967.4,614.4 1968.8,614.4 1970.1,615.9 1971.5,614 1972.9,614.5 1974.3,614.8 1975.6,614.7 1977,614.5 1978.4,615.9 1979.8,614.6 1981.1,614.3 1982.5,615.6 1983.9,613.8 1985.3,614.4 1986.6,615.3 1988,615.3 1989.4,615.1 1990.8,614.4 1992.1,614.1 1993.5,615.2 1994.9,616 1996.3,614.7 1997.6,615.6 1999,614.4 2000.4,613.8" stroke="#008000" stroke-width="3.4" marker-start="url(#rp)" marker-mid="url(#rp)" marker-end="url(#rp)"/>
</g>
<rect x="1120" y="33.5" width="880.4" height="612.7" fill="none" stroke="#000" stroke-width="3.2"/>
<text transform="translate(1111.42,688.60) scale(0.9400,1.0100)" font-family='"Liberation Serif", serif' font-size="36.5">0</text>
<text transform="translate(1221.00,688.60) scale(0.9400,1.0100)" font-family='"Liberation Serif", serif' font-size="36.5">1</text>
<text transform="translate(1331.72,688.60) scale(0.9400,1.0100)" font-family='"Liberation Serif", serif' font-size="36.5">2</text>
<text transform="translate(1441.42,688.60) scale(0.9400,1.0100)" font-family='"Liberation Serif", serif' font-size="36.5">3</text>
<text transform="translate(1551.56,688.60) scale(0.9400,1.0100)" font-family='"Liberation Serif", serif' font-size="36.5">4</text>
<text transform="translate(1661.35,688.60) scale(0.9400,1.0100)" font-family='"Liberation Serif", serif' font-size="36.5">5</text>
<text transform="translate(1771.50,688.60) scale(0.9400,1.0100)" font-family='"Liberation Serif", serif' font-size="36.5">6</text>
<text transform="translate(1881.14,688.60) scale(0.9400,1.0100)" font-family='"Liberation Serif", serif' font-size="36.5">7</text>
<text transform="translate(1991.82,688.60) scale(0.9400,1.0100)" font-family='"Liberation Serif", serif' font-size="36.5">8</text>
<text transform="translate(1070.76,631.70) scale(0.9550,1.0100)" font-family='"Liberation Serif", serif' font-size="36.5">0.0</text>
<text transform="translate(1071.35,506.30) scale(0.9550,1.0100)" font-family='"Liberation Serif", serif' font-size="36.5">0.2</text>
<text transform="translate(1069.97,380.90) scale(0.9550,1.0100)" font-family='"Liberation Serif", serif' font-size="36.5">0.4</text>
<text transform="translate(1070.47,255.50) scale(0.9550,1.0100)" font-family='"Liberation Serif", serif' font-size="36.5">0.6</text>
<text transform="translate(1070.76,130.10) scale(0.9550,1.0100)" font-family='"Liberation Serif", serif' font-size="36.5">0.8</text>
<text transform="translate(1515.90,729.10) scale(0.9895,1.0000)" font-family='"Liberation Serif", serif' font-size="36.6" font-style="italic">d</text>
<text transform="translate(1534.33,734.70) scale(0.9768,1.0000)" font-family='"Liberation Serif", serif' font-size="25.3">1</text>
<text transform="translate(1549.60,737.80) scale(1.3473,1.4900)" font-family='"Liberation Serif", serif' font-size="36.6">/</text>
<text transform="translate(1567.72,729.10) scale(1.1118,1.0350)" font-family='"Liberation Serif", serif' font-size="36.6" font-style="italic">R</text>
<text transform="translate(1592.10,734.70) scale(1.0352,1.0000)" font-family='"Liberation Serif", serif' font-size="25.3">0</text>
<text transform="translate(1057.00,378.77) rotate(-90) scale(1.1700,1.0390)" font-family='"Liberation Serif", serif' font-size="36.6" font-style="italic">P</text>
<text transform="translate(1057.00,350.39) rotate(-90) scale(0.9966,1.0390)" font-family='"Liberation Serif", serif' font-size="36.6" font-style="italic">D</text>
<text transform="translate(1057.00,320.39) rotate(-90) scale(1.0894,1.0390)" font-family='"Liberation Serif", serif' font-size="36.6" font-style="italic">F</text>
<text transform="translate(1466.01,25.40) scale(1.0764,1.0300)" font-family='"Liberation Serif", serif' font-size="36.4" font-style="italic" stroke="#000" stroke-width="0.45" stroke-linejoin="round">d</text>
<text transform="translate(1485.75,29.40) scale(0.8243,1.0300)" font-family='"Liberation Serif", serif' font-size="25.5" stroke="#000" stroke-width="0.45" stroke-linejoin="round">1</text>
<text transform="translate(1498.90,25.40) scale(1.0481,1.0300)" font-family='"Liberation Serif", serif' font-size="36.4" stroke="#000" stroke-width="0.45" stroke-linejoin="round">/</text>
<text transform="translate(1510.68,25.40) scale(0.8980,1.0300)" font-family='"Liberation Serif", serif' font-size="36.4" font-style="italic" stroke="#000" stroke-width="0.45" stroke-linejoin="round">R</text>
<text transform="translate(1530.61,29.40) scale(1.1196,1.0300)" font-family='"Liberation Serif", serif' font-size="25.5" stroke="#000" stroke-width="0.45" stroke-linejoin="round">0</text>
<text transform="translate(1865.57,486.50) scale(0.9837,1.0000)" font-family='"Liberation Sans", sans-serif' font-size="34.9">(b)</text>
<path d="M1764.1,75.2H1833.75" stroke="#ff0000" stroke-width="3.5"/>
<path d="M1798.92,70.95 L1803.17,79.45 L1794.67,79.45 Z" fill="#ff0000" stroke="#ff0000" stroke-width="1" stroke-linejoin="miter"/>
<text transform="translate(1859.91,86.85) scale(1.1447,1.0000)" font-family='"Liberation Serif", serif' font-size="34.6" font-style="italic">P</text>
<text transform="translate(1883.79,86.85) scale(0.9471,1.0000)" font-family='"Liberation Serif", serif' font-size="34.6" font-style="italic">e</text>
<text transform="translate(1906.63,88.05) scale(1.3167,0.8200)" font-family='"Liberation Serif", serif' font-size="34.6">=</text>
<text transform="translate(1940.00,86.85) scale(0.9300,1.0000)" font-family='"Liberation Serif", serif' font-size="33.562">1</text>
<path d="M1764.1,121.25H1833.75" stroke="#1f77b4" stroke-width="3.5"/>
<path d="M1795.17,117.50 L1802.67,117.50 L1802.67,125.00 L1795.17,125.00 Z" fill="#1f77b4" stroke="#1f77b4" stroke-width="1" stroke-linejoin="miter"/>
<text transform="translate(1859.91,132.90) scale(1.1447,1.0000)" font-family='"Liberation Serif", serif' font-size="34.6" font-style="italic">P</text>
<text transform="translate(1883.79,132.90) scale(0.9471,1.0000)" font-family='"Liberation Serif", serif' font-size="34.6" font-style="italic">e</text>
<text transform="translate(1906.63,134.10) scale(1.3167,0.8200)" font-family='"Liberation Serif", serif' font-size="34.6">=</text>
<text transform="translate(1940.00,132.90) scale(0.9300,1.0000)" font-family='"Liberation Serif", serif' font-size="33.562">2</text>
<path d="M1764.1,167.3H1833.75" stroke="#0000ff" stroke-width="3.5"/>
<circle cx="1798.92" cy="167.3" r="3.75" fill="#0000ff" stroke="#0000ff" stroke-width="1"/>
<text transform="translate(1859.91,178.95) scale(1.1447,1.0000)" font-family='"Liberation Serif", serif' font-size="34.6" font-style="italic">P</text>
<text transform="translate(1883.79,178.95) scale(0.9471,1.0000)" font-family='"Liberation Serif", serif' font-size="34.6" font-style="italic">e</text>
<text transform="translate(1906.63,180.15) scale(1.3167,0.8200)" font-family='"Liberation Serif", serif' font-size="34.6">=</text>
<text transform="translate(1940.00,178.95) scale(0.9300,1.0000)" font-family='"Liberation Serif", serif' font-size="33.562">4</text>
<path d="M1764.1,213.35H1833.75" stroke="#ff7f0e" stroke-width="3.5"/>
<path d="M1798.92,207.60 L1802.38,213.35 L1798.92,219.10 L1795.47,213.35 Z" fill="#ff7f0e" stroke="#ff7f0e" stroke-width="1" stroke-linejoin="miter"/>
<text transform="translate(1859.91,225.00) scale(1.1447,1.0000)" font-family='"Liberation Serif", serif' font-size="34.6" font-style="italic">P</text>
<text transform="translate(1883.79,225.00) scale(0.9471,1.0000)" font-family='"Liberation Serif", serif' font-size="34.6" font-style="italic">e</text>
<text transform="translate(1906.63,226.20) scale(1.3167,0.8200)" font-family='"Liberation Serif", serif' font-size="34.6">=</text>
<text transform="translate(1940.00,225.00) scale(0.9300,1.0000)" font-family='"Liberation Serif", serif' font-size="33.562">8</text>
<path d="M1764.1,259.4H1833.75" stroke="#008000" stroke-width="3.5"/>
<path d="M1798.92,255.40 L1802.73,258.16 L1801.28,262.64 L1796.57,262.64 L1795.12,258.16 Z" fill="#008000" stroke="#008000" stroke-width="1" stroke-linejoin="miter"/>
<text transform="translate(1859.91,271.05) scale(1.1447,1.0000)" font-family='"Liberation Serif", serif' font-size="34.6" font-style="italic">P</text>
<text transform="translate(1883.79,271.05) scale(0.9471,1.0000)" font-family='"Liberation Serif", serif' font-size="34.6" font-style="italic">e</text>
<text transform="translate(1906.63,272.25) scale(1.3167,0.8200)" font-family='"Liberation Serif", serif' font-size="34.6">=</text>
<text transform="translate(1940.00,271.05) scale(0.9300,1.0000)" font-family='"Liberation Serif", serif' font-size="33.562">16</text>
</svg>
</body></html>
